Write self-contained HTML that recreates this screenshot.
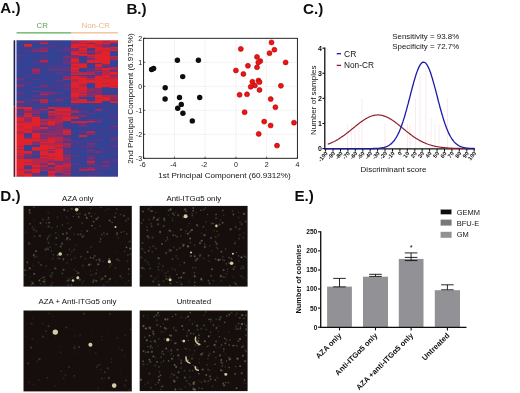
<!DOCTYPE html>
<html><head><meta charset="utf-8"><title>Figure</title>
<style>
html,body{margin:0;padding:0;background:#fff;}
body{width:520px;height:393px;overflow:hidden;font-family:"Liberation Sans",sans-serif;}
svg{display:block;font-family:"Liberation Sans",sans-serif;}
</style></head><body>
<svg width="520" height="393" viewBox="0 0 520 393">
<defs>
<filter id="hb" x="-2%" y="-2%" width="104%" height="104%"><feGaussianBlur stdDeviation="0.45 0.6"/></filter>
<filter id="sb" x="-5%" y="-5%" width="110%" height="110%"><feGaussianBlur stdDeviation="0.5"/></filter>
<clipPath id="hc"><rect x="16.3" y="40.3" width="101.7" height="136.5"/></clipPath>
<filter id="gb" x="0" y="0" width="100%" height="100%" filterUnits="userSpaceOnUse"><feGaussianBlur stdDeviation="0.32"/></filter>
</defs>
<rect width="520" height="393" fill="#fff"/>
<g filter="url(#gb)">
<g clip-path="url(#hc)"><g filter="url(#hb)"><rect x="12.30" y="36.30" width="109.70" height="144.50" fill="rgb(120,45,120)"/><rect x="16.30" y="40.30" width="101.70" height="136.50" fill="rgb(120,45,120)"/><g shape-rendering="crispEdges"><rect x="16.30" y="40.30" width="8.32" height="1.84" fill="rgb(50,66,148)"/><rect x="24.12" y="40.30" width="8.32" height="1.84" fill="rgb(50,66,148)"/><rect x="31.95" y="40.30" width="8.32" height="1.84" fill="rgb(64,60,142)"/><rect x="39.77" y="40.30" width="8.32" height="1.84" fill="rgb(88,55,134)"/><rect x="47.59" y="40.30" width="8.32" height="1.84" fill="rgb(64,60,142)"/><rect x="55.42" y="40.30" width="8.32" height="1.84" fill="rgb(64,60,142)"/><rect x="63.24" y="40.30" width="8.32" height="1.84" fill="rgb(50,66,148)"/><rect x="71.06" y="40.30" width="8.32" height="1.84" fill="rgb(182,40,76)"/><rect x="78.88" y="40.30" width="8.32" height="1.84" fill="rgb(182,40,76)"/><rect x="86.71" y="40.30" width="8.32" height="1.84" fill="rgb(226,34,44)"/><rect x="94.53" y="40.30" width="8.32" height="1.84" fill="rgb(226,34,44)"/><rect x="102.35" y="40.30" width="8.32" height="1.84" fill="rgb(182,40,76)"/><rect x="110.18" y="40.30" width="8.32" height="1.84" fill="rgb(226,34,44)"/><rect x="16.30" y="41.64" width="8.32" height="1.84" fill="rgb(64,60,142)"/><rect x="24.12" y="41.64" width="8.32" height="1.84" fill="rgb(50,66,148)"/><rect x="31.95" y="41.64" width="8.32" height="1.84" fill="rgb(88,55,134)"/><rect x="39.77" y="41.64" width="8.32" height="1.84" fill="rgb(130,45,110)"/><rect x="47.59" y="41.64" width="8.32" height="1.84" fill="rgb(50,66,148)"/><rect x="55.42" y="41.64" width="8.32" height="1.84" fill="rgb(64,60,142)"/><rect x="63.24" y="41.64" width="8.32" height="1.84" fill="rgb(50,66,148)"/><rect x="71.06" y="41.64" width="8.32" height="1.84" fill="rgb(130,45,110)"/><rect x="78.88" y="41.64" width="8.32" height="1.84" fill="rgb(226,34,44)"/><rect x="86.71" y="41.64" width="8.32" height="1.84" fill="rgb(226,34,44)"/><rect x="94.53" y="41.64" width="8.32" height="1.84" fill="rgb(226,34,44)"/><rect x="102.35" y="41.64" width="8.32" height="1.84" fill="rgb(182,40,76)"/><rect x="110.18" y="41.64" width="8.32" height="1.84" fill="rgb(226,34,44)"/><rect x="16.30" y="42.98" width="8.32" height="1.84" fill="rgb(64,60,142)"/><rect x="24.12" y="42.98" width="8.32" height="1.84" fill="rgb(64,60,142)"/><rect x="31.95" y="42.98" width="8.32" height="1.84" fill="rgb(64,60,142)"/><rect x="39.77" y="42.98" width="8.32" height="1.84" fill="rgb(226,34,44)"/><rect x="47.59" y="42.98" width="8.32" height="1.84" fill="rgb(64,60,142)"/><rect x="55.42" y="42.98" width="8.32" height="1.84" fill="rgb(64,60,142)"/><rect x="63.24" y="42.98" width="8.32" height="1.84" fill="rgb(50,66,148)"/><rect x="71.06" y="42.98" width="8.32" height="1.84" fill="rgb(182,40,76)"/><rect x="78.88" y="42.98" width="8.32" height="1.84" fill="rgb(182,40,76)"/><rect x="86.71" y="42.98" width="8.32" height="1.84" fill="rgb(88,55,134)"/><rect x="94.53" y="42.98" width="8.32" height="1.84" fill="rgb(226,34,44)"/><rect x="102.35" y="42.98" width="8.32" height="1.84" fill="rgb(226,34,44)"/><rect x="110.18" y="42.98" width="8.32" height="1.84" fill="rgb(64,60,142)"/><rect x="16.30" y="44.31" width="8.32" height="1.84" fill="rgb(50,66,148)"/><rect x="24.12" y="44.31" width="8.32" height="1.84" fill="rgb(226,34,44)"/><rect x="31.95" y="44.31" width="8.32" height="1.84" fill="rgb(50,66,148)"/><rect x="39.77" y="44.31" width="8.32" height="1.84" fill="rgb(50,66,148)"/><rect x="47.59" y="44.31" width="8.32" height="1.84" fill="rgb(64,60,142)"/><rect x="55.42" y="44.31" width="8.32" height="1.84" fill="rgb(64,60,142)"/><rect x="63.24" y="44.31" width="8.32" height="1.84" fill="rgb(50,66,148)"/><rect x="71.06" y="44.31" width="8.32" height="1.84" fill="rgb(226,34,44)"/><rect x="78.88" y="44.31" width="8.32" height="1.84" fill="rgb(226,34,44)"/><rect x="86.71" y="44.31" width="8.32" height="1.84" fill="rgb(226,34,44)"/><rect x="94.53" y="44.31" width="8.32" height="1.84" fill="rgb(182,40,76)"/><rect x="102.35" y="44.31" width="8.32" height="1.84" fill="rgb(130,45,110)"/><rect x="110.18" y="44.31" width="8.32" height="1.84" fill="rgb(50,66,148)"/><rect x="16.30" y="45.65" width="8.32" height="1.84" fill="rgb(50,66,148)"/><rect x="24.12" y="45.65" width="8.32" height="1.84" fill="rgb(182,40,76)"/><rect x="31.95" y="45.65" width="8.32" height="1.84" fill="rgb(50,66,148)"/><rect x="39.77" y="45.65" width="8.32" height="1.84" fill="rgb(64,60,142)"/><rect x="47.59" y="45.65" width="8.32" height="1.84" fill="rgb(88,55,134)"/><rect x="55.42" y="45.65" width="8.32" height="1.84" fill="rgb(50,66,148)"/><rect x="63.24" y="45.65" width="8.32" height="1.84" fill="rgb(50,66,148)"/><rect x="71.06" y="45.65" width="8.32" height="1.84" fill="rgb(226,34,44)"/><rect x="78.88" y="45.65" width="8.32" height="1.84" fill="rgb(182,40,76)"/><rect x="86.71" y="45.65" width="8.32" height="1.84" fill="rgb(226,34,44)"/><rect x="94.53" y="45.65" width="8.32" height="1.84" fill="rgb(182,40,76)"/><rect x="102.35" y="45.65" width="8.32" height="1.84" fill="rgb(88,55,134)"/><rect x="110.18" y="45.65" width="8.32" height="1.84" fill="rgb(64,60,142)"/><rect x="16.30" y="46.99" width="8.32" height="1.84" fill="rgb(50,66,148)"/><rect x="24.12" y="46.99" width="8.32" height="1.84" fill="rgb(50,66,148)"/><rect x="31.95" y="46.99" width="8.32" height="1.84" fill="rgb(50,66,148)"/><rect x="39.77" y="46.99" width="8.32" height="1.84" fill="rgb(88,55,134)"/><rect x="47.59" y="46.99" width="8.32" height="1.84" fill="rgb(64,60,142)"/><rect x="55.42" y="46.99" width="8.32" height="1.84" fill="rgb(64,60,142)"/><rect x="63.24" y="46.99" width="8.32" height="1.84" fill="rgb(88,55,134)"/><rect x="71.06" y="46.99" width="8.32" height="1.84" fill="rgb(226,34,44)"/><rect x="78.88" y="46.99" width="8.32" height="1.84" fill="rgb(182,40,76)"/><rect x="86.71" y="46.99" width="8.32" height="1.84" fill="rgb(226,34,44)"/><rect x="94.53" y="46.99" width="8.32" height="1.84" fill="rgb(226,34,44)"/><rect x="102.35" y="46.99" width="8.32" height="1.84" fill="rgb(182,40,76)"/><rect x="110.18" y="46.99" width="8.32" height="1.84" fill="rgb(226,34,44)"/><rect x="16.30" y="48.33" width="8.32" height="1.84" fill="rgb(50,66,148)"/><rect x="24.12" y="48.33" width="8.32" height="1.84" fill="rgb(64,60,142)"/><rect x="31.95" y="48.33" width="8.32" height="1.84" fill="rgb(88,55,134)"/><rect x="39.77" y="48.33" width="8.32" height="1.84" fill="rgb(130,45,110)"/><rect x="47.59" y="48.33" width="8.32" height="1.84" fill="rgb(50,66,148)"/><rect x="55.42" y="48.33" width="8.32" height="1.84" fill="rgb(50,66,148)"/><rect x="63.24" y="48.33" width="8.32" height="1.84" fill="rgb(88,55,134)"/><rect x="71.06" y="48.33" width="8.32" height="1.84" fill="rgb(130,45,110)"/><rect x="78.88" y="48.33" width="8.32" height="1.84" fill="rgb(226,34,44)"/><rect x="86.71" y="48.33" width="8.32" height="1.84" fill="rgb(64,60,142)"/><rect x="94.53" y="48.33" width="8.32" height="1.84" fill="rgb(226,34,44)"/><rect x="102.35" y="48.33" width="8.32" height="1.84" fill="rgb(226,34,44)"/><rect x="110.18" y="48.33" width="8.32" height="1.84" fill="rgb(182,40,76)"/><rect x="16.30" y="49.67" width="8.32" height="1.84" fill="rgb(50,66,148)"/><rect x="24.12" y="49.67" width="8.32" height="1.84" fill="rgb(88,55,134)"/><rect x="31.95" y="49.67" width="8.32" height="1.84" fill="rgb(130,45,110)"/><rect x="39.77" y="49.67" width="8.32" height="1.84" fill="rgb(130,45,110)"/><rect x="47.59" y="49.67" width="8.32" height="1.84" fill="rgb(64,60,142)"/><rect x="55.42" y="49.67" width="8.32" height="1.84" fill="rgb(88,55,134)"/><rect x="63.24" y="49.67" width="8.32" height="1.84" fill="rgb(88,55,134)"/><rect x="71.06" y="49.67" width="8.32" height="1.84" fill="rgb(130,45,110)"/><rect x="78.88" y="49.67" width="8.32" height="1.84" fill="rgb(182,40,76)"/><rect x="86.71" y="49.67" width="8.32" height="1.84" fill="rgb(64,60,142)"/><rect x="94.53" y="49.67" width="8.32" height="1.84" fill="rgb(226,34,44)"/><rect x="102.35" y="49.67" width="8.32" height="1.84" fill="rgb(182,40,76)"/><rect x="110.18" y="49.67" width="8.32" height="1.84" fill="rgb(226,34,44)"/><rect x="16.30" y="51.01" width="8.32" height="1.84" fill="rgb(64,60,142)"/><rect x="24.12" y="51.01" width="8.32" height="1.84" fill="rgb(64,60,142)"/><rect x="31.95" y="51.01" width="8.32" height="1.84" fill="rgb(130,45,110)"/><rect x="39.77" y="51.01" width="8.32" height="1.84" fill="rgb(182,40,76)"/><rect x="47.59" y="51.01" width="8.32" height="1.84" fill="rgb(50,66,148)"/><rect x="55.42" y="51.01" width="8.32" height="1.84" fill="rgb(50,66,148)"/><rect x="63.24" y="51.01" width="8.32" height="1.84" fill="rgb(64,60,142)"/><rect x="71.06" y="51.01" width="8.32" height="1.84" fill="rgb(182,40,76)"/><rect x="78.88" y="51.01" width="8.32" height="1.84" fill="rgb(226,34,44)"/><rect x="86.71" y="51.01" width="8.32" height="1.84" fill="rgb(182,40,76)"/><rect x="94.53" y="51.01" width="8.32" height="1.84" fill="rgb(182,40,76)"/><rect x="102.35" y="51.01" width="8.32" height="1.84" fill="rgb(226,34,44)"/><rect x="110.18" y="51.01" width="8.32" height="1.84" fill="rgb(50,66,148)"/><rect x="16.30" y="52.34" width="8.32" height="1.84" fill="rgb(50,66,148)"/><rect x="24.12" y="52.34" width="8.32" height="1.84" fill="rgb(50,66,148)"/><rect x="31.95" y="52.34" width="8.32" height="1.84" fill="rgb(50,66,148)"/><rect x="39.77" y="52.34" width="8.32" height="1.84" fill="rgb(50,66,148)"/><rect x="47.59" y="52.34" width="8.32" height="1.84" fill="rgb(50,66,148)"/><rect x="55.42" y="52.34" width="8.32" height="1.84" fill="rgb(50,66,148)"/><rect x="63.24" y="52.34" width="8.32" height="1.84" fill="rgb(64,60,142)"/><rect x="71.06" y="52.34" width="8.32" height="1.84" fill="rgb(226,34,44)"/><rect x="78.88" y="52.34" width="8.32" height="1.84" fill="rgb(182,40,76)"/><rect x="86.71" y="52.34" width="8.32" height="1.84" fill="rgb(88,55,134)"/><rect x="94.53" y="52.34" width="8.32" height="1.84" fill="rgb(182,40,76)"/><rect x="102.35" y="52.34" width="8.32" height="1.84" fill="rgb(226,34,44)"/><rect x="110.18" y="52.34" width="8.32" height="1.84" fill="rgb(50,66,148)"/><rect x="16.30" y="53.68" width="8.32" height="1.84" fill="rgb(64,60,142)"/><rect x="24.12" y="53.68" width="8.32" height="1.84" fill="rgb(50,66,148)"/><rect x="31.95" y="53.68" width="8.32" height="1.84" fill="rgb(50,66,148)"/><rect x="39.77" y="53.68" width="8.32" height="1.84" fill="rgb(50,66,148)"/><rect x="47.59" y="53.68" width="8.32" height="1.84" fill="rgb(50,66,148)"/><rect x="55.42" y="53.68" width="8.32" height="1.84" fill="rgb(64,60,142)"/><rect x="63.24" y="53.68" width="8.32" height="1.84" fill="rgb(50,66,148)"/><rect x="71.06" y="53.68" width="8.32" height="1.84" fill="rgb(226,34,44)"/><rect x="78.88" y="53.68" width="8.32" height="1.84" fill="rgb(226,34,44)"/><rect x="86.71" y="53.68" width="8.32" height="1.84" fill="rgb(130,45,110)"/><rect x="94.53" y="53.68" width="8.32" height="1.84" fill="rgb(226,34,44)"/><rect x="102.35" y="53.68" width="8.32" height="1.84" fill="rgb(226,34,44)"/><rect x="110.18" y="53.68" width="8.32" height="1.84" fill="rgb(50,66,148)"/><rect x="16.30" y="55.02" width="8.32" height="1.84" fill="rgb(88,55,134)"/><rect x="24.12" y="55.02" width="8.32" height="1.84" fill="rgb(64,60,142)"/><rect x="31.95" y="55.02" width="8.32" height="1.84" fill="rgb(64,60,142)"/><rect x="39.77" y="55.02" width="8.32" height="1.84" fill="rgb(88,55,134)"/><rect x="47.59" y="55.02" width="8.32" height="1.84" fill="rgb(50,66,148)"/><rect x="55.42" y="55.02" width="8.32" height="1.84" fill="rgb(50,66,148)"/><rect x="63.24" y="55.02" width="8.32" height="1.84" fill="rgb(50,66,148)"/><rect x="71.06" y="55.02" width="8.32" height="1.84" fill="rgb(130,45,110)"/><rect x="78.88" y="55.02" width="8.32" height="1.84" fill="rgb(226,34,44)"/><rect x="86.71" y="55.02" width="8.32" height="1.84" fill="rgb(226,34,44)"/><rect x="94.53" y="55.02" width="8.32" height="1.84" fill="rgb(226,34,44)"/><rect x="102.35" y="55.02" width="8.32" height="1.84" fill="rgb(226,34,44)"/><rect x="110.18" y="55.02" width="8.32" height="1.84" fill="rgb(50,66,148)"/><rect x="16.30" y="56.36" width="8.32" height="1.84" fill="rgb(64,60,142)"/><rect x="24.12" y="56.36" width="8.32" height="1.84" fill="rgb(50,66,148)"/><rect x="31.95" y="56.36" width="8.32" height="1.84" fill="rgb(50,66,148)"/><rect x="39.77" y="56.36" width="8.32" height="1.84" fill="rgb(64,60,142)"/><rect x="47.59" y="56.36" width="8.32" height="1.84" fill="rgb(50,66,148)"/><rect x="55.42" y="56.36" width="8.32" height="1.84" fill="rgb(50,66,148)"/><rect x="63.24" y="56.36" width="8.32" height="1.84" fill="rgb(130,45,110)"/><rect x="71.06" y="56.36" width="8.32" height="1.84" fill="rgb(130,45,110)"/><rect x="78.88" y="56.36" width="8.32" height="1.84" fill="rgb(50,66,148)"/><rect x="86.71" y="56.36" width="8.32" height="1.84" fill="rgb(182,40,76)"/><rect x="94.53" y="56.36" width="8.32" height="1.84" fill="rgb(226,34,44)"/><rect x="102.35" y="56.36" width="8.32" height="1.84" fill="rgb(226,34,44)"/><rect x="110.18" y="56.36" width="8.32" height="1.84" fill="rgb(182,40,76)"/><rect x="16.30" y="57.70" width="8.32" height="1.84" fill="rgb(50,66,148)"/><rect x="24.12" y="57.70" width="8.32" height="1.84" fill="rgb(50,66,148)"/><rect x="31.95" y="57.70" width="8.32" height="1.84" fill="rgb(50,66,148)"/><rect x="39.77" y="57.70" width="8.32" height="1.84" fill="rgb(88,55,134)"/><rect x="47.59" y="57.70" width="8.32" height="1.84" fill="rgb(50,66,148)"/><rect x="55.42" y="57.70" width="8.32" height="1.84" fill="rgb(64,60,142)"/><rect x="63.24" y="57.70" width="8.32" height="1.84" fill="rgb(88,55,134)"/><rect x="71.06" y="57.70" width="8.32" height="1.84" fill="rgb(182,40,76)"/><rect x="78.88" y="57.70" width="8.32" height="1.84" fill="rgb(50,66,148)"/><rect x="86.71" y="57.70" width="8.32" height="1.84" fill="rgb(130,45,110)"/><rect x="94.53" y="57.70" width="8.32" height="1.84" fill="rgb(226,34,44)"/><rect x="102.35" y="57.70" width="8.32" height="1.84" fill="rgb(226,34,44)"/><rect x="110.18" y="57.70" width="8.32" height="1.84" fill="rgb(130,45,110)"/><rect x="16.30" y="59.04" width="8.32" height="1.84" fill="rgb(50,66,148)"/><rect x="24.12" y="59.04" width="8.32" height="1.84" fill="rgb(50,66,148)"/><rect x="31.95" y="59.04" width="8.32" height="1.84" fill="rgb(64,60,142)"/><rect x="39.77" y="59.04" width="8.32" height="1.84" fill="rgb(50,66,148)"/><rect x="47.59" y="59.04" width="8.32" height="1.84" fill="rgb(50,66,148)"/><rect x="55.42" y="59.04" width="8.32" height="1.84" fill="rgb(64,60,142)"/><rect x="63.24" y="59.04" width="8.32" height="1.84" fill="rgb(88,55,134)"/><rect x="71.06" y="59.04" width="8.32" height="1.84" fill="rgb(226,34,44)"/><rect x="78.88" y="59.04" width="8.32" height="1.84" fill="rgb(50,66,148)"/><rect x="86.71" y="59.04" width="8.32" height="1.84" fill="rgb(130,45,110)"/><rect x="94.53" y="59.04" width="8.32" height="1.84" fill="rgb(226,34,44)"/><rect x="102.35" y="59.04" width="8.32" height="1.84" fill="rgb(226,34,44)"/><rect x="110.18" y="59.04" width="8.32" height="1.84" fill="rgb(182,40,76)"/><rect x="16.30" y="60.37" width="8.32" height="1.84" fill="rgb(50,66,148)"/><rect x="24.12" y="60.37" width="8.32" height="1.84" fill="rgb(50,66,148)"/><rect x="31.95" y="60.37" width="8.32" height="1.84" fill="rgb(64,60,142)"/><rect x="39.77" y="60.37" width="8.32" height="1.84" fill="rgb(182,40,76)"/><rect x="47.59" y="60.37" width="8.32" height="1.84" fill="rgb(50,66,148)"/><rect x="55.42" y="60.37" width="8.32" height="1.84" fill="rgb(50,66,148)"/><rect x="63.24" y="60.37" width="8.32" height="1.84" fill="rgb(88,55,134)"/><rect x="71.06" y="60.37" width="8.32" height="1.84" fill="rgb(226,34,44)"/><rect x="78.88" y="60.37" width="8.32" height="1.84" fill="rgb(64,60,142)"/><rect x="86.71" y="60.37" width="8.32" height="1.84" fill="rgb(226,34,44)"/><rect x="94.53" y="60.37" width="8.32" height="1.84" fill="rgb(226,34,44)"/><rect x="102.35" y="60.37" width="8.32" height="1.84" fill="rgb(226,34,44)"/><rect x="110.18" y="60.37" width="8.32" height="1.84" fill="rgb(50,66,148)"/><rect x="16.30" y="61.71" width="8.32" height="1.84" fill="rgb(64,60,142)"/><rect x="24.12" y="61.71" width="8.32" height="1.84" fill="rgb(50,66,148)"/><rect x="31.95" y="61.71" width="8.32" height="1.84" fill="rgb(88,55,134)"/><rect x="39.77" y="61.71" width="8.32" height="1.84" fill="rgb(130,45,110)"/><rect x="47.59" y="61.71" width="8.32" height="1.84" fill="rgb(50,66,148)"/><rect x="55.42" y="61.71" width="8.32" height="1.84" fill="rgb(64,60,142)"/><rect x="63.24" y="61.71" width="8.32" height="1.84" fill="rgb(130,45,110)"/><rect x="71.06" y="61.71" width="8.32" height="1.84" fill="rgb(182,40,76)"/><rect x="78.88" y="61.71" width="8.32" height="1.84" fill="rgb(50,66,148)"/><rect x="86.71" y="61.71" width="8.32" height="1.84" fill="rgb(226,34,44)"/><rect x="94.53" y="61.71" width="8.32" height="1.84" fill="rgb(226,34,44)"/><rect x="102.35" y="61.71" width="8.32" height="1.84" fill="rgb(226,34,44)"/><rect x="110.18" y="61.71" width="8.32" height="1.84" fill="rgb(50,66,148)"/><rect x="16.30" y="63.05" width="8.32" height="1.84" fill="rgb(64,60,142)"/><rect x="24.12" y="63.05" width="8.32" height="1.84" fill="rgb(50,66,148)"/><rect x="31.95" y="63.05" width="8.32" height="1.84" fill="rgb(50,66,148)"/><rect x="39.77" y="63.05" width="8.32" height="1.84" fill="rgb(64,60,142)"/><rect x="47.59" y="63.05" width="8.32" height="1.84" fill="rgb(64,60,142)"/><rect x="55.42" y="63.05" width="8.32" height="1.84" fill="rgb(50,66,148)"/><rect x="63.24" y="63.05" width="8.32" height="1.84" fill="rgb(88,55,134)"/><rect x="71.06" y="63.05" width="8.32" height="1.84" fill="rgb(182,40,76)"/><rect x="78.88" y="63.05" width="8.32" height="1.84" fill="rgb(182,40,76)"/><rect x="86.71" y="63.05" width="8.32" height="1.84" fill="rgb(64,60,142)"/><rect x="94.53" y="63.05" width="8.32" height="1.84" fill="rgb(88,55,134)"/><rect x="102.35" y="63.05" width="8.32" height="1.84" fill="rgb(226,34,44)"/><rect x="110.18" y="63.05" width="8.32" height="1.84" fill="rgb(50,66,148)"/><rect x="16.30" y="64.39" width="8.32" height="1.84" fill="rgb(50,66,148)"/><rect x="24.12" y="64.39" width="8.32" height="1.84" fill="rgb(50,66,148)"/><rect x="31.95" y="64.39" width="8.32" height="1.84" fill="rgb(50,66,148)"/><rect x="39.77" y="64.39" width="8.32" height="1.84" fill="rgb(64,60,142)"/><rect x="47.59" y="64.39" width="8.32" height="1.84" fill="rgb(50,66,148)"/><rect x="55.42" y="64.39" width="8.32" height="1.84" fill="rgb(64,60,142)"/><rect x="63.24" y="64.39" width="8.32" height="1.84" fill="rgb(50,66,148)"/><rect x="71.06" y="64.39" width="8.32" height="1.84" fill="rgb(226,34,44)"/><rect x="78.88" y="64.39" width="8.32" height="1.84" fill="rgb(226,34,44)"/><rect x="86.71" y="64.39" width="8.32" height="1.84" fill="rgb(64,60,142)"/><rect x="94.53" y="64.39" width="8.32" height="1.84" fill="rgb(226,34,44)"/><rect x="102.35" y="64.39" width="8.32" height="1.84" fill="rgb(130,45,110)"/><rect x="110.18" y="64.39" width="8.32" height="1.84" fill="rgb(50,66,148)"/><rect x="16.30" y="65.73" width="8.32" height="1.84" fill="rgb(50,66,148)"/><rect x="24.12" y="65.73" width="8.32" height="1.84" fill="rgb(50,66,148)"/><rect x="31.95" y="65.73" width="8.32" height="1.84" fill="rgb(64,60,142)"/><rect x="39.77" y="65.73" width="8.32" height="1.84" fill="rgb(64,60,142)"/><rect x="47.59" y="65.73" width="8.32" height="1.84" fill="rgb(88,55,134)"/><rect x="55.42" y="65.73" width="8.32" height="1.84" fill="rgb(88,55,134)"/><rect x="63.24" y="65.73" width="8.32" height="1.84" fill="rgb(64,60,142)"/><rect x="71.06" y="65.73" width="8.32" height="1.84" fill="rgb(182,40,76)"/><rect x="78.88" y="65.73" width="8.32" height="1.84" fill="rgb(226,34,44)"/><rect x="86.71" y="65.73" width="8.32" height="1.84" fill="rgb(50,66,148)"/><rect x="94.53" y="65.73" width="8.32" height="1.84" fill="rgb(226,34,44)"/><rect x="102.35" y="65.73" width="8.32" height="1.84" fill="rgb(88,55,134)"/><rect x="110.18" y="65.73" width="8.32" height="1.84" fill="rgb(50,66,148)"/><rect x="16.30" y="67.06" width="8.32" height="1.84" fill="rgb(50,66,148)"/><rect x="24.12" y="67.06" width="8.32" height="1.84" fill="rgb(50,66,148)"/><rect x="31.95" y="67.06" width="8.32" height="1.84" fill="rgb(64,60,142)"/><rect x="39.77" y="67.06" width="8.32" height="1.84" fill="rgb(64,60,142)"/><rect x="47.59" y="67.06" width="8.32" height="1.84" fill="rgb(64,60,142)"/><rect x="55.42" y="67.06" width="8.32" height="1.84" fill="rgb(50,66,148)"/><rect x="63.24" y="67.06" width="8.32" height="1.84" fill="rgb(88,55,134)"/><rect x="71.06" y="67.06" width="8.32" height="1.84" fill="rgb(226,34,44)"/><rect x="78.88" y="67.06" width="8.32" height="1.84" fill="rgb(226,34,44)"/><rect x="86.71" y="67.06" width="8.32" height="1.84" fill="rgb(50,66,148)"/><rect x="94.53" y="67.06" width="8.32" height="1.84" fill="rgb(130,45,110)"/><rect x="102.35" y="67.06" width="8.32" height="1.84" fill="rgb(88,55,134)"/><rect x="110.18" y="67.06" width="8.32" height="1.84" fill="rgb(182,40,76)"/><rect x="16.30" y="68.40" width="8.32" height="1.84" fill="rgb(50,66,148)"/><rect x="24.12" y="68.40" width="8.32" height="1.84" fill="rgb(64,60,142)"/><rect x="31.95" y="68.40" width="8.32" height="1.84" fill="rgb(130,45,110)"/><rect x="39.77" y="68.40" width="8.32" height="1.84" fill="rgb(50,66,148)"/><rect x="47.59" y="68.40" width="8.32" height="1.84" fill="rgb(88,55,134)"/><rect x="55.42" y="68.40" width="8.32" height="1.84" fill="rgb(88,55,134)"/><rect x="63.24" y="68.40" width="8.32" height="1.84" fill="rgb(88,55,134)"/><rect x="71.06" y="68.40" width="8.32" height="1.84" fill="rgb(226,34,44)"/><rect x="78.88" y="68.40" width="8.32" height="1.84" fill="rgb(50,66,148)"/><rect x="86.71" y="68.40" width="8.32" height="1.84" fill="rgb(88,55,134)"/><rect x="94.53" y="68.40" width="8.32" height="1.84" fill="rgb(182,40,76)"/><rect x="102.35" y="68.40" width="8.32" height="1.84" fill="rgb(226,34,44)"/><rect x="110.18" y="68.40" width="8.32" height="1.84" fill="rgb(182,40,76)"/><rect x="16.30" y="69.74" width="8.32" height="1.84" fill="rgb(50,66,148)"/><rect x="24.12" y="69.74" width="8.32" height="1.84" fill="rgb(50,66,148)"/><rect x="31.95" y="69.74" width="8.32" height="1.84" fill="rgb(182,40,76)"/><rect x="39.77" y="69.74" width="8.32" height="1.84" fill="rgb(50,66,148)"/><rect x="47.59" y="69.74" width="8.32" height="1.84" fill="rgb(88,55,134)"/><rect x="55.42" y="69.74" width="8.32" height="1.84" fill="rgb(88,55,134)"/><rect x="63.24" y="69.74" width="8.32" height="1.84" fill="rgb(130,45,110)"/><rect x="71.06" y="69.74" width="8.32" height="1.84" fill="rgb(182,40,76)"/><rect x="78.88" y="69.74" width="8.32" height="1.84" fill="rgb(50,66,148)"/><rect x="86.71" y="69.74" width="8.32" height="1.84" fill="rgb(88,55,134)"/><rect x="94.53" y="69.74" width="8.32" height="1.84" fill="rgb(88,55,134)"/><rect x="102.35" y="69.74" width="8.32" height="1.84" fill="rgb(182,40,76)"/><rect x="110.18" y="69.74" width="8.32" height="1.84" fill="rgb(88,55,134)"/><rect x="16.30" y="71.08" width="8.32" height="1.84" fill="rgb(64,60,142)"/><rect x="24.12" y="71.08" width="8.32" height="1.84" fill="rgb(64,60,142)"/><rect x="31.95" y="71.08" width="8.32" height="1.84" fill="rgb(130,45,110)"/><rect x="39.77" y="71.08" width="8.32" height="1.84" fill="rgb(64,60,142)"/><rect x="47.59" y="71.08" width="8.32" height="1.84" fill="rgb(50,66,148)"/><rect x="55.42" y="71.08" width="8.32" height="1.84" fill="rgb(50,66,148)"/><rect x="63.24" y="71.08" width="8.32" height="1.84" fill="rgb(50,66,148)"/><rect x="71.06" y="71.08" width="8.32" height="1.84" fill="rgb(226,34,44)"/><rect x="78.88" y="71.08" width="8.32" height="1.84" fill="rgb(50,66,148)"/><rect x="86.71" y="71.08" width="8.32" height="1.84" fill="rgb(130,45,110)"/><rect x="94.53" y="71.08" width="8.32" height="1.84" fill="rgb(182,40,76)"/><rect x="102.35" y="71.08" width="8.32" height="1.84" fill="rgb(182,40,76)"/><rect x="110.18" y="71.08" width="8.32" height="1.84" fill="rgb(130,45,110)"/><rect x="16.30" y="72.42" width="8.32" height="1.84" fill="rgb(50,66,148)"/><rect x="24.12" y="72.42" width="8.32" height="1.84" fill="rgb(50,66,148)"/><rect x="31.95" y="72.42" width="8.32" height="1.84" fill="rgb(130,45,110)"/><rect x="39.77" y="72.42" width="8.32" height="1.84" fill="rgb(50,66,148)"/><rect x="47.59" y="72.42" width="8.32" height="1.84" fill="rgb(50,66,148)"/><rect x="55.42" y="72.42" width="8.32" height="1.84" fill="rgb(88,55,134)"/><rect x="63.24" y="72.42" width="8.32" height="1.84" fill="rgb(64,60,142)"/><rect x="71.06" y="72.42" width="8.32" height="1.84" fill="rgb(182,40,76)"/><rect x="78.88" y="72.42" width="8.32" height="1.84" fill="rgb(182,40,76)"/><rect x="86.71" y="72.42" width="8.32" height="1.84" fill="rgb(182,40,76)"/><rect x="94.53" y="72.42" width="8.32" height="1.84" fill="rgb(88,55,134)"/><rect x="102.35" y="72.42" width="8.32" height="1.84" fill="rgb(182,40,76)"/><rect x="110.18" y="72.42" width="8.32" height="1.84" fill="rgb(226,34,44)"/><rect x="16.30" y="73.76" width="8.32" height="1.84" fill="rgb(50,66,148)"/><rect x="24.12" y="73.76" width="8.32" height="1.84" fill="rgb(64,60,142)"/><rect x="31.95" y="73.76" width="8.32" height="1.84" fill="rgb(64,60,142)"/><rect x="39.77" y="73.76" width="8.32" height="1.84" fill="rgb(50,66,148)"/><rect x="47.59" y="73.76" width="8.32" height="1.84" fill="rgb(50,66,148)"/><rect x="55.42" y="73.76" width="8.32" height="1.84" fill="rgb(88,55,134)"/><rect x="63.24" y="73.76" width="8.32" height="1.84" fill="rgb(64,60,142)"/><rect x="71.06" y="73.76" width="8.32" height="1.84" fill="rgb(226,34,44)"/><rect x="78.88" y="73.76" width="8.32" height="1.84" fill="rgb(226,34,44)"/><rect x="86.71" y="73.76" width="8.32" height="1.84" fill="rgb(182,40,76)"/><rect x="94.53" y="73.76" width="8.32" height="1.84" fill="rgb(130,45,110)"/><rect x="102.35" y="73.76" width="8.32" height="1.84" fill="rgb(182,40,76)"/><rect x="110.18" y="73.76" width="8.32" height="1.84" fill="rgb(226,34,44)"/><rect x="16.30" y="75.09" width="8.32" height="1.84" fill="rgb(50,66,148)"/><rect x="24.12" y="75.09" width="8.32" height="1.84" fill="rgb(88,55,134)"/><rect x="31.95" y="75.09" width="8.32" height="1.84" fill="rgb(64,60,142)"/><rect x="39.77" y="75.09" width="8.32" height="1.84" fill="rgb(64,60,142)"/><rect x="47.59" y="75.09" width="8.32" height="1.84" fill="rgb(50,66,148)"/><rect x="55.42" y="75.09" width="8.32" height="1.84" fill="rgb(50,66,148)"/><rect x="63.24" y="75.09" width="8.32" height="1.84" fill="rgb(64,60,142)"/><rect x="71.06" y="75.09" width="8.32" height="1.84" fill="rgb(88,55,134)"/><rect x="78.88" y="75.09" width="8.32" height="1.84" fill="rgb(64,60,142)"/><rect x="86.71" y="75.09" width="8.32" height="1.84" fill="rgb(50,66,148)"/><rect x="94.53" y="75.09" width="8.32" height="1.84" fill="rgb(130,45,110)"/><rect x="102.35" y="75.09" width="8.32" height="1.84" fill="rgb(226,34,44)"/><rect x="110.18" y="75.09" width="8.32" height="1.84" fill="rgb(88,55,134)"/><rect x="16.30" y="76.43" width="8.32" height="1.84" fill="rgb(64,60,142)"/><rect x="24.12" y="76.43" width="8.32" height="1.84" fill="rgb(50,66,148)"/><rect x="31.95" y="76.43" width="8.32" height="1.84" fill="rgb(50,66,148)"/><rect x="39.77" y="76.43" width="8.32" height="1.84" fill="rgb(50,66,148)"/><rect x="47.59" y="76.43" width="8.32" height="1.84" fill="rgb(64,60,142)"/><rect x="55.42" y="76.43" width="8.32" height="1.84" fill="rgb(50,66,148)"/><rect x="63.24" y="76.43" width="8.32" height="1.84" fill="rgb(130,45,110)"/><rect x="71.06" y="76.43" width="8.32" height="1.84" fill="rgb(226,34,44)"/><rect x="78.88" y="76.43" width="8.32" height="1.84" fill="rgb(182,40,76)"/><rect x="86.71" y="76.43" width="8.32" height="1.84" fill="rgb(88,55,134)"/><rect x="94.53" y="76.43" width="8.32" height="1.84" fill="rgb(226,34,44)"/><rect x="102.35" y="76.43" width="8.32" height="1.84" fill="rgb(226,34,44)"/><rect x="110.18" y="76.43" width="8.32" height="1.84" fill="rgb(182,40,76)"/><rect x="16.30" y="77.77" width="8.32" height="1.84" fill="rgb(88,55,134)"/><rect x="24.12" y="77.77" width="8.32" height="1.84" fill="rgb(50,66,148)"/><rect x="31.95" y="77.77" width="8.32" height="1.84" fill="rgb(64,60,142)"/><rect x="39.77" y="77.77" width="8.32" height="1.84" fill="rgb(50,66,148)"/><rect x="47.59" y="77.77" width="8.32" height="1.84" fill="rgb(50,66,148)"/><rect x="55.42" y="77.77" width="8.32" height="1.84" fill="rgb(50,66,148)"/><rect x="63.24" y="77.77" width="8.32" height="1.84" fill="rgb(130,45,110)"/><rect x="71.06" y="77.77" width="8.32" height="1.84" fill="rgb(226,34,44)"/><rect x="78.88" y="77.77" width="8.32" height="1.84" fill="rgb(226,34,44)"/><rect x="86.71" y="77.77" width="8.32" height="1.84" fill="rgb(182,40,76)"/><rect x="94.53" y="77.77" width="8.32" height="1.84" fill="rgb(226,34,44)"/><rect x="102.35" y="77.77" width="8.32" height="1.84" fill="rgb(182,40,76)"/><rect x="110.18" y="77.77" width="8.32" height="1.84" fill="rgb(182,40,76)"/><rect x="16.30" y="79.11" width="8.32" height="1.84" fill="rgb(130,45,110)"/><rect x="24.12" y="79.11" width="8.32" height="1.84" fill="rgb(50,66,148)"/><rect x="31.95" y="79.11" width="8.32" height="1.84" fill="rgb(88,55,134)"/><rect x="39.77" y="79.11" width="8.32" height="1.84" fill="rgb(50,66,148)"/><rect x="47.59" y="79.11" width="8.32" height="1.84" fill="rgb(50,66,148)"/><rect x="55.42" y="79.11" width="8.32" height="1.84" fill="rgb(64,60,142)"/><rect x="63.24" y="79.11" width="8.32" height="1.84" fill="rgb(182,40,76)"/><rect x="71.06" y="79.11" width="8.32" height="1.84" fill="rgb(182,40,76)"/><rect x="78.88" y="79.11" width="8.32" height="1.84" fill="rgb(226,34,44)"/><rect x="86.71" y="79.11" width="8.32" height="1.84" fill="rgb(182,40,76)"/><rect x="94.53" y="79.11" width="8.32" height="1.84" fill="rgb(226,34,44)"/><rect x="102.35" y="79.11" width="8.32" height="1.84" fill="rgb(226,34,44)"/><rect x="110.18" y="79.11" width="8.32" height="1.84" fill="rgb(226,34,44)"/><rect x="16.30" y="80.45" width="8.32" height="1.84" fill="rgb(64,60,142)"/><rect x="24.12" y="80.45" width="8.32" height="1.84" fill="rgb(64,60,142)"/><rect x="31.95" y="80.45" width="8.32" height="1.84" fill="rgb(50,66,148)"/><rect x="39.77" y="80.45" width="8.32" height="1.84" fill="rgb(64,60,142)"/><rect x="47.59" y="80.45" width="8.32" height="1.84" fill="rgb(50,66,148)"/><rect x="55.42" y="80.45" width="8.32" height="1.84" fill="rgb(88,55,134)"/><rect x="63.24" y="80.45" width="8.32" height="1.84" fill="rgb(50,66,148)"/><rect x="71.06" y="80.45" width="8.32" height="1.84" fill="rgb(182,40,76)"/><rect x="78.88" y="80.45" width="8.32" height="1.84" fill="rgb(226,34,44)"/><rect x="86.71" y="80.45" width="8.32" height="1.84" fill="rgb(226,34,44)"/><rect x="94.53" y="80.45" width="8.32" height="1.84" fill="rgb(226,34,44)"/><rect x="102.35" y="80.45" width="8.32" height="1.84" fill="rgb(226,34,44)"/><rect x="110.18" y="80.45" width="8.32" height="1.84" fill="rgb(226,34,44)"/><rect x="16.30" y="81.79" width="8.32" height="1.84" fill="rgb(64,60,142)"/><rect x="24.12" y="81.79" width="8.32" height="1.84" fill="rgb(64,60,142)"/><rect x="31.95" y="81.79" width="8.32" height="1.84" fill="rgb(64,60,142)"/><rect x="39.77" y="81.79" width="8.32" height="1.84" fill="rgb(50,66,148)"/><rect x="47.59" y="81.79" width="8.32" height="1.84" fill="rgb(50,66,148)"/><rect x="55.42" y="81.79" width="8.32" height="1.84" fill="rgb(64,60,142)"/><rect x="63.24" y="81.79" width="8.32" height="1.84" fill="rgb(50,66,148)"/><rect x="71.06" y="81.79" width="8.32" height="1.84" fill="rgb(226,34,44)"/><rect x="78.88" y="81.79" width="8.32" height="1.84" fill="rgb(226,34,44)"/><rect x="86.71" y="81.79" width="8.32" height="1.84" fill="rgb(226,34,44)"/><rect x="94.53" y="81.79" width="8.32" height="1.84" fill="rgb(226,34,44)"/><rect x="102.35" y="81.79" width="8.32" height="1.84" fill="rgb(226,34,44)"/><rect x="110.18" y="81.79" width="8.32" height="1.84" fill="rgb(226,34,44)"/><rect x="16.30" y="83.12" width="8.32" height="1.84" fill="rgb(64,60,142)"/><rect x="24.12" y="83.12" width="8.32" height="1.84" fill="rgb(88,55,134)"/><rect x="31.95" y="83.12" width="8.32" height="1.84" fill="rgb(50,66,148)"/><rect x="39.77" y="83.12" width="8.32" height="1.84" fill="rgb(64,60,142)"/><rect x="47.59" y="83.12" width="8.32" height="1.84" fill="rgb(50,66,148)"/><rect x="55.42" y="83.12" width="8.32" height="1.84" fill="rgb(50,66,148)"/><rect x="63.24" y="83.12" width="8.32" height="1.84" fill="rgb(88,55,134)"/><rect x="71.06" y="83.12" width="8.32" height="1.84" fill="rgb(226,34,44)"/><rect x="78.88" y="83.12" width="8.32" height="1.84" fill="rgb(226,34,44)"/><rect x="86.71" y="83.12" width="8.32" height="1.84" fill="rgb(50,66,148)"/><rect x="94.53" y="83.12" width="8.32" height="1.84" fill="rgb(226,34,44)"/><rect x="102.35" y="83.12" width="8.32" height="1.84" fill="rgb(182,40,76)"/><rect x="110.18" y="83.12" width="8.32" height="1.84" fill="rgb(226,34,44)"/><rect x="16.30" y="84.46" width="8.32" height="1.84" fill="rgb(130,45,110)"/><rect x="24.12" y="84.46" width="8.32" height="1.84" fill="rgb(50,66,148)"/><rect x="31.95" y="84.46" width="8.32" height="1.84" fill="rgb(50,66,148)"/><rect x="39.77" y="84.46" width="8.32" height="1.84" fill="rgb(88,55,134)"/><rect x="47.59" y="84.46" width="8.32" height="1.84" fill="rgb(64,60,142)"/><rect x="55.42" y="84.46" width="8.32" height="1.84" fill="rgb(64,60,142)"/><rect x="63.24" y="84.46" width="8.32" height="1.84" fill="rgb(88,55,134)"/><rect x="71.06" y="84.46" width="8.32" height="1.84" fill="rgb(226,34,44)"/><rect x="78.88" y="84.46" width="8.32" height="1.84" fill="rgb(182,40,76)"/><rect x="86.71" y="84.46" width="8.32" height="1.84" fill="rgb(50,66,148)"/><rect x="94.53" y="84.46" width="8.32" height="1.84" fill="rgb(226,34,44)"/><rect x="102.35" y="84.46" width="8.32" height="1.84" fill="rgb(226,34,44)"/><rect x="110.18" y="84.46" width="8.32" height="1.84" fill="rgb(226,34,44)"/><rect x="16.30" y="85.80" width="8.32" height="1.84" fill="rgb(130,45,110)"/><rect x="24.12" y="85.80" width="8.32" height="1.84" fill="rgb(50,66,148)"/><rect x="31.95" y="85.80" width="8.32" height="1.84" fill="rgb(50,66,148)"/><rect x="39.77" y="85.80" width="8.32" height="1.84" fill="rgb(130,45,110)"/><rect x="47.59" y="85.80" width="8.32" height="1.84" fill="rgb(88,55,134)"/><rect x="55.42" y="85.80" width="8.32" height="1.84" fill="rgb(50,66,148)"/><rect x="63.24" y="85.80" width="8.32" height="1.84" fill="rgb(88,55,134)"/><rect x="71.06" y="85.80" width="8.32" height="1.84" fill="rgb(226,34,44)"/><rect x="78.88" y="85.80" width="8.32" height="1.84" fill="rgb(182,40,76)"/><rect x="86.71" y="85.80" width="8.32" height="1.84" fill="rgb(50,66,148)"/><rect x="94.53" y="85.80" width="8.32" height="1.84" fill="rgb(226,34,44)"/><rect x="102.35" y="85.80" width="8.32" height="1.84" fill="rgb(226,34,44)"/><rect x="110.18" y="85.80" width="8.32" height="1.84" fill="rgb(182,40,76)"/><rect x="16.30" y="87.14" width="8.32" height="1.84" fill="rgb(64,60,142)"/><rect x="24.12" y="87.14" width="8.32" height="1.84" fill="rgb(64,60,142)"/><rect x="31.95" y="87.14" width="8.32" height="1.84" fill="rgb(88,55,134)"/><rect x="39.77" y="87.14" width="8.32" height="1.84" fill="rgb(64,60,142)"/><rect x="47.59" y="87.14" width="8.32" height="1.84" fill="rgb(50,66,148)"/><rect x="55.42" y="87.14" width="8.32" height="1.84" fill="rgb(64,60,142)"/><rect x="63.24" y="87.14" width="8.32" height="1.84" fill="rgb(64,60,142)"/><rect x="71.06" y="87.14" width="8.32" height="1.84" fill="rgb(226,34,44)"/><rect x="78.88" y="87.14" width="8.32" height="1.84" fill="rgb(226,34,44)"/><rect x="86.71" y="87.14" width="8.32" height="1.84" fill="rgb(50,66,148)"/><rect x="94.53" y="87.14" width="8.32" height="1.84" fill="rgb(226,34,44)"/><rect x="102.35" y="87.14" width="8.32" height="1.84" fill="rgb(88,55,134)"/><rect x="110.18" y="87.14" width="8.32" height="1.84" fill="rgb(226,34,44)"/><rect x="16.30" y="88.48" width="8.32" height="1.84" fill="rgb(50,66,148)"/><rect x="24.12" y="88.48" width="8.32" height="1.84" fill="rgb(64,60,142)"/><rect x="31.95" y="88.48" width="8.32" height="1.84" fill="rgb(50,66,148)"/><rect x="39.77" y="88.48" width="8.32" height="1.84" fill="rgb(50,66,148)"/><rect x="47.59" y="88.48" width="8.32" height="1.84" fill="rgb(64,60,142)"/><rect x="55.42" y="88.48" width="8.32" height="1.84" fill="rgb(64,60,142)"/><rect x="63.24" y="88.48" width="8.32" height="1.84" fill="rgb(88,55,134)"/><rect x="71.06" y="88.48" width="8.32" height="1.84" fill="rgb(182,40,76)"/><rect x="78.88" y="88.48" width="8.32" height="1.84" fill="rgb(226,34,44)"/><rect x="86.71" y="88.48" width="8.32" height="1.84" fill="rgb(130,45,110)"/><rect x="94.53" y="88.48" width="8.32" height="1.84" fill="rgb(130,45,110)"/><rect x="102.35" y="88.48" width="8.32" height="1.84" fill="rgb(50,66,148)"/><rect x="110.18" y="88.48" width="8.32" height="1.84" fill="rgb(64,60,142)"/><rect x="16.30" y="89.81" width="8.32" height="1.84" fill="rgb(64,60,142)"/><rect x="24.12" y="89.81" width="8.32" height="1.84" fill="rgb(50,66,148)"/><rect x="31.95" y="89.81" width="8.32" height="1.84" fill="rgb(50,66,148)"/><rect x="39.77" y="89.81" width="8.32" height="1.84" fill="rgb(50,66,148)"/><rect x="47.59" y="89.81" width="8.32" height="1.84" fill="rgb(50,66,148)"/><rect x="55.42" y="89.81" width="8.32" height="1.84" fill="rgb(50,66,148)"/><rect x="63.24" y="89.81" width="8.32" height="1.84" fill="rgb(64,60,142)"/><rect x="71.06" y="89.81" width="8.32" height="1.84" fill="rgb(226,34,44)"/><rect x="78.88" y="89.81" width="8.32" height="1.84" fill="rgb(182,40,76)"/><rect x="86.71" y="89.81" width="8.32" height="1.84" fill="rgb(182,40,76)"/><rect x="94.53" y="89.81" width="8.32" height="1.84" fill="rgb(130,45,110)"/><rect x="102.35" y="89.81" width="8.32" height="1.84" fill="rgb(64,60,142)"/><rect x="110.18" y="89.81" width="8.32" height="1.84" fill="rgb(50,66,148)"/><rect x="16.30" y="91.15" width="8.32" height="1.84" fill="rgb(50,66,148)"/><rect x="24.12" y="91.15" width="8.32" height="1.84" fill="rgb(50,66,148)"/><rect x="31.95" y="91.15" width="8.32" height="1.84" fill="rgb(130,45,110)"/><rect x="39.77" y="91.15" width="8.32" height="1.84" fill="rgb(88,55,134)"/><rect x="47.59" y="91.15" width="8.32" height="1.84" fill="rgb(88,55,134)"/><rect x="55.42" y="91.15" width="8.32" height="1.84" fill="rgb(50,66,148)"/><rect x="63.24" y="91.15" width="8.32" height="1.84" fill="rgb(64,60,142)"/><rect x="71.06" y="91.15" width="8.32" height="1.84" fill="rgb(182,40,76)"/><rect x="78.88" y="91.15" width="8.32" height="1.84" fill="rgb(226,34,44)"/><rect x="86.71" y="91.15" width="8.32" height="1.84" fill="rgb(88,55,134)"/><rect x="94.53" y="91.15" width="8.32" height="1.84" fill="rgb(130,45,110)"/><rect x="102.35" y="91.15" width="8.32" height="1.84" fill="rgb(50,66,148)"/><rect x="110.18" y="91.15" width="8.32" height="1.84" fill="rgb(64,60,142)"/><rect x="16.30" y="92.49" width="8.32" height="1.84" fill="rgb(88,55,134)"/><rect x="24.12" y="92.49" width="8.32" height="1.84" fill="rgb(50,66,148)"/><rect x="31.95" y="92.49" width="8.32" height="1.84" fill="rgb(50,66,148)"/><rect x="39.77" y="92.49" width="8.32" height="1.84" fill="rgb(130,45,110)"/><rect x="47.59" y="92.49" width="8.32" height="1.84" fill="rgb(130,45,110)"/><rect x="55.42" y="92.49" width="8.32" height="1.84" fill="rgb(88,55,134)"/><rect x="63.24" y="92.49" width="8.32" height="1.84" fill="rgb(50,66,148)"/><rect x="71.06" y="92.49" width="8.32" height="1.84" fill="rgb(226,34,44)"/><rect x="78.88" y="92.49" width="8.32" height="1.84" fill="rgb(182,40,76)"/><rect x="86.71" y="92.49" width="8.32" height="1.84" fill="rgb(130,45,110)"/><rect x="94.53" y="92.49" width="8.32" height="1.84" fill="rgb(130,45,110)"/><rect x="102.35" y="92.49" width="8.32" height="1.84" fill="rgb(64,60,142)"/><rect x="110.18" y="92.49" width="8.32" height="1.84" fill="rgb(50,66,148)"/><rect x="16.30" y="93.83" width="8.32" height="1.84" fill="rgb(88,55,134)"/><rect x="24.12" y="93.83" width="8.32" height="1.84" fill="rgb(64,60,142)"/><rect x="31.95" y="93.83" width="8.32" height="1.84" fill="rgb(50,66,148)"/><rect x="39.77" y="93.83" width="8.32" height="1.84" fill="rgb(182,40,76)"/><rect x="47.59" y="93.83" width="8.32" height="1.84" fill="rgb(88,55,134)"/><rect x="55.42" y="93.83" width="8.32" height="1.84" fill="rgb(50,66,148)"/><rect x="63.24" y="93.83" width="8.32" height="1.84" fill="rgb(50,66,148)"/><rect x="71.06" y="93.83" width="8.32" height="1.84" fill="rgb(226,34,44)"/><rect x="78.88" y="93.83" width="8.32" height="1.84" fill="rgb(226,34,44)"/><rect x="86.71" y="93.83" width="8.32" height="1.84" fill="rgb(130,45,110)"/><rect x="94.53" y="93.83" width="8.32" height="1.84" fill="rgb(130,45,110)"/><rect x="102.35" y="93.83" width="8.32" height="1.84" fill="rgb(64,60,142)"/><rect x="110.18" y="93.83" width="8.32" height="1.84" fill="rgb(64,60,142)"/><rect x="16.30" y="95.17" width="8.32" height="1.84" fill="rgb(64,60,142)"/><rect x="24.12" y="95.17" width="8.32" height="1.84" fill="rgb(50,66,148)"/><rect x="31.95" y="95.17" width="8.32" height="1.84" fill="rgb(88,55,134)"/><rect x="39.77" y="95.17" width="8.32" height="1.84" fill="rgb(88,55,134)"/><rect x="47.59" y="95.17" width="8.32" height="1.84" fill="rgb(64,60,142)"/><rect x="55.42" y="95.17" width="8.32" height="1.84" fill="rgb(50,66,148)"/><rect x="63.24" y="95.17" width="8.32" height="1.84" fill="rgb(64,60,142)"/><rect x="71.06" y="95.17" width="8.32" height="1.84" fill="rgb(226,34,44)"/><rect x="78.88" y="95.17" width="8.32" height="1.84" fill="rgb(182,40,76)"/><rect x="86.71" y="95.17" width="8.32" height="1.84" fill="rgb(130,45,110)"/><rect x="94.53" y="95.17" width="8.32" height="1.84" fill="rgb(226,34,44)"/><rect x="102.35" y="95.17" width="8.32" height="1.84" fill="rgb(182,40,76)"/><rect x="110.18" y="95.17" width="8.32" height="1.84" fill="rgb(182,40,76)"/><rect x="16.30" y="96.51" width="8.32" height="1.84" fill="rgb(50,66,148)"/><rect x="24.12" y="96.51" width="8.32" height="1.84" fill="rgb(50,66,148)"/><rect x="31.95" y="96.51" width="8.32" height="1.84" fill="rgb(50,66,148)"/><rect x="39.77" y="96.51" width="8.32" height="1.84" fill="rgb(50,66,148)"/><rect x="47.59" y="96.51" width="8.32" height="1.84" fill="rgb(64,60,142)"/><rect x="55.42" y="96.51" width="8.32" height="1.84" fill="rgb(64,60,142)"/><rect x="63.24" y="96.51" width="8.32" height="1.84" fill="rgb(88,55,134)"/><rect x="71.06" y="96.51" width="8.32" height="1.84" fill="rgb(182,40,76)"/><rect x="78.88" y="96.51" width="8.32" height="1.84" fill="rgb(50,66,148)"/><rect x="86.71" y="96.51" width="8.32" height="1.84" fill="rgb(50,66,148)"/><rect x="94.53" y="96.51" width="8.32" height="1.84" fill="rgb(226,34,44)"/><rect x="102.35" y="96.51" width="8.32" height="1.84" fill="rgb(226,34,44)"/><rect x="110.18" y="96.51" width="8.32" height="1.84" fill="rgb(130,45,110)"/><rect x="16.30" y="97.84" width="8.32" height="1.84" fill="rgb(50,66,148)"/><rect x="24.12" y="97.84" width="8.32" height="1.84" fill="rgb(50,66,148)"/><rect x="31.95" y="97.84" width="8.32" height="1.84" fill="rgb(50,66,148)"/><rect x="39.77" y="97.84" width="8.32" height="1.84" fill="rgb(50,66,148)"/><rect x="47.59" y="97.84" width="8.32" height="1.84" fill="rgb(50,66,148)"/><rect x="55.42" y="97.84" width="8.32" height="1.84" fill="rgb(50,66,148)"/><rect x="63.24" y="97.84" width="8.32" height="1.84" fill="rgb(64,60,142)"/><rect x="71.06" y="97.84" width="8.32" height="1.84" fill="rgb(182,40,76)"/><rect x="78.88" y="97.84" width="8.32" height="1.84" fill="rgb(50,66,148)"/><rect x="86.71" y="97.84" width="8.32" height="1.84" fill="rgb(50,66,148)"/><rect x="94.53" y="97.84" width="8.32" height="1.84" fill="rgb(182,40,76)"/><rect x="102.35" y="97.84" width="8.32" height="1.84" fill="rgb(226,34,44)"/><rect x="110.18" y="97.84" width="8.32" height="1.84" fill="rgb(182,40,76)"/><rect x="16.30" y="99.18" width="8.32" height="1.84" fill="rgb(50,66,148)"/><rect x="24.12" y="99.18" width="8.32" height="1.84" fill="rgb(88,55,134)"/><rect x="31.95" y="99.18" width="8.32" height="1.84" fill="rgb(130,45,110)"/><rect x="39.77" y="99.18" width="8.32" height="1.84" fill="rgb(182,40,76)"/><rect x="47.59" y="99.18" width="8.32" height="1.84" fill="rgb(50,66,148)"/><rect x="55.42" y="99.18" width="8.32" height="1.84" fill="rgb(130,45,110)"/><rect x="63.24" y="99.18" width="8.32" height="1.84" fill="rgb(50,66,148)"/><rect x="71.06" y="99.18" width="8.32" height="1.84" fill="rgb(182,40,76)"/><rect x="78.88" y="99.18" width="8.32" height="1.84" fill="rgb(226,34,44)"/><rect x="86.71" y="99.18" width="8.32" height="1.84" fill="rgb(50,66,148)"/><rect x="94.53" y="99.18" width="8.32" height="1.84" fill="rgb(226,34,44)"/><rect x="102.35" y="99.18" width="8.32" height="1.84" fill="rgb(226,34,44)"/><rect x="110.18" y="99.18" width="8.32" height="1.84" fill="rgb(130,45,110)"/><rect x="16.30" y="100.52" width="8.32" height="1.84" fill="rgb(182,40,76)"/><rect x="24.12" y="100.52" width="8.32" height="1.84" fill="rgb(64,60,142)"/><rect x="31.95" y="100.52" width="8.32" height="1.84" fill="rgb(50,66,148)"/><rect x="39.77" y="100.52" width="8.32" height="1.84" fill="rgb(182,40,76)"/><rect x="47.59" y="100.52" width="8.32" height="1.84" fill="rgb(88,55,134)"/><rect x="55.42" y="100.52" width="8.32" height="1.84" fill="rgb(64,60,142)"/><rect x="63.24" y="100.52" width="8.32" height="1.84" fill="rgb(50,66,148)"/><rect x="71.06" y="100.52" width="8.32" height="1.84" fill="rgb(226,34,44)"/><rect x="78.88" y="100.52" width="8.32" height="1.84" fill="rgb(226,34,44)"/><rect x="86.71" y="100.52" width="8.32" height="1.84" fill="rgb(182,40,76)"/><rect x="94.53" y="100.52" width="8.32" height="1.84" fill="rgb(226,34,44)"/><rect x="102.35" y="100.52" width="8.32" height="1.84" fill="rgb(64,60,142)"/><rect x="110.18" y="100.52" width="8.32" height="1.84" fill="rgb(182,40,76)"/><rect x="16.30" y="101.86" width="8.32" height="1.84" fill="rgb(182,40,76)"/><rect x="24.12" y="101.86" width="8.32" height="1.84" fill="rgb(88,55,134)"/><rect x="31.95" y="101.86" width="8.32" height="1.84" fill="rgb(64,60,142)"/><rect x="39.77" y="101.86" width="8.32" height="1.84" fill="rgb(182,40,76)"/><rect x="47.59" y="101.86" width="8.32" height="1.84" fill="rgb(50,66,148)"/><rect x="55.42" y="101.86" width="8.32" height="1.84" fill="rgb(64,60,142)"/><rect x="63.24" y="101.86" width="8.32" height="1.84" fill="rgb(50,66,148)"/><rect x="71.06" y="101.86" width="8.32" height="1.84" fill="rgb(226,34,44)"/><rect x="78.88" y="101.86" width="8.32" height="1.84" fill="rgb(226,34,44)"/><rect x="86.71" y="101.86" width="8.32" height="1.84" fill="rgb(226,34,44)"/><rect x="94.53" y="101.86" width="8.32" height="1.84" fill="rgb(226,34,44)"/><rect x="102.35" y="101.86" width="8.32" height="1.84" fill="rgb(50,66,148)"/><rect x="110.18" y="101.86" width="8.32" height="1.84" fill="rgb(226,34,44)"/><rect x="16.30" y="103.20" width="8.32" height="1.84" fill="rgb(64,60,142)"/><rect x="24.12" y="103.20" width="8.32" height="1.84" fill="rgb(50,66,148)"/><rect x="31.95" y="103.20" width="8.32" height="1.84" fill="rgb(64,60,142)"/><rect x="39.77" y="103.20" width="8.32" height="1.84" fill="rgb(88,55,134)"/><rect x="47.59" y="103.20" width="8.32" height="1.84" fill="rgb(50,66,148)"/><rect x="55.42" y="103.20" width="8.32" height="1.84" fill="rgb(50,66,148)"/><rect x="63.24" y="103.20" width="8.32" height="1.84" fill="rgb(50,66,148)"/><rect x="71.06" y="103.20" width="8.32" height="1.84" fill="rgb(88,55,134)"/><rect x="78.88" y="103.20" width="8.32" height="1.84" fill="rgb(50,66,148)"/><rect x="86.71" y="103.20" width="8.32" height="1.84" fill="rgb(64,60,142)"/><rect x="94.53" y="103.20" width="8.32" height="1.84" fill="rgb(64,60,142)"/><rect x="102.35" y="103.20" width="8.32" height="1.84" fill="rgb(50,66,148)"/><rect x="110.18" y="103.20" width="8.32" height="1.84" fill="rgb(50,66,148)"/><rect x="16.30" y="104.54" width="8.32" height="1.84" fill="rgb(88,55,134)"/><rect x="24.12" y="104.54" width="8.32" height="1.84" fill="rgb(64,60,142)"/><rect x="31.95" y="104.54" width="8.32" height="1.84" fill="rgb(50,66,148)"/><rect x="39.77" y="104.54" width="8.32" height="1.84" fill="rgb(50,66,148)"/><rect x="47.59" y="104.54" width="8.32" height="1.84" fill="rgb(50,66,148)"/><rect x="55.42" y="104.54" width="8.32" height="1.84" fill="rgb(50,66,148)"/><rect x="63.24" y="104.54" width="8.32" height="1.84" fill="rgb(50,66,148)"/><rect x="71.06" y="104.54" width="8.32" height="1.84" fill="rgb(64,60,142)"/><rect x="78.88" y="104.54" width="8.32" height="1.84" fill="rgb(50,66,148)"/><rect x="86.71" y="104.54" width="8.32" height="1.84" fill="rgb(50,66,148)"/><rect x="94.53" y="104.54" width="8.32" height="1.84" fill="rgb(64,60,142)"/><rect x="102.35" y="104.54" width="8.32" height="1.84" fill="rgb(50,66,148)"/><rect x="110.18" y="104.54" width="8.32" height="1.84" fill="rgb(64,60,142)"/><rect x="16.30" y="105.87" width="8.32" height="1.84" fill="rgb(88,55,134)"/><rect x="24.12" y="105.87" width="8.32" height="1.84" fill="rgb(50,66,148)"/><rect x="31.95" y="105.87" width="8.32" height="1.84" fill="rgb(50,66,148)"/><rect x="39.77" y="105.87" width="8.32" height="1.84" fill="rgb(50,66,148)"/><rect x="47.59" y="105.87" width="8.32" height="1.84" fill="rgb(50,66,148)"/><rect x="55.42" y="105.87" width="8.32" height="1.84" fill="rgb(64,60,142)"/><rect x="63.24" y="105.87" width="8.32" height="1.84" fill="rgb(64,60,142)"/><rect x="71.06" y="105.87" width="8.32" height="1.84" fill="rgb(50,66,148)"/><rect x="78.88" y="105.87" width="8.32" height="1.84" fill="rgb(50,66,148)"/><rect x="86.71" y="105.87" width="8.32" height="1.84" fill="rgb(50,66,148)"/><rect x="94.53" y="105.87" width="8.32" height="1.84" fill="rgb(50,66,148)"/><rect x="102.35" y="105.87" width="8.32" height="1.84" fill="rgb(64,60,142)"/><rect x="110.18" y="105.87" width="8.32" height="1.84" fill="rgb(50,66,148)"/><rect x="16.30" y="107.21" width="8.32" height="1.84" fill="rgb(226,34,44)"/><rect x="24.12" y="107.21" width="8.32" height="1.84" fill="rgb(226,34,44)"/><rect x="31.95" y="107.21" width="8.32" height="1.84" fill="rgb(88,55,134)"/><rect x="39.77" y="107.21" width="8.32" height="1.84" fill="rgb(88,55,134)"/><rect x="47.59" y="107.21" width="8.32" height="1.84" fill="rgb(226,34,44)"/><rect x="55.42" y="107.21" width="8.32" height="1.84" fill="rgb(182,40,76)"/><rect x="63.24" y="107.21" width="8.32" height="1.84" fill="rgb(182,40,76)"/><rect x="71.06" y="107.21" width="8.32" height="1.84" fill="rgb(64,60,142)"/><rect x="78.88" y="107.21" width="8.32" height="1.84" fill="rgb(64,60,142)"/><rect x="86.71" y="107.21" width="8.32" height="1.84" fill="rgb(50,66,148)"/><rect x="94.53" y="107.21" width="8.32" height="1.84" fill="rgb(64,60,142)"/><rect x="102.35" y="107.21" width="8.32" height="1.84" fill="rgb(50,66,148)"/><rect x="110.18" y="107.21" width="8.32" height="1.84" fill="rgb(50,66,148)"/><rect x="16.30" y="108.55" width="8.32" height="1.84" fill="rgb(64,60,142)"/><rect x="24.12" y="108.55" width="8.32" height="1.84" fill="rgb(182,40,76)"/><rect x="31.95" y="108.55" width="8.32" height="1.84" fill="rgb(88,55,134)"/><rect x="39.77" y="108.55" width="8.32" height="1.84" fill="rgb(182,40,76)"/><rect x="47.59" y="108.55" width="8.32" height="1.84" fill="rgb(64,60,142)"/><rect x="55.42" y="108.55" width="8.32" height="1.84" fill="rgb(226,34,44)"/><rect x="63.24" y="108.55" width="8.32" height="1.84" fill="rgb(226,34,44)"/><rect x="71.06" y="108.55" width="8.32" height="1.84" fill="rgb(88,55,134)"/><rect x="78.88" y="108.55" width="8.32" height="1.84" fill="rgb(64,60,142)"/><rect x="86.71" y="108.55" width="8.32" height="1.84" fill="rgb(50,66,148)"/><rect x="94.53" y="108.55" width="8.32" height="1.84" fill="rgb(182,40,76)"/><rect x="102.35" y="108.55" width="8.32" height="1.84" fill="rgb(64,60,142)"/><rect x="110.18" y="108.55" width="8.32" height="1.84" fill="rgb(50,66,148)"/><rect x="16.30" y="109.89" width="8.32" height="1.84" fill="rgb(88,55,134)"/><rect x="24.12" y="109.89" width="8.32" height="1.84" fill="rgb(182,40,76)"/><rect x="31.95" y="109.89" width="8.32" height="1.84" fill="rgb(130,45,110)"/><rect x="39.77" y="109.89" width="8.32" height="1.84" fill="rgb(88,55,134)"/><rect x="47.59" y="109.89" width="8.32" height="1.84" fill="rgb(64,60,142)"/><rect x="55.42" y="109.89" width="8.32" height="1.84" fill="rgb(226,34,44)"/><rect x="63.24" y="109.89" width="8.32" height="1.84" fill="rgb(226,34,44)"/><rect x="71.06" y="109.89" width="8.32" height="1.84" fill="rgb(130,45,110)"/><rect x="78.88" y="109.89" width="8.32" height="1.84" fill="rgb(64,60,142)"/><rect x="86.71" y="109.89" width="8.32" height="1.84" fill="rgb(64,60,142)"/><rect x="94.53" y="109.89" width="8.32" height="1.84" fill="rgb(130,45,110)"/><rect x="102.35" y="109.89" width="8.32" height="1.84" fill="rgb(88,55,134)"/><rect x="110.18" y="109.89" width="8.32" height="1.84" fill="rgb(50,66,148)"/><rect x="16.30" y="111.23" width="8.32" height="1.84" fill="rgb(88,55,134)"/><rect x="24.12" y="111.23" width="8.32" height="1.84" fill="rgb(130,45,110)"/><rect x="31.95" y="111.23" width="8.32" height="1.84" fill="rgb(130,45,110)"/><rect x="39.77" y="111.23" width="8.32" height="1.84" fill="rgb(88,55,134)"/><rect x="47.59" y="111.23" width="8.32" height="1.84" fill="rgb(226,34,44)"/><rect x="55.42" y="111.23" width="8.32" height="1.84" fill="rgb(182,40,76)"/><rect x="63.24" y="111.23" width="8.32" height="1.84" fill="rgb(182,40,76)"/><rect x="71.06" y="111.23" width="8.32" height="1.84" fill="rgb(182,40,76)"/><rect x="78.88" y="111.23" width="8.32" height="1.84" fill="rgb(88,55,134)"/><rect x="86.71" y="111.23" width="8.32" height="1.84" fill="rgb(64,60,142)"/><rect x="94.53" y="111.23" width="8.32" height="1.84" fill="rgb(50,66,148)"/><rect x="102.35" y="111.23" width="8.32" height="1.84" fill="rgb(50,66,148)"/><rect x="110.18" y="111.23" width="8.32" height="1.84" fill="rgb(64,60,142)"/><rect x="16.30" y="112.56" width="8.32" height="1.84" fill="rgb(88,55,134)"/><rect x="24.12" y="112.56" width="8.32" height="1.84" fill="rgb(226,34,44)"/><rect x="31.95" y="112.56" width="8.32" height="1.84" fill="rgb(130,45,110)"/><rect x="39.77" y="112.56" width="8.32" height="1.84" fill="rgb(50,66,148)"/><rect x="47.59" y="112.56" width="8.32" height="1.84" fill="rgb(130,45,110)"/><rect x="55.42" y="112.56" width="8.32" height="1.84" fill="rgb(226,34,44)"/><rect x="63.24" y="112.56" width="8.32" height="1.84" fill="rgb(226,34,44)"/><rect x="71.06" y="112.56" width="8.32" height="1.84" fill="rgb(50,66,148)"/><rect x="78.88" y="112.56" width="8.32" height="1.84" fill="rgb(50,66,148)"/><rect x="86.71" y="112.56" width="8.32" height="1.84" fill="rgb(88,55,134)"/><rect x="94.53" y="112.56" width="8.32" height="1.84" fill="rgb(50,66,148)"/><rect x="102.35" y="112.56" width="8.32" height="1.84" fill="rgb(50,66,148)"/><rect x="110.18" y="112.56" width="8.32" height="1.84" fill="rgb(50,66,148)"/><rect x="16.30" y="113.90" width="8.32" height="1.84" fill="rgb(64,60,142)"/><rect x="24.12" y="113.90" width="8.32" height="1.84" fill="rgb(182,40,76)"/><rect x="31.95" y="113.90" width="8.32" height="1.84" fill="rgb(64,60,142)"/><rect x="39.77" y="113.90" width="8.32" height="1.84" fill="rgb(50,66,148)"/><rect x="47.59" y="113.90" width="8.32" height="1.84" fill="rgb(226,34,44)"/><rect x="55.42" y="113.90" width="8.32" height="1.84" fill="rgb(182,40,76)"/><rect x="63.24" y="113.90" width="8.32" height="1.84" fill="rgb(226,34,44)"/><rect x="71.06" y="113.90" width="8.32" height="1.84" fill="rgb(50,66,148)"/><rect x="78.88" y="113.90" width="8.32" height="1.84" fill="rgb(88,55,134)"/><rect x="86.71" y="113.90" width="8.32" height="1.84" fill="rgb(64,60,142)"/><rect x="94.53" y="113.90" width="8.32" height="1.84" fill="rgb(50,66,148)"/><rect x="102.35" y="113.90" width="8.32" height="1.84" fill="rgb(50,66,148)"/><rect x="110.18" y="113.90" width="8.32" height="1.84" fill="rgb(64,60,142)"/><rect x="16.30" y="115.24" width="8.32" height="1.84" fill="rgb(130,45,110)"/><rect x="24.12" y="115.24" width="8.32" height="1.84" fill="rgb(226,34,44)"/><rect x="31.95" y="115.24" width="8.32" height="1.84" fill="rgb(130,45,110)"/><rect x="39.77" y="115.24" width="8.32" height="1.84" fill="rgb(64,60,142)"/><rect x="47.59" y="115.24" width="8.32" height="1.84" fill="rgb(130,45,110)"/><rect x="55.42" y="115.24" width="8.32" height="1.84" fill="rgb(182,40,76)"/><rect x="63.24" y="115.24" width="8.32" height="1.84" fill="rgb(182,40,76)"/><rect x="71.06" y="115.24" width="8.32" height="1.84" fill="rgb(130,45,110)"/><rect x="78.88" y="115.24" width="8.32" height="1.84" fill="rgb(130,45,110)"/><rect x="86.71" y="115.24" width="8.32" height="1.84" fill="rgb(50,66,148)"/><rect x="94.53" y="115.24" width="8.32" height="1.84" fill="rgb(50,66,148)"/><rect x="102.35" y="115.24" width="8.32" height="1.84" fill="rgb(64,60,142)"/><rect x="110.18" y="115.24" width="8.32" height="1.84" fill="rgb(64,60,142)"/><rect x="16.30" y="116.58" width="8.32" height="1.84" fill="rgb(182,40,76)"/><rect x="24.12" y="116.58" width="8.32" height="1.84" fill="rgb(130,45,110)"/><rect x="31.95" y="116.58" width="8.32" height="1.84" fill="rgb(226,34,44)"/><rect x="39.77" y="116.58" width="8.32" height="1.84" fill="rgb(50,66,148)"/><rect x="47.59" y="116.58" width="8.32" height="1.84" fill="rgb(130,45,110)"/><rect x="55.42" y="116.58" width="8.32" height="1.84" fill="rgb(182,40,76)"/><rect x="63.24" y="116.58" width="8.32" height="1.84" fill="rgb(226,34,44)"/><rect x="71.06" y="116.58" width="8.32" height="1.84" fill="rgb(226,34,44)"/><rect x="78.88" y="116.58" width="8.32" height="1.84" fill="rgb(50,66,148)"/><rect x="86.71" y="116.58" width="8.32" height="1.84" fill="rgb(50,66,148)"/><rect x="94.53" y="116.58" width="8.32" height="1.84" fill="rgb(50,66,148)"/><rect x="102.35" y="116.58" width="8.32" height="1.84" fill="rgb(50,66,148)"/><rect x="110.18" y="116.58" width="8.32" height="1.84" fill="rgb(64,60,142)"/><rect x="16.30" y="117.92" width="8.32" height="1.84" fill="rgb(226,34,44)"/><rect x="24.12" y="117.92" width="8.32" height="1.84" fill="rgb(182,40,76)"/><rect x="31.95" y="117.92" width="8.32" height="1.84" fill="rgb(226,34,44)"/><rect x="39.77" y="117.92" width="8.32" height="1.84" fill="rgb(64,60,142)"/><rect x="47.59" y="117.92" width="8.32" height="1.84" fill="rgb(130,45,110)"/><rect x="55.42" y="117.92" width="8.32" height="1.84" fill="rgb(182,40,76)"/><rect x="63.24" y="117.92" width="8.32" height="1.84" fill="rgb(226,34,44)"/><rect x="71.06" y="117.92" width="8.32" height="1.84" fill="rgb(182,40,76)"/><rect x="78.88" y="117.92" width="8.32" height="1.84" fill="rgb(50,66,148)"/><rect x="86.71" y="117.92" width="8.32" height="1.84" fill="rgb(50,66,148)"/><rect x="94.53" y="117.92" width="8.32" height="1.84" fill="rgb(50,66,148)"/><rect x="102.35" y="117.92" width="8.32" height="1.84" fill="rgb(50,66,148)"/><rect x="110.18" y="117.92" width="8.32" height="1.84" fill="rgb(64,60,142)"/><rect x="16.30" y="119.26" width="8.32" height="1.84" fill="rgb(226,34,44)"/><rect x="24.12" y="119.26" width="8.32" height="1.84" fill="rgb(130,45,110)"/><rect x="31.95" y="119.26" width="8.32" height="1.84" fill="rgb(226,34,44)"/><rect x="39.77" y="119.26" width="8.32" height="1.84" fill="rgb(182,40,76)"/><rect x="47.59" y="119.26" width="8.32" height="1.84" fill="rgb(182,40,76)"/><rect x="55.42" y="119.26" width="8.32" height="1.84" fill="rgb(182,40,76)"/><rect x="63.24" y="119.26" width="8.32" height="1.84" fill="rgb(226,34,44)"/><rect x="71.06" y="119.26" width="8.32" height="1.84" fill="rgb(64,60,142)"/><rect x="78.88" y="119.26" width="8.32" height="1.84" fill="rgb(50,66,148)"/><rect x="86.71" y="119.26" width="8.32" height="1.84" fill="rgb(88,55,134)"/><rect x="94.53" y="119.26" width="8.32" height="1.84" fill="rgb(88,55,134)"/><rect x="102.35" y="119.26" width="8.32" height="1.84" fill="rgb(50,66,148)"/><rect x="110.18" y="119.26" width="8.32" height="1.84" fill="rgb(64,60,142)"/><rect x="16.30" y="120.59" width="8.32" height="1.84" fill="rgb(182,40,76)"/><rect x="24.12" y="120.59" width="8.32" height="1.84" fill="rgb(182,40,76)"/><rect x="31.95" y="120.59" width="8.32" height="1.84" fill="rgb(226,34,44)"/><rect x="39.77" y="120.59" width="8.32" height="1.84" fill="rgb(130,45,110)"/><rect x="47.59" y="120.59" width="8.32" height="1.84" fill="rgb(226,34,44)"/><rect x="55.42" y="120.59" width="8.32" height="1.84" fill="rgb(182,40,76)"/><rect x="63.24" y="120.59" width="8.32" height="1.84" fill="rgb(64,60,142)"/><rect x="71.06" y="120.59" width="8.32" height="1.84" fill="rgb(182,40,76)"/><rect x="78.88" y="120.59" width="8.32" height="1.84" fill="rgb(182,40,76)"/><rect x="86.71" y="120.59" width="8.32" height="1.84" fill="rgb(226,34,44)"/><rect x="94.53" y="120.59" width="8.32" height="1.84" fill="rgb(130,45,110)"/><rect x="102.35" y="120.59" width="8.32" height="1.84" fill="rgb(50,66,148)"/><rect x="110.18" y="120.59" width="8.32" height="1.84" fill="rgb(64,60,142)"/><rect x="16.30" y="121.93" width="8.32" height="1.84" fill="rgb(182,40,76)"/><rect x="24.12" y="121.93" width="8.32" height="1.84" fill="rgb(182,40,76)"/><rect x="31.95" y="121.93" width="8.32" height="1.84" fill="rgb(226,34,44)"/><rect x="39.77" y="121.93" width="8.32" height="1.84" fill="rgb(182,40,76)"/><rect x="47.59" y="121.93" width="8.32" height="1.84" fill="rgb(226,34,44)"/><rect x="55.42" y="121.93" width="8.32" height="1.84" fill="rgb(182,40,76)"/><rect x="63.24" y="121.93" width="8.32" height="1.84" fill="rgb(50,66,148)"/><rect x="71.06" y="121.93" width="8.32" height="1.84" fill="rgb(226,34,44)"/><rect x="78.88" y="121.93" width="8.32" height="1.84" fill="rgb(226,34,44)"/><rect x="86.71" y="121.93" width="8.32" height="1.84" fill="rgb(130,45,110)"/><rect x="94.53" y="121.93" width="8.32" height="1.84" fill="rgb(88,55,134)"/><rect x="102.35" y="121.93" width="8.32" height="1.84" fill="rgb(50,66,148)"/><rect x="110.18" y="121.93" width="8.32" height="1.84" fill="rgb(64,60,142)"/><rect x="16.30" y="123.27" width="8.32" height="1.84" fill="rgb(226,34,44)"/><rect x="24.12" y="123.27" width="8.32" height="1.84" fill="rgb(226,34,44)"/><rect x="31.95" y="123.27" width="8.32" height="1.84" fill="rgb(226,34,44)"/><rect x="39.77" y="123.27" width="8.32" height="1.84" fill="rgb(182,40,76)"/><rect x="47.59" y="123.27" width="8.32" height="1.84" fill="rgb(226,34,44)"/><rect x="55.42" y="123.27" width="8.32" height="1.84" fill="rgb(130,45,110)"/><rect x="63.24" y="123.27" width="8.32" height="1.84" fill="rgb(50,66,148)"/><rect x="71.06" y="123.27" width="8.32" height="1.84" fill="rgb(50,66,148)"/><rect x="78.88" y="123.27" width="8.32" height="1.84" fill="rgb(88,55,134)"/><rect x="86.71" y="123.27" width="8.32" height="1.84" fill="rgb(50,66,148)"/><rect x="94.53" y="123.27" width="8.32" height="1.84" fill="rgb(50,66,148)"/><rect x="102.35" y="123.27" width="8.32" height="1.84" fill="rgb(50,66,148)"/><rect x="110.18" y="123.27" width="8.32" height="1.84" fill="rgb(50,66,148)"/><rect x="16.30" y="124.61" width="8.32" height="1.84" fill="rgb(226,34,44)"/><rect x="24.12" y="124.61" width="8.32" height="1.84" fill="rgb(226,34,44)"/><rect x="31.95" y="124.61" width="8.32" height="1.84" fill="rgb(226,34,44)"/><rect x="39.77" y="124.61" width="8.32" height="1.84" fill="rgb(88,55,134)"/><rect x="47.59" y="124.61" width="8.32" height="1.84" fill="rgb(182,40,76)"/><rect x="55.42" y="124.61" width="8.32" height="1.84" fill="rgb(130,45,110)"/><rect x="63.24" y="124.61" width="8.32" height="1.84" fill="rgb(50,66,148)"/><rect x="71.06" y="124.61" width="8.32" height="1.84" fill="rgb(64,60,142)"/><rect x="78.88" y="124.61" width="8.32" height="1.84" fill="rgb(130,45,110)"/><rect x="86.71" y="124.61" width="8.32" height="1.84" fill="rgb(50,66,148)"/><rect x="94.53" y="124.61" width="8.32" height="1.84" fill="rgb(50,66,148)"/><rect x="102.35" y="124.61" width="8.32" height="1.84" fill="rgb(50,66,148)"/><rect x="110.18" y="124.61" width="8.32" height="1.84" fill="rgb(64,60,142)"/><rect x="16.30" y="125.95" width="8.32" height="1.84" fill="rgb(182,40,76)"/><rect x="24.12" y="125.95" width="8.32" height="1.84" fill="rgb(226,34,44)"/><rect x="31.95" y="125.95" width="8.32" height="1.84" fill="rgb(182,40,76)"/><rect x="39.77" y="125.95" width="8.32" height="1.84" fill="rgb(88,55,134)"/><rect x="47.59" y="125.95" width="8.32" height="1.84" fill="rgb(88,55,134)"/><rect x="55.42" y="125.95" width="8.32" height="1.84" fill="rgb(130,45,110)"/><rect x="63.24" y="125.95" width="8.32" height="1.84" fill="rgb(64,60,142)"/><rect x="71.06" y="125.95" width="8.32" height="1.84" fill="rgb(64,60,142)"/><rect x="78.88" y="125.95" width="8.32" height="1.84" fill="rgb(88,55,134)"/><rect x="86.71" y="125.95" width="8.32" height="1.84" fill="rgb(50,66,148)"/><rect x="94.53" y="125.95" width="8.32" height="1.84" fill="rgb(64,60,142)"/><rect x="102.35" y="125.95" width="8.32" height="1.84" fill="rgb(50,66,148)"/><rect x="110.18" y="125.95" width="8.32" height="1.84" fill="rgb(130,45,110)"/><rect x="16.30" y="127.29" width="8.32" height="1.84" fill="rgb(226,34,44)"/><rect x="24.12" y="127.29" width="8.32" height="1.84" fill="rgb(226,34,44)"/><rect x="31.95" y="127.29" width="8.32" height="1.84" fill="rgb(182,40,76)"/><rect x="39.77" y="127.29" width="8.32" height="1.84" fill="rgb(226,34,44)"/><rect x="47.59" y="127.29" width="8.32" height="1.84" fill="rgb(130,45,110)"/><rect x="55.42" y="127.29" width="8.32" height="1.84" fill="rgb(130,45,110)"/><rect x="63.24" y="127.29" width="8.32" height="1.84" fill="rgb(64,60,142)"/><rect x="71.06" y="127.29" width="8.32" height="1.84" fill="rgb(50,66,148)"/><rect x="78.88" y="127.29" width="8.32" height="1.84" fill="rgb(64,60,142)"/><rect x="86.71" y="127.29" width="8.32" height="1.84" fill="rgb(50,66,148)"/><rect x="94.53" y="127.29" width="8.32" height="1.84" fill="rgb(50,66,148)"/><rect x="102.35" y="127.29" width="8.32" height="1.84" fill="rgb(50,66,148)"/><rect x="110.18" y="127.29" width="8.32" height="1.84" fill="rgb(64,60,142)"/><rect x="16.30" y="128.62" width="8.32" height="1.84" fill="rgb(226,34,44)"/><rect x="24.12" y="128.62" width="8.32" height="1.84" fill="rgb(182,40,76)"/><rect x="31.95" y="128.62" width="8.32" height="1.84" fill="rgb(182,40,76)"/><rect x="39.77" y="128.62" width="8.32" height="1.84" fill="rgb(88,55,134)"/><rect x="47.59" y="128.62" width="8.32" height="1.84" fill="rgb(88,55,134)"/><rect x="55.42" y="128.62" width="8.32" height="1.84" fill="rgb(130,45,110)"/><rect x="63.24" y="128.62" width="8.32" height="1.84" fill="rgb(182,40,76)"/><rect x="71.06" y="128.62" width="8.32" height="1.84" fill="rgb(50,66,148)"/><rect x="78.88" y="128.62" width="8.32" height="1.84" fill="rgb(50,66,148)"/><rect x="86.71" y="128.62" width="8.32" height="1.84" fill="rgb(64,60,142)"/><rect x="94.53" y="128.62" width="8.32" height="1.84" fill="rgb(64,60,142)"/><rect x="102.35" y="128.62" width="8.32" height="1.84" fill="rgb(64,60,142)"/><rect x="110.18" y="128.62" width="8.32" height="1.84" fill="rgb(64,60,142)"/><rect x="16.30" y="129.96" width="8.32" height="1.84" fill="rgb(226,34,44)"/><rect x="24.12" y="129.96" width="8.32" height="1.84" fill="rgb(226,34,44)"/><rect x="31.95" y="129.96" width="8.32" height="1.84" fill="rgb(130,45,110)"/><rect x="39.77" y="129.96" width="8.32" height="1.84" fill="rgb(130,45,110)"/><rect x="47.59" y="129.96" width="8.32" height="1.84" fill="rgb(88,55,134)"/><rect x="55.42" y="129.96" width="8.32" height="1.84" fill="rgb(130,45,110)"/><rect x="63.24" y="129.96" width="8.32" height="1.84" fill="rgb(182,40,76)"/><rect x="71.06" y="129.96" width="8.32" height="1.84" fill="rgb(50,66,148)"/><rect x="78.88" y="129.96" width="8.32" height="1.84" fill="rgb(50,66,148)"/><rect x="86.71" y="129.96" width="8.32" height="1.84" fill="rgb(50,66,148)"/><rect x="94.53" y="129.96" width="8.32" height="1.84" fill="rgb(64,60,142)"/><rect x="102.35" y="129.96" width="8.32" height="1.84" fill="rgb(64,60,142)"/><rect x="110.18" y="129.96" width="8.32" height="1.84" fill="rgb(50,66,148)"/><rect x="16.30" y="131.30" width="8.32" height="1.84" fill="rgb(182,40,76)"/><rect x="24.12" y="131.30" width="8.32" height="1.84" fill="rgb(226,34,44)"/><rect x="31.95" y="131.30" width="8.32" height="1.84" fill="rgb(130,45,110)"/><rect x="39.77" y="131.30" width="8.32" height="1.84" fill="rgb(88,55,134)"/><rect x="47.59" y="131.30" width="8.32" height="1.84" fill="rgb(130,45,110)"/><rect x="55.42" y="131.30" width="8.32" height="1.84" fill="rgb(130,45,110)"/><rect x="63.24" y="131.30" width="8.32" height="1.84" fill="rgb(226,34,44)"/><rect x="71.06" y="131.30" width="8.32" height="1.84" fill="rgb(50,66,148)"/><rect x="78.88" y="131.30" width="8.32" height="1.84" fill="rgb(88,55,134)"/><rect x="86.71" y="131.30" width="8.32" height="1.84" fill="rgb(182,40,76)"/><rect x="94.53" y="131.30" width="8.32" height="1.84" fill="rgb(50,66,148)"/><rect x="102.35" y="131.30" width="8.32" height="1.84" fill="rgb(64,60,142)"/><rect x="110.18" y="131.30" width="8.32" height="1.84" fill="rgb(64,60,142)"/><rect x="16.30" y="132.64" width="8.32" height="1.84" fill="rgb(182,40,76)"/><rect x="24.12" y="132.64" width="8.32" height="1.84" fill="rgb(88,55,134)"/><rect x="31.95" y="132.64" width="8.32" height="1.84" fill="rgb(226,34,44)"/><rect x="39.77" y="132.64" width="8.32" height="1.84" fill="rgb(182,40,76)"/><rect x="47.59" y="132.64" width="8.32" height="1.84" fill="rgb(130,45,110)"/><rect x="55.42" y="132.64" width="8.32" height="1.84" fill="rgb(182,40,76)"/><rect x="63.24" y="132.64" width="8.32" height="1.84" fill="rgb(182,40,76)"/><rect x="71.06" y="132.64" width="8.32" height="1.84" fill="rgb(50,66,148)"/><rect x="78.88" y="132.64" width="8.32" height="1.84" fill="rgb(64,60,142)"/><rect x="86.71" y="132.64" width="8.32" height="1.84" fill="rgb(130,45,110)"/><rect x="94.53" y="132.64" width="8.32" height="1.84" fill="rgb(50,66,148)"/><rect x="102.35" y="132.64" width="8.32" height="1.84" fill="rgb(50,66,148)"/><rect x="110.18" y="132.64" width="8.32" height="1.84" fill="rgb(50,66,148)"/><rect x="16.30" y="133.98" width="8.32" height="1.84" fill="rgb(226,34,44)"/><rect x="24.12" y="133.98" width="8.32" height="1.84" fill="rgb(64,60,142)"/><rect x="31.95" y="133.98" width="8.32" height="1.84" fill="rgb(226,34,44)"/><rect x="39.77" y="133.98" width="8.32" height="1.84" fill="rgb(130,45,110)"/><rect x="47.59" y="133.98" width="8.32" height="1.84" fill="rgb(182,40,76)"/><rect x="55.42" y="133.98" width="8.32" height="1.84" fill="rgb(88,55,134)"/><rect x="63.24" y="133.98" width="8.32" height="1.84" fill="rgb(226,34,44)"/><rect x="71.06" y="133.98" width="8.32" height="1.84" fill="rgb(50,66,148)"/><rect x="78.88" y="133.98" width="8.32" height="1.84" fill="rgb(64,60,142)"/><rect x="86.71" y="133.98" width="8.32" height="1.84" fill="rgb(130,45,110)"/><rect x="94.53" y="133.98" width="8.32" height="1.84" fill="rgb(50,66,148)"/><rect x="102.35" y="133.98" width="8.32" height="1.84" fill="rgb(50,66,148)"/><rect x="110.18" y="133.98" width="8.32" height="1.84" fill="rgb(50,66,148)"/><rect x="16.30" y="135.31" width="8.32" height="1.84" fill="rgb(226,34,44)"/><rect x="24.12" y="135.31" width="8.32" height="1.84" fill="rgb(64,60,142)"/><rect x="31.95" y="135.31" width="8.32" height="1.84" fill="rgb(226,34,44)"/><rect x="39.77" y="135.31" width="8.32" height="1.84" fill="rgb(130,45,110)"/><rect x="47.59" y="135.31" width="8.32" height="1.84" fill="rgb(130,45,110)"/><rect x="55.42" y="135.31" width="8.32" height="1.84" fill="rgb(130,45,110)"/><rect x="63.24" y="135.31" width="8.32" height="1.84" fill="rgb(64,60,142)"/><rect x="71.06" y="135.31" width="8.32" height="1.84" fill="rgb(64,60,142)"/><rect x="78.88" y="135.31" width="8.32" height="1.84" fill="rgb(226,34,44)"/><rect x="86.71" y="135.31" width="8.32" height="1.84" fill="rgb(50,66,148)"/><rect x="94.53" y="135.31" width="8.32" height="1.84" fill="rgb(64,60,142)"/><rect x="102.35" y="135.31" width="8.32" height="1.84" fill="rgb(50,66,148)"/><rect x="110.18" y="135.31" width="8.32" height="1.84" fill="rgb(50,66,148)"/><rect x="16.30" y="136.65" width="8.32" height="1.84" fill="rgb(226,34,44)"/><rect x="24.12" y="136.65" width="8.32" height="1.84" fill="rgb(130,45,110)"/><rect x="31.95" y="136.65" width="8.32" height="1.84" fill="rgb(226,34,44)"/><rect x="39.77" y="136.65" width="8.32" height="1.84" fill="rgb(130,45,110)"/><rect x="47.59" y="136.65" width="8.32" height="1.84" fill="rgb(182,40,76)"/><rect x="55.42" y="136.65" width="8.32" height="1.84" fill="rgb(182,40,76)"/><rect x="63.24" y="136.65" width="8.32" height="1.84" fill="rgb(88,55,134)"/><rect x="71.06" y="136.65" width="8.32" height="1.84" fill="rgb(50,66,148)"/><rect x="78.88" y="136.65" width="8.32" height="1.84" fill="rgb(50,66,148)"/><rect x="86.71" y="136.65" width="8.32" height="1.84" fill="rgb(50,66,148)"/><rect x="94.53" y="136.65" width="8.32" height="1.84" fill="rgb(64,60,142)"/><rect x="102.35" y="136.65" width="8.32" height="1.84" fill="rgb(50,66,148)"/><rect x="110.18" y="136.65" width="8.32" height="1.84" fill="rgb(88,55,134)"/><rect x="16.30" y="137.99" width="8.32" height="1.84" fill="rgb(226,34,44)"/><rect x="24.12" y="137.99" width="8.32" height="1.84" fill="rgb(130,45,110)"/><rect x="31.95" y="137.99" width="8.32" height="1.84" fill="rgb(182,40,76)"/><rect x="39.77" y="137.99" width="8.32" height="1.84" fill="rgb(130,45,110)"/><rect x="47.59" y="137.99" width="8.32" height="1.84" fill="rgb(182,40,76)"/><rect x="55.42" y="137.99" width="8.32" height="1.84" fill="rgb(182,40,76)"/><rect x="63.24" y="137.99" width="8.32" height="1.84" fill="rgb(130,45,110)"/><rect x="71.06" y="137.99" width="8.32" height="1.84" fill="rgb(50,66,148)"/><rect x="78.88" y="137.99" width="8.32" height="1.84" fill="rgb(50,66,148)"/><rect x="86.71" y="137.99" width="8.32" height="1.84" fill="rgb(50,66,148)"/><rect x="94.53" y="137.99" width="8.32" height="1.84" fill="rgb(50,66,148)"/><rect x="102.35" y="137.99" width="8.32" height="1.84" fill="rgb(50,66,148)"/><rect x="110.18" y="137.99" width="8.32" height="1.84" fill="rgb(130,45,110)"/><rect x="16.30" y="139.33" width="8.32" height="1.84" fill="rgb(226,34,44)"/><rect x="24.12" y="139.33" width="8.32" height="1.84" fill="rgb(226,34,44)"/><rect x="31.95" y="139.33" width="8.32" height="1.84" fill="rgb(226,34,44)"/><rect x="39.77" y="139.33" width="8.32" height="1.84" fill="rgb(182,40,76)"/><rect x="47.59" y="139.33" width="8.32" height="1.84" fill="rgb(226,34,44)"/><rect x="55.42" y="139.33" width="8.32" height="1.84" fill="rgb(182,40,76)"/><rect x="63.24" y="139.33" width="8.32" height="1.84" fill="rgb(130,45,110)"/><rect x="71.06" y="139.33" width="8.32" height="1.84" fill="rgb(50,66,148)"/><rect x="78.88" y="139.33" width="8.32" height="1.84" fill="rgb(50,66,148)"/><rect x="86.71" y="139.33" width="8.32" height="1.84" fill="rgb(50,66,148)"/><rect x="94.53" y="139.33" width="8.32" height="1.84" fill="rgb(88,55,134)"/><rect x="102.35" y="139.33" width="8.32" height="1.84" fill="rgb(50,66,148)"/><rect x="110.18" y="139.33" width="8.32" height="1.84" fill="rgb(88,55,134)"/><rect x="16.30" y="140.67" width="8.32" height="1.84" fill="rgb(226,34,44)"/><rect x="24.12" y="140.67" width="8.32" height="1.84" fill="rgb(226,34,44)"/><rect x="31.95" y="140.67" width="8.32" height="1.84" fill="rgb(182,40,76)"/><rect x="39.77" y="140.67" width="8.32" height="1.84" fill="rgb(182,40,76)"/><rect x="47.59" y="140.67" width="8.32" height="1.84" fill="rgb(226,34,44)"/><rect x="55.42" y="140.67" width="8.32" height="1.84" fill="rgb(182,40,76)"/><rect x="63.24" y="140.67" width="8.32" height="1.84" fill="rgb(88,55,134)"/><rect x="71.06" y="140.67" width="8.32" height="1.84" fill="rgb(88,55,134)"/><rect x="78.88" y="140.67" width="8.32" height="1.84" fill="rgb(50,66,148)"/><rect x="86.71" y="140.67" width="8.32" height="1.84" fill="rgb(88,55,134)"/><rect x="94.53" y="140.67" width="8.32" height="1.84" fill="rgb(50,66,148)"/><rect x="102.35" y="140.67" width="8.32" height="1.84" fill="rgb(50,66,148)"/><rect x="110.18" y="140.67" width="8.32" height="1.84" fill="rgb(50,66,148)"/><rect x="16.30" y="142.01" width="8.32" height="1.84" fill="rgb(226,34,44)"/><rect x="24.12" y="142.01" width="8.32" height="1.84" fill="rgb(226,34,44)"/><rect x="31.95" y="142.01" width="8.32" height="1.84" fill="rgb(130,45,110)"/><rect x="39.77" y="142.01" width="8.32" height="1.84" fill="rgb(226,34,44)"/><rect x="47.59" y="142.01" width="8.32" height="1.84" fill="rgb(226,34,44)"/><rect x="55.42" y="142.01" width="8.32" height="1.84" fill="rgb(130,45,110)"/><rect x="63.24" y="142.01" width="8.32" height="1.84" fill="rgb(64,60,142)"/><rect x="71.06" y="142.01" width="8.32" height="1.84" fill="rgb(88,55,134)"/><rect x="78.88" y="142.01" width="8.32" height="1.84" fill="rgb(64,60,142)"/><rect x="86.71" y="142.01" width="8.32" height="1.84" fill="rgb(64,60,142)"/><rect x="94.53" y="142.01" width="8.32" height="1.84" fill="rgb(50,66,148)"/><rect x="102.35" y="142.01" width="8.32" height="1.84" fill="rgb(50,66,148)"/><rect x="110.18" y="142.01" width="8.32" height="1.84" fill="rgb(50,66,148)"/><rect x="16.30" y="143.34" width="8.32" height="1.84" fill="rgb(226,34,44)"/><rect x="24.12" y="143.34" width="8.32" height="1.84" fill="rgb(226,34,44)"/><rect x="31.95" y="143.34" width="8.32" height="1.84" fill="rgb(130,45,110)"/><rect x="39.77" y="143.34" width="8.32" height="1.84" fill="rgb(182,40,76)"/><rect x="47.59" y="143.34" width="8.32" height="1.84" fill="rgb(182,40,76)"/><rect x="55.42" y="143.34" width="8.32" height="1.84" fill="rgb(182,40,76)"/><rect x="63.24" y="143.34" width="8.32" height="1.84" fill="rgb(182,40,76)"/><rect x="71.06" y="143.34" width="8.32" height="1.84" fill="rgb(64,60,142)"/><rect x="78.88" y="143.34" width="8.32" height="1.84" fill="rgb(64,60,142)"/><rect x="86.71" y="143.34" width="8.32" height="1.84" fill="rgb(130,45,110)"/><rect x="94.53" y="143.34" width="8.32" height="1.84" fill="rgb(50,66,148)"/><rect x="102.35" y="143.34" width="8.32" height="1.84" fill="rgb(50,66,148)"/><rect x="110.18" y="143.34" width="8.32" height="1.84" fill="rgb(64,60,142)"/><rect x="16.30" y="144.68" width="8.32" height="1.84" fill="rgb(226,34,44)"/><rect x="24.12" y="144.68" width="8.32" height="1.84" fill="rgb(50,66,148)"/><rect x="31.95" y="144.68" width="8.32" height="1.84" fill="rgb(50,66,148)"/><rect x="39.77" y="144.68" width="8.32" height="1.84" fill="rgb(226,34,44)"/><rect x="47.59" y="144.68" width="8.32" height="1.84" fill="rgb(182,40,76)"/><rect x="55.42" y="144.68" width="8.32" height="1.84" fill="rgb(226,34,44)"/><rect x="63.24" y="144.68" width="8.32" height="1.84" fill="rgb(130,45,110)"/><rect x="71.06" y="144.68" width="8.32" height="1.84" fill="rgb(64,60,142)"/><rect x="78.88" y="144.68" width="8.32" height="1.84" fill="rgb(64,60,142)"/><rect x="86.71" y="144.68" width="8.32" height="1.84" fill="rgb(64,60,142)"/><rect x="94.53" y="144.68" width="8.32" height="1.84" fill="rgb(50,66,148)"/><rect x="102.35" y="144.68" width="8.32" height="1.84" fill="rgb(64,60,142)"/><rect x="110.18" y="144.68" width="8.32" height="1.84" fill="rgb(88,55,134)"/><rect x="16.30" y="146.02" width="8.32" height="1.84" fill="rgb(182,40,76)"/><rect x="24.12" y="146.02" width="8.32" height="1.84" fill="rgb(50,66,148)"/><rect x="31.95" y="146.02" width="8.32" height="1.84" fill="rgb(50,66,148)"/><rect x="39.77" y="146.02" width="8.32" height="1.84" fill="rgb(226,34,44)"/><rect x="47.59" y="146.02" width="8.32" height="1.84" fill="rgb(226,34,44)"/><rect x="55.42" y="146.02" width="8.32" height="1.84" fill="rgb(182,40,76)"/><rect x="63.24" y="146.02" width="8.32" height="1.84" fill="rgb(182,40,76)"/><rect x="71.06" y="146.02" width="8.32" height="1.84" fill="rgb(50,66,148)"/><rect x="78.88" y="146.02" width="8.32" height="1.84" fill="rgb(88,55,134)"/><rect x="86.71" y="146.02" width="8.32" height="1.84" fill="rgb(130,45,110)"/><rect x="94.53" y="146.02" width="8.32" height="1.84" fill="rgb(50,66,148)"/><rect x="102.35" y="146.02" width="8.32" height="1.84" fill="rgb(50,66,148)"/><rect x="110.18" y="146.02" width="8.32" height="1.84" fill="rgb(88,55,134)"/><rect x="16.30" y="147.36" width="8.32" height="1.84" fill="rgb(226,34,44)"/><rect x="24.12" y="147.36" width="8.32" height="1.84" fill="rgb(50,66,148)"/><rect x="31.95" y="147.36" width="8.32" height="1.84" fill="rgb(226,34,44)"/><rect x="39.77" y="147.36" width="8.32" height="1.84" fill="rgb(226,34,44)"/><rect x="47.59" y="147.36" width="8.32" height="1.84" fill="rgb(226,34,44)"/><rect x="55.42" y="147.36" width="8.32" height="1.84" fill="rgb(182,40,76)"/><rect x="63.24" y="147.36" width="8.32" height="1.84" fill="rgb(88,55,134)"/><rect x="71.06" y="147.36" width="8.32" height="1.84" fill="rgb(64,60,142)"/><rect x="78.88" y="147.36" width="8.32" height="1.84" fill="rgb(64,60,142)"/><rect x="86.71" y="147.36" width="8.32" height="1.84" fill="rgb(50,66,148)"/><rect x="94.53" y="147.36" width="8.32" height="1.84" fill="rgb(50,66,148)"/><rect x="102.35" y="147.36" width="8.32" height="1.84" fill="rgb(50,66,148)"/><rect x="110.18" y="147.36" width="8.32" height="1.84" fill="rgb(50,66,148)"/><rect x="16.30" y="148.70" width="8.32" height="1.84" fill="rgb(182,40,76)"/><rect x="24.12" y="148.70" width="8.32" height="1.84" fill="rgb(64,60,142)"/><rect x="31.95" y="148.70" width="8.32" height="1.84" fill="rgb(226,34,44)"/><rect x="39.77" y="148.70" width="8.32" height="1.84" fill="rgb(226,34,44)"/><rect x="47.59" y="148.70" width="8.32" height="1.84" fill="rgb(130,45,110)"/><rect x="55.42" y="148.70" width="8.32" height="1.84" fill="rgb(226,34,44)"/><rect x="63.24" y="148.70" width="8.32" height="1.84" fill="rgb(64,60,142)"/><rect x="71.06" y="148.70" width="8.32" height="1.84" fill="rgb(50,66,148)"/><rect x="78.88" y="148.70" width="8.32" height="1.84" fill="rgb(50,66,148)"/><rect x="86.71" y="148.70" width="8.32" height="1.84" fill="rgb(88,55,134)"/><rect x="94.53" y="148.70" width="8.32" height="1.84" fill="rgb(50,66,148)"/><rect x="102.35" y="148.70" width="8.32" height="1.84" fill="rgb(88,55,134)"/><rect x="110.18" y="148.70" width="8.32" height="1.84" fill="rgb(64,60,142)"/><rect x="16.30" y="150.04" width="8.32" height="1.84" fill="rgb(226,34,44)"/><rect x="24.12" y="150.04" width="8.32" height="1.84" fill="rgb(50,66,148)"/><rect x="31.95" y="150.04" width="8.32" height="1.84" fill="rgb(182,40,76)"/><rect x="39.77" y="150.04" width="8.32" height="1.84" fill="rgb(182,40,76)"/><rect x="47.59" y="150.04" width="8.32" height="1.84" fill="rgb(226,34,44)"/><rect x="55.42" y="150.04" width="8.32" height="1.84" fill="rgb(226,34,44)"/><rect x="63.24" y="150.04" width="8.32" height="1.84" fill="rgb(88,55,134)"/><rect x="71.06" y="150.04" width="8.32" height="1.84" fill="rgb(50,66,148)"/><rect x="78.88" y="150.04" width="8.32" height="1.84" fill="rgb(64,60,142)"/><rect x="86.71" y="150.04" width="8.32" height="1.84" fill="rgb(130,45,110)"/><rect x="94.53" y="150.04" width="8.32" height="1.84" fill="rgb(64,60,142)"/><rect x="102.35" y="150.04" width="8.32" height="1.84" fill="rgb(64,60,142)"/><rect x="110.18" y="150.04" width="8.32" height="1.84" fill="rgb(50,66,148)"/><rect x="16.30" y="151.37" width="8.32" height="1.84" fill="rgb(226,34,44)"/><rect x="24.12" y="151.37" width="8.32" height="1.84" fill="rgb(226,34,44)"/><rect x="31.95" y="151.37" width="8.32" height="1.84" fill="rgb(64,60,142)"/><rect x="39.77" y="151.37" width="8.32" height="1.84" fill="rgb(226,34,44)"/><rect x="47.59" y="151.37" width="8.32" height="1.84" fill="rgb(130,45,110)"/><rect x="55.42" y="151.37" width="8.32" height="1.84" fill="rgb(226,34,44)"/><rect x="63.24" y="151.37" width="8.32" height="1.84" fill="rgb(88,55,134)"/><rect x="71.06" y="151.37" width="8.32" height="1.84" fill="rgb(64,60,142)"/><rect x="78.88" y="151.37" width="8.32" height="1.84" fill="rgb(50,66,148)"/><rect x="86.71" y="151.37" width="8.32" height="1.84" fill="rgb(88,55,134)"/><rect x="94.53" y="151.37" width="8.32" height="1.84" fill="rgb(130,45,110)"/><rect x="102.35" y="151.37" width="8.32" height="1.84" fill="rgb(50,66,148)"/><rect x="110.18" y="151.37" width="8.32" height="1.84" fill="rgb(64,60,142)"/><rect x="16.30" y="152.71" width="8.32" height="1.84" fill="rgb(182,40,76)"/><rect x="24.12" y="152.71" width="8.32" height="1.84" fill="rgb(182,40,76)"/><rect x="31.95" y="152.71" width="8.32" height="1.84" fill="rgb(88,55,134)"/><rect x="39.77" y="152.71" width="8.32" height="1.84" fill="rgb(226,34,44)"/><rect x="47.59" y="152.71" width="8.32" height="1.84" fill="rgb(226,34,44)"/><rect x="55.42" y="152.71" width="8.32" height="1.84" fill="rgb(226,34,44)"/><rect x="63.24" y="152.71" width="8.32" height="1.84" fill="rgb(64,60,142)"/><rect x="71.06" y="152.71" width="8.32" height="1.84" fill="rgb(50,66,148)"/><rect x="78.88" y="152.71" width="8.32" height="1.84" fill="rgb(50,66,148)"/><rect x="86.71" y="152.71" width="8.32" height="1.84" fill="rgb(50,66,148)"/><rect x="94.53" y="152.71" width="8.32" height="1.84" fill="rgb(50,66,148)"/><rect x="102.35" y="152.71" width="8.32" height="1.84" fill="rgb(50,66,148)"/><rect x="110.18" y="152.71" width="8.32" height="1.84" fill="rgb(88,55,134)"/><rect x="16.30" y="154.05" width="8.32" height="1.84" fill="rgb(226,34,44)"/><rect x="24.12" y="154.05" width="8.32" height="1.84" fill="rgb(130,45,110)"/><rect x="31.95" y="154.05" width="8.32" height="1.84" fill="rgb(88,55,134)"/><rect x="39.77" y="154.05" width="8.32" height="1.84" fill="rgb(226,34,44)"/><rect x="47.59" y="154.05" width="8.32" height="1.84" fill="rgb(226,34,44)"/><rect x="55.42" y="154.05" width="8.32" height="1.84" fill="rgb(226,34,44)"/><rect x="63.24" y="154.05" width="8.32" height="1.84" fill="rgb(130,45,110)"/><rect x="71.06" y="154.05" width="8.32" height="1.84" fill="rgb(50,66,148)"/><rect x="78.88" y="154.05" width="8.32" height="1.84" fill="rgb(50,66,148)"/><rect x="86.71" y="154.05" width="8.32" height="1.84" fill="rgb(50,66,148)"/><rect x="94.53" y="154.05" width="8.32" height="1.84" fill="rgb(64,60,142)"/><rect x="102.35" y="154.05" width="8.32" height="1.84" fill="rgb(50,66,148)"/><rect x="110.18" y="154.05" width="8.32" height="1.84" fill="rgb(50,66,148)"/><rect x="16.30" y="155.39" width="8.32" height="1.84" fill="rgb(182,40,76)"/><rect x="24.12" y="155.39" width="8.32" height="1.84" fill="rgb(88,55,134)"/><rect x="31.95" y="155.39" width="8.32" height="1.84" fill="rgb(64,60,142)"/><rect x="39.77" y="155.39" width="8.32" height="1.84" fill="rgb(182,40,76)"/><rect x="47.59" y="155.39" width="8.32" height="1.84" fill="rgb(226,34,44)"/><rect x="55.42" y="155.39" width="8.32" height="1.84" fill="rgb(226,34,44)"/><rect x="63.24" y="155.39" width="8.32" height="1.84" fill="rgb(130,45,110)"/><rect x="71.06" y="155.39" width="8.32" height="1.84" fill="rgb(88,55,134)"/><rect x="78.88" y="155.39" width="8.32" height="1.84" fill="rgb(50,66,148)"/><rect x="86.71" y="155.39" width="8.32" height="1.84" fill="rgb(88,55,134)"/><rect x="94.53" y="155.39" width="8.32" height="1.84" fill="rgb(50,66,148)"/><rect x="102.35" y="155.39" width="8.32" height="1.84" fill="rgb(50,66,148)"/><rect x="110.18" y="155.39" width="8.32" height="1.84" fill="rgb(50,66,148)"/><rect x="16.30" y="156.73" width="8.32" height="1.84" fill="rgb(182,40,76)"/><rect x="24.12" y="156.73" width="8.32" height="1.84" fill="rgb(88,55,134)"/><rect x="31.95" y="156.73" width="8.32" height="1.84" fill="rgb(64,60,142)"/><rect x="39.77" y="156.73" width="8.32" height="1.84" fill="rgb(226,34,44)"/><rect x="47.59" y="156.73" width="8.32" height="1.84" fill="rgb(182,40,76)"/><rect x="55.42" y="156.73" width="8.32" height="1.84" fill="rgb(226,34,44)"/><rect x="63.24" y="156.73" width="8.32" height="1.84" fill="rgb(130,45,110)"/><rect x="71.06" y="156.73" width="8.32" height="1.84" fill="rgb(50,66,148)"/><rect x="78.88" y="156.73" width="8.32" height="1.84" fill="rgb(64,60,142)"/><rect x="86.71" y="156.73" width="8.32" height="1.84" fill="rgb(130,45,110)"/><rect x="94.53" y="156.73" width="8.32" height="1.84" fill="rgb(50,66,148)"/><rect x="102.35" y="156.73" width="8.32" height="1.84" fill="rgb(64,60,142)"/><rect x="110.18" y="156.73" width="8.32" height="1.84" fill="rgb(64,60,142)"/><rect x="16.30" y="158.06" width="8.32" height="1.84" fill="rgb(182,40,76)"/><rect x="24.12" y="158.06" width="8.32" height="1.84" fill="rgb(88,55,134)"/><rect x="31.95" y="158.06" width="8.32" height="1.84" fill="rgb(130,45,110)"/><rect x="39.77" y="158.06" width="8.32" height="1.84" fill="rgb(182,40,76)"/><rect x="47.59" y="158.06" width="8.32" height="1.84" fill="rgb(226,34,44)"/><rect x="55.42" y="158.06" width="8.32" height="1.84" fill="rgb(226,34,44)"/><rect x="63.24" y="158.06" width="8.32" height="1.84" fill="rgb(182,40,76)"/><rect x="71.06" y="158.06" width="8.32" height="1.84" fill="rgb(64,60,142)"/><rect x="78.88" y="158.06" width="8.32" height="1.84" fill="rgb(64,60,142)"/><rect x="86.71" y="158.06" width="8.32" height="1.84" fill="rgb(130,45,110)"/><rect x="94.53" y="158.06" width="8.32" height="1.84" fill="rgb(64,60,142)"/><rect x="102.35" y="158.06" width="8.32" height="1.84" fill="rgb(64,60,142)"/><rect x="110.18" y="158.06" width="8.32" height="1.84" fill="rgb(50,66,148)"/><rect x="16.30" y="159.40" width="8.32" height="1.84" fill="rgb(226,34,44)"/><rect x="24.12" y="159.40" width="8.32" height="1.84" fill="rgb(226,34,44)"/><rect x="31.95" y="159.40" width="8.32" height="1.84" fill="rgb(182,40,76)"/><rect x="39.77" y="159.40" width="8.32" height="1.84" fill="rgb(182,40,76)"/><rect x="47.59" y="159.40" width="8.32" height="1.84" fill="rgb(182,40,76)"/><rect x="55.42" y="159.40" width="8.32" height="1.84" fill="rgb(226,34,44)"/><rect x="63.24" y="159.40" width="8.32" height="1.84" fill="rgb(130,45,110)"/><rect x="71.06" y="159.40" width="8.32" height="1.84" fill="rgb(50,66,148)"/><rect x="78.88" y="159.40" width="8.32" height="1.84" fill="rgb(50,66,148)"/><rect x="86.71" y="159.40" width="8.32" height="1.84" fill="rgb(88,55,134)"/><rect x="94.53" y="159.40" width="8.32" height="1.84" fill="rgb(64,60,142)"/><rect x="102.35" y="159.40" width="8.32" height="1.84" fill="rgb(50,66,148)"/><rect x="110.18" y="159.40" width="8.32" height="1.84" fill="rgb(88,55,134)"/><rect x="16.30" y="160.74" width="8.32" height="1.84" fill="rgb(226,34,44)"/><rect x="24.12" y="160.74" width="8.32" height="1.84" fill="rgb(226,34,44)"/><rect x="31.95" y="160.74" width="8.32" height="1.84" fill="rgb(182,40,76)"/><rect x="39.77" y="160.74" width="8.32" height="1.84" fill="rgb(182,40,76)"/><rect x="47.59" y="160.74" width="8.32" height="1.84" fill="rgb(88,55,134)"/><rect x="55.42" y="160.74" width="8.32" height="1.84" fill="rgb(88,55,134)"/><rect x="63.24" y="160.74" width="8.32" height="1.84" fill="rgb(130,45,110)"/><rect x="71.06" y="160.74" width="8.32" height="1.84" fill="rgb(50,66,148)"/><rect x="78.88" y="160.74" width="8.32" height="1.84" fill="rgb(50,66,148)"/><rect x="86.71" y="160.74" width="8.32" height="1.84" fill="rgb(226,34,44)"/><rect x="94.53" y="160.74" width="8.32" height="1.84" fill="rgb(64,60,142)"/><rect x="102.35" y="160.74" width="8.32" height="1.84" fill="rgb(130,45,110)"/><rect x="110.18" y="160.74" width="8.32" height="1.84" fill="rgb(64,60,142)"/><rect x="16.30" y="162.08" width="8.32" height="1.84" fill="rgb(226,34,44)"/><rect x="24.12" y="162.08" width="8.32" height="1.84" fill="rgb(182,40,76)"/><rect x="31.95" y="162.08" width="8.32" height="1.84" fill="rgb(182,40,76)"/><rect x="39.77" y="162.08" width="8.32" height="1.84" fill="rgb(182,40,76)"/><rect x="47.59" y="162.08" width="8.32" height="1.84" fill="rgb(182,40,76)"/><rect x="55.42" y="162.08" width="8.32" height="1.84" fill="rgb(130,45,110)"/><rect x="63.24" y="162.08" width="8.32" height="1.84" fill="rgb(130,45,110)"/><rect x="71.06" y="162.08" width="8.32" height="1.84" fill="rgb(50,66,148)"/><rect x="78.88" y="162.08" width="8.32" height="1.84" fill="rgb(50,66,148)"/><rect x="86.71" y="162.08" width="8.32" height="1.84" fill="rgb(182,40,76)"/><rect x="94.53" y="162.08" width="8.32" height="1.84" fill="rgb(64,60,142)"/><rect x="102.35" y="162.08" width="8.32" height="1.84" fill="rgb(130,45,110)"/><rect x="110.18" y="162.08" width="8.32" height="1.84" fill="rgb(50,66,148)"/><rect x="16.30" y="163.42" width="8.32" height="1.84" fill="rgb(226,34,44)"/><rect x="24.12" y="163.42" width="8.32" height="1.84" fill="rgb(226,34,44)"/><rect x="31.95" y="163.42" width="8.32" height="1.84" fill="rgb(182,40,76)"/><rect x="39.77" y="163.42" width="8.32" height="1.84" fill="rgb(130,45,110)"/><rect x="47.59" y="163.42" width="8.32" height="1.84" fill="rgb(226,34,44)"/><rect x="55.42" y="163.42" width="8.32" height="1.84" fill="rgb(130,45,110)"/><rect x="63.24" y="163.42" width="8.32" height="1.84" fill="rgb(182,40,76)"/><rect x="71.06" y="163.42" width="8.32" height="1.84" fill="rgb(88,55,134)"/><rect x="78.88" y="163.42" width="8.32" height="1.84" fill="rgb(64,60,142)"/><rect x="86.71" y="163.42" width="8.32" height="1.84" fill="rgb(130,45,110)"/><rect x="94.53" y="163.42" width="8.32" height="1.84" fill="rgb(50,66,148)"/><rect x="102.35" y="163.42" width="8.32" height="1.84" fill="rgb(50,66,148)"/><rect x="110.18" y="163.42" width="8.32" height="1.84" fill="rgb(64,60,142)"/><rect x="16.30" y="164.76" width="8.32" height="1.84" fill="rgb(226,34,44)"/><rect x="24.12" y="164.76" width="8.32" height="1.84" fill="rgb(130,45,110)"/><rect x="31.95" y="164.76" width="8.32" height="1.84" fill="rgb(226,34,44)"/><rect x="39.77" y="164.76" width="8.32" height="1.84" fill="rgb(182,40,76)"/><rect x="47.59" y="164.76" width="8.32" height="1.84" fill="rgb(50,66,148)"/><rect x="55.42" y="164.76" width="8.32" height="1.84" fill="rgb(182,40,76)"/><rect x="63.24" y="164.76" width="8.32" height="1.84" fill="rgb(226,34,44)"/><rect x="71.06" y="164.76" width="8.32" height="1.84" fill="rgb(64,60,142)"/><rect x="78.88" y="164.76" width="8.32" height="1.84" fill="rgb(50,66,148)"/><rect x="86.71" y="164.76" width="8.32" height="1.84" fill="rgb(50,66,148)"/><rect x="94.53" y="164.76" width="8.32" height="1.84" fill="rgb(88,55,134)"/><rect x="102.35" y="164.76" width="8.32" height="1.84" fill="rgb(130,45,110)"/><rect x="110.18" y="164.76" width="8.32" height="1.84" fill="rgb(64,60,142)"/><rect x="16.30" y="166.09" width="8.32" height="1.84" fill="rgb(226,34,44)"/><rect x="24.12" y="166.09" width="8.32" height="1.84" fill="rgb(88,55,134)"/><rect x="31.95" y="166.09" width="8.32" height="1.84" fill="rgb(226,34,44)"/><rect x="39.77" y="166.09" width="8.32" height="1.84" fill="rgb(182,40,76)"/><rect x="47.59" y="166.09" width="8.32" height="1.84" fill="rgb(64,60,142)"/><rect x="55.42" y="166.09" width="8.32" height="1.84" fill="rgb(226,34,44)"/><rect x="63.24" y="166.09" width="8.32" height="1.84" fill="rgb(182,40,76)"/><rect x="71.06" y="166.09" width="8.32" height="1.84" fill="rgb(50,66,148)"/><rect x="78.88" y="166.09" width="8.32" height="1.84" fill="rgb(50,66,148)"/><rect x="86.71" y="166.09" width="8.32" height="1.84" fill="rgb(50,66,148)"/><rect x="94.53" y="166.09" width="8.32" height="1.84" fill="rgb(64,60,142)"/><rect x="102.35" y="166.09" width="8.32" height="1.84" fill="rgb(88,55,134)"/><rect x="110.18" y="166.09" width="8.32" height="1.84" fill="rgb(50,66,148)"/><rect x="16.30" y="167.43" width="8.32" height="1.84" fill="rgb(226,34,44)"/><rect x="24.12" y="167.43" width="8.32" height="1.84" fill="rgb(64,60,142)"/><rect x="31.95" y="167.43" width="8.32" height="1.84" fill="rgb(182,40,76)"/><rect x="39.77" y="167.43" width="8.32" height="1.84" fill="rgb(130,45,110)"/><rect x="47.59" y="167.43" width="8.32" height="1.84" fill="rgb(182,40,76)"/><rect x="55.42" y="167.43" width="8.32" height="1.84" fill="rgb(182,40,76)"/><rect x="63.24" y="167.43" width="8.32" height="1.84" fill="rgb(182,40,76)"/><rect x="71.06" y="167.43" width="8.32" height="1.84" fill="rgb(64,60,142)"/><rect x="78.88" y="167.43" width="8.32" height="1.84" fill="rgb(88,55,134)"/><rect x="86.71" y="167.43" width="8.32" height="1.84" fill="rgb(130,45,110)"/><rect x="94.53" y="167.43" width="8.32" height="1.84" fill="rgb(88,55,134)"/><rect x="102.35" y="167.43" width="8.32" height="1.84" fill="rgb(88,55,134)"/><rect x="110.18" y="167.43" width="8.32" height="1.84" fill="rgb(50,66,148)"/><rect x="16.30" y="168.77" width="8.32" height="1.84" fill="rgb(182,40,76)"/><rect x="24.12" y="168.77" width="8.32" height="1.84" fill="rgb(182,40,76)"/><rect x="31.95" y="168.77" width="8.32" height="1.84" fill="rgb(226,34,44)"/><rect x="39.77" y="168.77" width="8.32" height="1.84" fill="rgb(130,45,110)"/><rect x="47.59" y="168.77" width="8.32" height="1.84" fill="rgb(130,45,110)"/><rect x="55.42" y="168.77" width="8.32" height="1.84" fill="rgb(182,40,76)"/><rect x="63.24" y="168.77" width="8.32" height="1.84" fill="rgb(130,45,110)"/><rect x="71.06" y="168.77" width="8.32" height="1.84" fill="rgb(64,60,142)"/><rect x="78.88" y="168.77" width="8.32" height="1.84" fill="rgb(182,40,76)"/><rect x="86.71" y="168.77" width="8.32" height="1.84" fill="rgb(226,34,44)"/><rect x="94.53" y="168.77" width="8.32" height="1.84" fill="rgb(50,66,148)"/><rect x="102.35" y="168.77" width="8.32" height="1.84" fill="rgb(50,66,148)"/><rect x="110.18" y="168.77" width="8.32" height="1.84" fill="rgb(64,60,142)"/><rect x="16.30" y="170.11" width="8.32" height="1.84" fill="rgb(226,34,44)"/><rect x="24.12" y="170.11" width="8.32" height="1.84" fill="rgb(226,34,44)"/><rect x="31.95" y="170.11" width="8.32" height="1.84" fill="rgb(226,34,44)"/><rect x="39.77" y="170.11" width="8.32" height="1.84" fill="rgb(182,40,76)"/><rect x="47.59" y="170.11" width="8.32" height="1.84" fill="rgb(130,45,110)"/><rect x="55.42" y="170.11" width="8.32" height="1.84" fill="rgb(182,40,76)"/><rect x="63.24" y="170.11" width="8.32" height="1.84" fill="rgb(182,40,76)"/><rect x="71.06" y="170.11" width="8.32" height="1.84" fill="rgb(50,66,148)"/><rect x="78.88" y="170.11" width="8.32" height="1.84" fill="rgb(182,40,76)"/><rect x="86.71" y="170.11" width="8.32" height="1.84" fill="rgb(130,45,110)"/><rect x="94.53" y="170.11" width="8.32" height="1.84" fill="rgb(50,66,148)"/><rect x="102.35" y="170.11" width="8.32" height="1.84" fill="rgb(50,66,148)"/><rect x="110.18" y="170.11" width="8.32" height="1.84" fill="rgb(50,66,148)"/><rect x="16.30" y="171.45" width="8.32" height="1.84" fill="rgb(226,34,44)"/><rect x="24.12" y="171.45" width="8.32" height="1.84" fill="rgb(130,45,110)"/><rect x="31.95" y="171.45" width="8.32" height="1.84" fill="rgb(226,34,44)"/><rect x="39.77" y="171.45" width="8.32" height="1.84" fill="rgb(50,66,148)"/><rect x="47.59" y="171.45" width="8.32" height="1.84" fill="rgb(226,34,44)"/><rect x="55.42" y="171.45" width="8.32" height="1.84" fill="rgb(182,40,76)"/><rect x="63.24" y="171.45" width="8.32" height="1.84" fill="rgb(130,45,110)"/><rect x="71.06" y="171.45" width="8.32" height="1.84" fill="rgb(64,60,142)"/><rect x="78.88" y="171.45" width="8.32" height="1.84" fill="rgb(64,60,142)"/><rect x="86.71" y="171.45" width="8.32" height="1.84" fill="rgb(64,60,142)"/><rect x="94.53" y="171.45" width="8.32" height="1.84" fill="rgb(64,60,142)"/><rect x="102.35" y="171.45" width="8.32" height="1.84" fill="rgb(50,66,148)"/><rect x="110.18" y="171.45" width="8.32" height="1.84" fill="rgb(50,66,148)"/><rect x="16.30" y="172.79" width="8.32" height="1.84" fill="rgb(226,34,44)"/><rect x="24.12" y="172.79" width="8.32" height="1.84" fill="rgb(182,40,76)"/><rect x="31.95" y="172.79" width="8.32" height="1.84" fill="rgb(88,55,134)"/><rect x="39.77" y="172.79" width="8.32" height="1.84" fill="rgb(50,66,148)"/><rect x="47.59" y="172.79" width="8.32" height="1.84" fill="rgb(182,40,76)"/><rect x="55.42" y="172.79" width="8.32" height="1.84" fill="rgb(50,66,148)"/><rect x="63.24" y="172.79" width="8.32" height="1.84" fill="rgb(182,40,76)"/><rect x="71.06" y="172.79" width="8.32" height="1.84" fill="rgb(50,66,148)"/><rect x="78.88" y="172.79" width="8.32" height="1.84" fill="rgb(50,66,148)"/><rect x="86.71" y="172.79" width="8.32" height="1.84" fill="rgb(64,60,142)"/><rect x="94.53" y="172.79" width="8.32" height="1.84" fill="rgb(88,55,134)"/><rect x="102.35" y="172.79" width="8.32" height="1.84" fill="rgb(50,66,148)"/><rect x="110.18" y="172.79" width="8.32" height="1.84" fill="rgb(64,60,142)"/><rect x="16.30" y="174.12" width="8.32" height="1.84" fill="rgb(226,34,44)"/><rect x="24.12" y="174.12" width="8.32" height="1.84" fill="rgb(226,34,44)"/><rect x="31.95" y="174.12" width="8.32" height="1.84" fill="rgb(130,45,110)"/><rect x="39.77" y="174.12" width="8.32" height="1.84" fill="rgb(64,60,142)"/><rect x="47.59" y="174.12" width="8.32" height="1.84" fill="rgb(182,40,76)"/><rect x="55.42" y="174.12" width="8.32" height="1.84" fill="rgb(50,66,148)"/><rect x="63.24" y="174.12" width="8.32" height="1.84" fill="rgb(130,45,110)"/><rect x="71.06" y="174.12" width="8.32" height="1.84" fill="rgb(50,66,148)"/><rect x="78.88" y="174.12" width="8.32" height="1.84" fill="rgb(50,66,148)"/><rect x="86.71" y="174.12" width="8.32" height="1.84" fill="rgb(64,60,142)"/><rect x="94.53" y="174.12" width="8.32" height="1.84" fill="rgb(64,60,142)"/><rect x="102.35" y="174.12" width="8.32" height="1.84" fill="rgb(50,66,148)"/><rect x="110.18" y="174.12" width="8.32" height="1.84" fill="rgb(64,60,142)"/><rect x="16.30" y="175.46" width="8.32" height="1.84" fill="rgb(182,40,76)"/><rect x="24.12" y="175.46" width="8.32" height="1.84" fill="rgb(226,34,44)"/><rect x="31.95" y="175.46" width="8.32" height="1.84" fill="rgb(88,55,134)"/><rect x="39.77" y="175.46" width="8.32" height="1.84" fill="rgb(88,55,134)"/><rect x="47.59" y="175.46" width="8.32" height="1.84" fill="rgb(226,34,44)"/><rect x="55.42" y="175.46" width="8.32" height="1.84" fill="rgb(130,45,110)"/><rect x="63.24" y="175.46" width="8.32" height="1.84" fill="rgb(130,45,110)"/><rect x="71.06" y="175.46" width="8.32" height="1.84" fill="rgb(64,60,142)"/><rect x="78.88" y="175.46" width="8.32" height="1.84" fill="rgb(50,66,148)"/><rect x="86.71" y="175.46" width="8.32" height="1.84" fill="rgb(88,55,134)"/><rect x="94.53" y="175.46" width="8.32" height="1.84" fill="rgb(50,66,148)"/><rect x="102.35" y="175.46" width="8.32" height="1.84" fill="rgb(64,60,142)"/><rect x="110.18" y="175.46" width="8.32" height="1.84" fill="rgb(50,66,148)"/></g></g></g>
<rect x="13.6" y="40.3" width="1.4" height="66" fill="#1c1c44"/>
<rect x="15.0" y="40.3" width="1.4" height="66" fill="#c4c6ee"/>
<rect x="13.6" y="106.3" width="1.4" height="70.5" fill="#5a1230"/>
<rect x="15.0" y="106.3" width="1.4" height="70.5" fill="#f0a0a0"/>
<rect x="16.5" y="32" width="55" height="1.6" fill="#7fbf7f"/>
<rect x="71.5" y="32" width="46.3" height="1.6" fill="#f3c9a3"/>
<text x="42.3" y="27.8" font-size="7.9" fill="#5a9e5a" text-anchor="middle">CR</text>
<text x="95.7" y="27.8" font-size="7.9" fill="#e9b88a" text-anchor="middle">Non-CR</text>
<text x="0.3" y="13.3" font-size="15.2" font-weight="bold" fill="#111">A.)</text>
<text x="126.4" y="13.6" font-size="15.2" font-weight="bold" fill="#111">B.)</text>
<text x="303.0" y="13.6" font-size="15.2" font-weight="bold" fill="#111">C.)</text>
<text x="0.2" y="201.0" font-size="15.2" font-weight="bold" fill="#111">D.)</text>
<text x="294.4" y="201.0" font-size="15.2" font-weight="bold" fill="#111">E.)</text>
<line x1="174.4" y1="38.3" x2="174.4" y2="158.3" stroke="#cfcfcf" stroke-width="0.5" stroke-dasharray="0.8,0.8"/>
<line x1="205.1" y1="38.3" x2="205.1" y2="158.3" stroke="#cfcfcf" stroke-width="0.5" stroke-dasharray="0.8,0.8"/>
<line x1="235.9" y1="38.3" x2="235.9" y2="158.3" stroke="#cfcfcf" stroke-width="0.5" stroke-dasharray="0.8,0.8"/>
<line x1="266.6" y1="38.3" x2="266.6" y2="158.3" stroke="#cfcfcf" stroke-width="0.5" stroke-dasharray="0.8,0.8"/>
<line x1="143.6" y1="62.3" x2="297.4" y2="62.3" stroke="#cfcfcf" stroke-width="0.5" stroke-dasharray="0.8,0.8"/>
<line x1="143.6" y1="86.3" x2="297.4" y2="86.3" stroke="#cfcfcf" stroke-width="0.5" stroke-dasharray="0.8,0.8"/>
<line x1="143.6" y1="110.3" x2="297.4" y2="110.3" stroke="#cfcfcf" stroke-width="0.5" stroke-dasharray="0.8,0.8"/>
<line x1="143.6" y1="134.3" x2="297.4" y2="134.3" stroke="#cfcfcf" stroke-width="0.5" stroke-dasharray="0.8,0.8"/>
<rect x="143.6" y="38.3" width="153.8" height="120.0" fill="none" stroke="#111" stroke-width="0.9"/>
<line x1="143.6" y1="158.3" x2="143.6" y2="156.7" stroke="#111" stroke-width="0.7"/>
<text x="142.6" y="166.5" font-size="7" fill="#161616" text-anchor="middle">-6</text>
<line x1="174.4" y1="158.3" x2="174.4" y2="156.7" stroke="#111" stroke-width="0.7"/>
<text x="173.4" y="166.5" font-size="7" fill="#161616" text-anchor="middle">-4</text>
<line x1="205.1" y1="158.3" x2="205.1" y2="156.7" stroke="#111" stroke-width="0.7"/>
<text x="204.1" y="166.5" font-size="7" fill="#161616" text-anchor="middle">-2</text>
<line x1="235.9" y1="158.3" x2="235.9" y2="156.7" stroke="#111" stroke-width="0.7"/>
<text x="235.9" y="166.5" font-size="7" fill="#161616" text-anchor="middle">0</text>
<line x1="266.6" y1="158.3" x2="266.6" y2="156.7" stroke="#111" stroke-width="0.7"/>
<text x="266.6" y="166.5" font-size="7" fill="#161616" text-anchor="middle">2</text>
<line x1="297.4" y1="158.3" x2="297.4" y2="156.7" stroke="#111" stroke-width="0.7"/>
<text x="297.4" y="166.5" font-size="7" fill="#161616" text-anchor="middle">4</text>
<line x1="143.6" y1="38.3" x2="145.2" y2="38.3" stroke="#111" stroke-width="0.7"/>
<text x="142.1" y="40.8" font-size="7" fill="#161616" text-anchor="end">2</text>
<line x1="143.6" y1="62.3" x2="145.2" y2="62.3" stroke="#111" stroke-width="0.7"/>
<text x="142.1" y="64.8" font-size="7" fill="#161616" text-anchor="end">1</text>
<line x1="143.6" y1="86.3" x2="145.2" y2="86.3" stroke="#111" stroke-width="0.7"/>
<text x="142.1" y="88.8" font-size="7" fill="#161616" text-anchor="end">0</text>
<line x1="143.6" y1="110.3" x2="145.2" y2="110.3" stroke="#111" stroke-width="0.7"/>
<text x="142.1" y="112.8" font-size="7" fill="#161616" text-anchor="end">-1</text>
<line x1="143.6" y1="134.3" x2="145.2" y2="134.3" stroke="#111" stroke-width="0.7"/>
<text x="142.1" y="136.8" font-size="7" fill="#161616" text-anchor="end">-2</text>
<line x1="143.6" y1="158.3" x2="145.2" y2="158.3" stroke="#111" stroke-width="0.7"/>
<text x="142.1" y="160.8" font-size="7" fill="#161616" text-anchor="end">-3</text>
<circle cx="151.6" cy="69.5" r="2.7" fill="#0a0a0a"/>
<circle cx="153.6" cy="68.5" r="2.7" fill="#0a0a0a"/>
<circle cx="177.4" cy="60.3" r="2.7" fill="#0a0a0a"/>
<circle cx="198.4" cy="60.3" r="2.7" fill="#0a0a0a"/>
<circle cx="182.7" cy="76.6" r="2.7" fill="#0a0a0a"/>
<circle cx="165.2" cy="87.8" r="2.7" fill="#0a0a0a"/>
<circle cx="165.1" cy="99.0" r="2.7" fill="#0a0a0a"/>
<circle cx="179.5" cy="97.5" r="2.7" fill="#0a0a0a"/>
<circle cx="199.7" cy="97.5" r="2.7" fill="#0a0a0a"/>
<circle cx="181.3" cy="104.4" r="2.7" fill="#0a0a0a"/>
<circle cx="177.7" cy="108.3" r="2.7" fill="#0a0a0a"/>
<circle cx="182.9" cy="113.3" r="2.7" fill="#0a0a0a"/>
<circle cx="192.3" cy="120.9" r="2.7" fill="#0a0a0a"/>
<circle cx="271.5" cy="42.4" r="2.5" fill="#ec1212" stroke="#b00808" stroke-width="0.6"/>
<circle cx="240.8" cy="48.9" r="2.5" fill="#ec1212" stroke="#b00808" stroke-width="0.6"/>
<circle cx="274.4" cy="49.7" r="2.5" fill="#ec1212" stroke="#b00808" stroke-width="0.6"/>
<circle cx="269.5" cy="53.2" r="2.5" fill="#ec1212" stroke="#b00808" stroke-width="0.6"/>
<circle cx="257.0" cy="56.9" r="2.5" fill="#ec1212" stroke="#b00808" stroke-width="0.6"/>
<circle cx="260.3" cy="61.1" r="2.5" fill="#ec1212" stroke="#b00808" stroke-width="0.6"/>
<circle cx="258.3" cy="62.4" r="2.5" fill="#ec1212" stroke="#b00808" stroke-width="0.6"/>
<circle cx="285.6" cy="62.4" r="2.5" fill="#ec1212" stroke="#b00808" stroke-width="0.6"/>
<circle cx="247.9" cy="65.8" r="2.5" fill="#ec1212" stroke="#b00808" stroke-width="0.6"/>
<circle cx="257.0" cy="67.3" r="2.5" fill="#ec1212" stroke="#b00808" stroke-width="0.6"/>
<circle cx="235.9" cy="70.5" r="2.5" fill="#ec1212" stroke="#b00808" stroke-width="0.6"/>
<circle cx="243.4" cy="74.0" r="2.5" fill="#ec1212" stroke="#b00808" stroke-width="0.6"/>
<circle cx="258.5" cy="80.5" r="2.5" fill="#ec1212" stroke="#b00808" stroke-width="0.6"/>
<circle cx="252.4" cy="81.7" r="2.5" fill="#ec1212" stroke="#b00808" stroke-width="0.6"/>
<circle cx="259.5" cy="82.1" r="2.5" fill="#ec1212" stroke="#b00808" stroke-width="0.6"/>
<circle cx="254.9" cy="85.5" r="2.5" fill="#ec1212" stroke="#b00808" stroke-width="0.6"/>
<circle cx="250.7" cy="86.8" r="2.5" fill="#ec1212" stroke="#b00808" stroke-width="0.6"/>
<circle cx="280.9" cy="85.8" r="2.5" fill="#ec1212" stroke="#b00808" stroke-width="0.6"/>
<circle cx="259.5" cy="89.9" r="2.5" fill="#ec1212" stroke="#b00808" stroke-width="0.6"/>
<circle cx="239.6" cy="94.8" r="2.5" fill="#ec1212" stroke="#b00808" stroke-width="0.6"/>
<circle cx="247.0" cy="94.3" r="2.5" fill="#ec1212" stroke="#b00808" stroke-width="0.6"/>
<circle cx="270.7" cy="99.1" r="2.5" fill="#ec1212" stroke="#b00808" stroke-width="0.6"/>
<circle cx="275.4" cy="107.2" r="2.5" fill="#ec1212" stroke="#b00808" stroke-width="0.6"/>
<circle cx="244.6" cy="112.2" r="2.5" fill="#ec1212" stroke="#b00808" stroke-width="0.6"/>
<circle cx="264.2" cy="121.6" r="2.5" fill="#ec1212" stroke="#b00808" stroke-width="0.6"/>
<circle cx="270.6" cy="125.5" r="2.5" fill="#ec1212" stroke="#b00808" stroke-width="0.6"/>
<circle cx="294.0" cy="122.7" r="2.5" fill="#ec1212" stroke="#b00808" stroke-width="0.6"/>
<circle cx="258.7" cy="133.9" r="2.5" fill="#ec1212" stroke="#b00808" stroke-width="0.6"/>
<circle cx="277.0" cy="145.6" r="2.5" fill="#ec1212" stroke="#b00808" stroke-width="0.6"/>
<text x="224.5" y="178.3" font-size="8.1" fill="#161616" text-anchor="middle">1st Principal Component (60.9312%)</text>
<text transform="translate(133.3,98.5) rotate(-90)" font-size="8.1" fill="#161616" text-anchor="middle">2nd Principal Component (6.9791%)</text>
<line x1="347.5" y1="148.6" x2="347.5" y2="123.5" stroke="#f9dcdc" stroke-width="0.6"/>
<line x1="351.3" y1="148.6" x2="351.3" y2="123.5" stroke="#f9dcdc" stroke-width="0.6"/>
<line x1="355.0" y1="148.6" x2="355.0" y2="123.5" stroke="#f9dcdc" stroke-width="0.6"/>
<line x1="358.8" y1="148.6" x2="358.8" y2="123.5" stroke="#f9dcdc" stroke-width="0.6"/>
<line x1="362.0" y1="148.6" x2="362.0" y2="98.4" stroke="#f9dcdc" stroke-width="0.6"/>
<line x1="385.0" y1="148.6" x2="385.0" y2="123.5" stroke="#f9dcdc" stroke-width="0.6"/>
<line x1="407.5" y1="148.6" x2="407.5" y2="123.5" stroke="#f9dcdc" stroke-width="0.6"/>
<line x1="410.0" y1="148.6" x2="410.0" y2="123.5" stroke="#f9dcdc" stroke-width="0.6"/>
<line x1="415.5" y1="148.6" x2="415.5" y2="98.4" stroke="#f9dcdc" stroke-width="0.6"/>
<line x1="420.0" y1="148.6" x2="420.0" y2="73.3" stroke="#f9dcdc" stroke-width="0.6"/>
<line x1="425.9" y1="148.6" x2="425.9" y2="68.3" stroke="#f9dcdc" stroke-width="0.6"/>
<line x1="431.1" y1="148.6" x2="431.1" y2="118.5" stroke="#f9dcdc" stroke-width="0.6"/>
<line x1="434.8" y1="148.6" x2="434.8" y2="123.5" stroke="#f9dcdc" stroke-width="0.6"/>
<line x1="439.0" y1="148.6" x2="439.0" y2="123.5" stroke="#f9dcdc" stroke-width="0.6"/>
<line x1="447.5" y1="148.6" x2="447.5" y2="98.4" stroke="#f9dcdc" stroke-width="0.6"/>
<line x1="324.8" y1="47.6" x2="324.8" y2="149.3" stroke="#111" stroke-width="1.3"/>
<line x1="324.2" y1="148.8" x2="475" y2="148.8" stroke="#111" stroke-width="1.3"/>
<line x1="322.4" y1="148.6" x2="324.8" y2="148.6" stroke="#111" stroke-width="1.1"/>
<text x="321.8" y="151.1" font-size="7" font-weight="bold" fill="#111" text-anchor="end">0</text>
<line x1="322.4" y1="123.5" x2="324.8" y2="123.5" stroke="#111" stroke-width="1.1"/>
<text x="321.8" y="126.0" font-size="7" font-weight="bold" fill="#111" text-anchor="end">1</text>
<line x1="322.4" y1="98.4" x2="324.8" y2="98.4" stroke="#111" stroke-width="1.1"/>
<text x="321.8" y="100.9" font-size="7" font-weight="bold" fill="#111" text-anchor="end">2</text>
<line x1="322.4" y1="73.3" x2="324.8" y2="73.3" stroke="#111" stroke-width="1.1"/>
<text x="321.8" y="75.8" font-size="7" font-weight="bold" fill="#111" text-anchor="end">3</text>
<line x1="322.4" y1="48.2" x2="324.8" y2="48.2" stroke="#111" stroke-width="1.1"/>
<text x="321.8" y="50.7" font-size="7" font-weight="bold" fill="#111" text-anchor="end">4</text>
<line x1="325.6" y1="148.8" x2="325.6" y2="151.6" stroke="#111" stroke-width="1"/>
<text transform="translate(328.0,153.6) rotate(-50)" font-size="5.6" font-weight="bold" fill="#111" text-anchor="end">-100</text>
<line x1="333.0" y1="148.8" x2="333.0" y2="151.6" stroke="#111" stroke-width="1"/>
<text transform="translate(335.4,153.6) rotate(-50)" font-size="5.6" font-weight="bold" fill="#111" text-anchor="end">-90</text>
<line x1="340.5" y1="148.8" x2="340.5" y2="151.6" stroke="#111" stroke-width="1"/>
<text transform="translate(342.9,153.6) rotate(-50)" font-size="5.6" font-weight="bold" fill="#111" text-anchor="end">-80</text>
<line x1="347.9" y1="148.8" x2="347.9" y2="151.6" stroke="#111" stroke-width="1"/>
<text transform="translate(350.3,153.6) rotate(-50)" font-size="5.6" font-weight="bold" fill="#111" text-anchor="end">-70</text>
<line x1="355.3" y1="148.8" x2="355.3" y2="151.6" stroke="#111" stroke-width="1"/>
<text transform="translate(357.7,153.6) rotate(-50)" font-size="5.6" font-weight="bold" fill="#111" text-anchor="end">-60</text>
<line x1="362.8" y1="148.8" x2="362.8" y2="151.6" stroke="#111" stroke-width="1"/>
<text transform="translate(365.1,153.6) rotate(-50)" font-size="5.6" font-weight="bold" fill="#111" text-anchor="end">-50</text>
<line x1="370.2" y1="148.8" x2="370.2" y2="151.6" stroke="#111" stroke-width="1"/>
<text transform="translate(372.6,153.6) rotate(-50)" font-size="5.6" font-weight="bold" fill="#111" text-anchor="end">-40</text>
<line x1="377.6" y1="148.8" x2="377.6" y2="151.6" stroke="#111" stroke-width="1"/>
<text transform="translate(380.0,153.6) rotate(-50)" font-size="5.6" font-weight="bold" fill="#111" text-anchor="end">-30</text>
<line x1="385.0" y1="148.8" x2="385.0" y2="151.6" stroke="#111" stroke-width="1"/>
<text transform="translate(387.4,153.6) rotate(-50)" font-size="5.6" font-weight="bold" fill="#111" text-anchor="end">-20</text>
<line x1="392.5" y1="148.8" x2="392.5" y2="151.6" stroke="#111" stroke-width="1"/>
<text transform="translate(394.9,153.6) rotate(-50)" font-size="5.6" font-weight="bold" fill="#111" text-anchor="end">-10</text>
<line x1="399.9" y1="148.8" x2="399.9" y2="151.6" stroke="#111" stroke-width="1"/>
<text transform="translate(402.3,153.6) rotate(-50)" font-size="5.6" font-weight="bold" fill="#111" text-anchor="end">0</text>
<line x1="407.3" y1="148.8" x2="407.3" y2="151.6" stroke="#111" stroke-width="1"/>
<text transform="translate(409.7,153.6) rotate(-50)" font-size="5.6" font-weight="bold" fill="#111" text-anchor="end">10</text>
<line x1="414.8" y1="148.8" x2="414.8" y2="151.6" stroke="#111" stroke-width="1"/>
<text transform="translate(417.2,153.6) rotate(-50)" font-size="5.6" font-weight="bold" fill="#111" text-anchor="end">20</text>
<line x1="422.2" y1="148.8" x2="422.2" y2="151.6" stroke="#111" stroke-width="1"/>
<text transform="translate(424.6,153.6) rotate(-50)" font-size="5.6" font-weight="bold" fill="#111" text-anchor="end">30</text>
<line x1="429.6" y1="148.8" x2="429.6" y2="151.6" stroke="#111" stroke-width="1"/>
<text transform="translate(432.0,153.6) rotate(-50)" font-size="5.6" font-weight="bold" fill="#111" text-anchor="end">40</text>
<line x1="437.1" y1="148.8" x2="437.1" y2="151.6" stroke="#111" stroke-width="1"/>
<text transform="translate(439.4,153.6) rotate(-50)" font-size="5.6" font-weight="bold" fill="#111" text-anchor="end">50</text>
<line x1="444.5" y1="148.8" x2="444.5" y2="151.6" stroke="#111" stroke-width="1"/>
<text transform="translate(446.9,153.6) rotate(-50)" font-size="5.6" font-weight="bold" fill="#111" text-anchor="end">60</text>
<line x1="451.9" y1="148.8" x2="451.9" y2="151.6" stroke="#111" stroke-width="1"/>
<text transform="translate(454.3,153.6) rotate(-50)" font-size="5.6" font-weight="bold" fill="#111" text-anchor="end">70</text>
<line x1="459.3" y1="148.8" x2="459.3" y2="151.6" stroke="#111" stroke-width="1"/>
<text transform="translate(461.7,153.6) rotate(-50)" font-size="5.6" font-weight="bold" fill="#111" text-anchor="end">80</text>
<line x1="466.8" y1="148.8" x2="466.8" y2="151.6" stroke="#111" stroke-width="1"/>
<text transform="translate(469.2,153.6) rotate(-50)" font-size="5.6" font-weight="bold" fill="#111" text-anchor="end">90</text>
<line x1="474.2" y1="148.8" x2="474.2" y2="151.6" stroke="#111" stroke-width="1"/>
<text transform="translate(476.6,153.6) rotate(-50)" font-size="5.6" font-weight="bold" fill="#111" text-anchor="end">100</text>
<polyline points="327.8,144.21 328.6,143.94 329.3,143.65 330.1,143.36 330.8,143.05 331.5,142.73 332.3,142.39 333.0,142.04 333.8,141.68 334.5,141.31 335.3,140.92 336.0,140.52 336.7,140.10 337.5,139.67 338.2,139.23 339.0,138.78 339.7,138.31 340.5,137.83 341.2,137.33 341.9,136.83 342.7,136.31 343.4,135.79 344.2,135.25 344.9,134.70 345.7,134.14 346.4,133.57 347.1,133.00 347.9,132.42 348.6,131.83 349.4,131.23 350.1,130.63 350.9,130.03 351.6,129.42 352.3,128.81 353.1,128.20 353.8,127.59 354.6,126.98 355.3,126.37 356.1,125.77 356.8,125.17 357.5,124.58 358.3,123.99 359.0,123.41 359.8,122.84 360.5,122.29 361.3,121.74 362.0,121.21 362.8,120.69 363.5,120.19 364.2,119.70 365.0,119.23 365.7,118.79 366.5,118.36 367.2,117.95 368.0,117.57 368.7,117.21 369.4,116.87 370.2,116.56 370.9,116.27 371.7,116.01 372.4,115.78 373.2,115.58 373.9,115.40 374.6,115.26 375.4,115.14 376.1,115.05 376.9,115.00 377.6,114.97 378.4,114.97 379.1,115.00 379.8,115.07 380.6,115.16 381.3,115.28 382.1,115.44 382.8,115.62 383.6,115.83 384.3,116.06 385.0,116.33 385.8,116.62 386.5,116.93 387.3,117.28 388.0,117.64 388.8,118.03 389.5,118.44 390.2,118.87 391.0,119.33 391.7,119.80 392.5,120.29 393.2,120.79 394.0,121.31 394.7,121.85 395.4,122.40 396.2,122.96 396.9,123.53 397.7,124.11 398.4,124.69 399.2,125.29 399.9,125.89 400.6,126.49 401.4,127.10 402.1,127.71 402.9,128.32 403.6,128.93 404.4,129.54 405.1,130.15 405.8,130.75 406.6,131.35 407.3,131.95 408.1,132.53 408.8,133.11 409.6,133.69 410.3,134.25 411.0,134.81 411.8,135.36 412.5,135.89 413.3,136.42 414.0,136.93 414.8,137.43 415.5,137.92 416.2,138.40 417.0,138.87 417.7,139.32 418.5,139.76 419.2,140.19 420.0,140.60 420.7,141.00 421.4,141.38 422.2,141.76 422.9,142.11 423.7,142.46 424.4,142.79 425.2,143.11 425.9,143.42 426.6,143.71 427.4,143.99 428.1,144.26 428.9,144.52 429.6,144.76 430.4,145.00 431.1,145.22 431.8,145.43 432.6,145.63 433.3,145.82 434.1,146.00 434.8,146.18 435.6,146.34 436.3,146.49 437.1,146.63 437.8,146.77 438.5,146.90 439.3,147.02 440.0,147.13 440.8,147.24 441.5,147.34 442.3,147.43 443.0,147.52 443.7,147.60 444.5,147.68 445.2,147.75 446.0,147.82 446.7,147.88 447.5,147.94 448.2,147.99 448.9,148.04 449.7,148.09 450.4,148.13 451.2,148.17 451.9,148.21 452.7,148.24 453.4,148.27 454.1,148.30 454.9,148.33 455.6,148.35 456.4,148.37 457.1,148.39 457.9,148.41 458.6,148.43 459.3,148.45 460.1,148.46 460.8,148.47 461.6,148.49 462.3,148.50 463.1,148.51 463.8,148.52 464.5,148.52 465.3,148.53 466.0,148.54 466.8,148.54 467.5,148.55 468.3,148.56 469.0,148.56 469.7,148.56 470.5,148.57 471.2,148.57 472.0,148.57 472.7,148.58 473.5,148.58 474.2,148.58" fill="none" stroke="#8f1f2b" stroke-width="1.2"/>
<polyline points="325.6,148.60 326.3,148.60 327.1,148.60 327.8,148.60 328.6,148.60 329.3,148.60 330.1,148.60 330.8,148.60 331.5,148.60 332.3,148.60 333.0,148.60 333.8,148.60 334.5,148.60 335.3,148.60 336.0,148.60 336.7,148.60 337.5,148.60 338.2,148.60 339.0,148.60 339.7,148.60 340.5,148.60 341.2,148.60 341.9,148.60 342.7,148.60 343.4,148.60 344.2,148.60 344.9,148.60 345.7,148.60 346.4,148.60 347.1,148.60 347.9,148.60 348.6,148.60 349.4,148.60 350.1,148.60 350.9,148.60 351.6,148.60 352.3,148.60 353.1,148.60 353.8,148.60 354.6,148.60 355.3,148.60 356.1,148.60 356.8,148.60 357.5,148.60 358.3,148.60 359.0,148.60 359.8,148.60 360.5,148.60 361.3,148.60 362.0,148.60 362.8,148.60 363.5,148.60 364.2,148.59 365.0,148.59 365.7,148.59 366.5,148.59 367.2,148.59 368.0,148.58 368.7,148.58 369.4,148.57 370.2,148.56 370.9,148.56 371.7,148.55 372.4,148.53 373.2,148.52 373.9,148.50 374.6,148.48 375.4,148.45 376.1,148.42 376.9,148.38 377.6,148.33 378.4,148.28 379.1,148.22 379.8,148.14 380.6,148.05 381.3,147.95 382.1,147.83 382.8,147.69 383.6,147.52 384.3,147.33 385.0,147.12 385.8,146.87 386.5,146.58 387.3,146.26 388.0,145.89 388.8,145.47 389.5,145.00 390.2,144.48 391.0,143.89 391.7,143.23 392.5,142.49 393.2,141.68 394.0,140.78 394.7,139.79 395.4,138.71 396.2,137.53 396.9,136.24 397.7,134.85 398.4,133.34 399.2,131.72 399.9,129.99 400.6,128.14 401.4,126.17 402.1,124.09 402.9,121.90 403.6,119.59 404.4,117.19 405.1,114.68 405.8,112.09 406.6,109.42 407.3,106.68 408.1,103.88 408.8,101.04 409.6,98.17 410.3,95.29 411.0,92.41 411.8,89.56 412.5,86.75 413.3,84.00 414.0,81.34 414.8,78.77 415.5,76.33 416.2,74.02 417.0,71.88 417.7,69.90 418.5,68.13 419.2,66.56 420.0,65.21 420.7,64.09 421.4,63.22 422.2,62.60 422.9,62.24 423.7,62.13 424.4,62.29 425.2,62.70 425.9,63.38 426.6,64.30 427.4,65.46 428.1,66.85 428.9,68.47 429.6,70.28 430.4,72.29 431.1,74.47 431.8,76.81 432.6,79.28 433.3,81.86 434.1,84.55 434.8,87.31 435.6,90.13 436.3,92.99 437.1,95.87 437.8,98.75 438.5,101.61 439.3,104.44 440.0,107.23 440.8,109.96 441.5,112.62 442.3,115.19 443.0,117.68 443.7,120.06 444.5,122.34 445.2,124.52 446.0,126.57 446.7,128.52 447.5,130.35 448.2,132.06 448.9,133.65 449.7,135.13 450.4,136.51 451.2,137.77 451.9,138.93 452.7,140.00 453.4,140.97 454.1,141.85 454.9,142.64 455.6,143.36 456.4,144.01 457.1,144.59 457.9,145.10 458.6,145.56 459.3,145.97 460.1,146.33 460.8,146.64 461.6,146.92 462.3,147.16 463.1,147.37 463.8,147.56 464.5,147.72 465.3,147.85 466.0,147.97 466.8,148.07 467.5,148.16 468.3,148.23 469.0,148.29 469.7,148.34 470.5,148.39 471.2,148.42 472.0,148.46 472.7,148.48 473.5,148.50 474.2,148.52" fill="none" stroke="#1a1aa8" stroke-width="1.3"/>
<text transform="translate(315.6,100.3) rotate(-90)" font-size="8" fill="#161616" text-anchor="middle">Number of samples</text>
<text x="393.5" y="172.3" font-size="8" fill="#161616" text-anchor="middle">Discriminant score</text>
<line x1="336.7" y1="53.7" x2="341" y2="53.7" stroke="#1a1aa8" stroke-width="1.3"/>
<line x1="336.7" y1="65.4" x2="341" y2="65.4" stroke="#8f1f2b" stroke-width="1.3"/>
<text x="344" y="56.5" font-size="8.5" fill="#161616">CR</text>
<text x="344" y="68.3" font-size="8.3" fill="#161616">Non-CR</text>
<text x="392.3" y="39.0" font-size="7.9" fill="#161616">Sensitivity = 93.8%</text>
<text x="392.3" y="48.7" font-size="7.9" fill="#161616">Specificity = 72.7%</text>
<rect x="23.5" y="205.9" width="108.3" height="80.7" fill="#13110d"/>
<g filter="url(#sb)"><circle cx="115.8" cy="281.5" r="0.59" fill="#a9a486" opacity="0.17"/><circle cx="90.8" cy="208.4" r="0.68" fill="#a9a486" opacity="0.24"/><circle cx="105.7" cy="210.4" r="0.58" fill="#a9a486" opacity="0.19"/><circle cx="48.2" cy="219.4" r="0.90" fill="#a9a486" opacity="0.17"/><circle cx="25.2" cy="275.1" r="0.82" fill="#a9a486" opacity="0.25"/><circle cx="51.3" cy="276.7" r="1.14" fill="#a9a486" opacity="0.13"/><circle cx="96.5" cy="260.0" r="0.90" fill="#a9a486" opacity="0.24"/><circle cx="66.9" cy="262.9" r="0.56" fill="#a9a486" opacity="0.39"/><circle cx="33.8" cy="220.3" r="0.78" fill="#a9a486" opacity="0.11"/><circle cx="118.3" cy="238.1" r="0.77" fill="#a9a486" opacity="0.22"/><circle cx="117.1" cy="233.3" r="0.94" fill="#a9a486" opacity="0.42"/><circle cx="69.4" cy="278.8" r="0.88" fill="#a9a486" opacity="0.24"/><circle cx="74.1" cy="234.0" r="0.81" fill="#a9a486" opacity="0.20"/><circle cx="27.2" cy="270.2" r="0.70" fill="#a9a486" opacity="0.15"/><circle cx="45.4" cy="249.8" r="1.02" fill="#a9a486" opacity="0.29"/><circle cx="74.1" cy="269.5" r="0.69" fill="#a9a486" opacity="0.23"/><circle cx="47.5" cy="238.8" r="0.93" fill="#a9a486" opacity="0.30"/><circle cx="56.1" cy="244.4" r="0.67" fill="#a9a486" opacity="0.39"/><circle cx="96.3" cy="281.0" r="1.15" fill="#a9a486" opacity="0.30"/><circle cx="71.3" cy="284.8" r="0.87" fill="#a9a486" opacity="0.24"/><circle cx="78.7" cy="216.8" r="1.00" fill="#a9a486" opacity="0.33"/><circle cx="34.2" cy="273.9" r="0.99" fill="#a9a486" opacity="0.36"/><circle cx="27.6" cy="263.4" r="0.64" fill="#a9a486" opacity="0.12"/><circle cx="100.0" cy="261.6" r="1.02" fill="#a9a486" opacity="0.19"/><circle cx="44.5" cy="277.0" r="0.59" fill="#a9a486" opacity="0.40"/><circle cx="110.1" cy="266.6" r="0.67" fill="#a9a486" opacity="0.34"/><circle cx="33.8" cy="229.6" r="1.04" fill="#a9a486" opacity="0.24"/><circle cx="62.3" cy="273.4" r="0.83" fill="#a9a486" opacity="0.31"/><circle cx="91.3" cy="274.8" r="1.11" fill="#a9a486" opacity="0.17"/><circle cx="63.5" cy="269.8" r="0.96" fill="#a9a486" opacity="0.40"/><circle cx="27.2" cy="262.3" r="0.83" fill="#a9a486" opacity="0.43"/><circle cx="67.1" cy="278.2" r="0.61" fill="#a9a486" opacity="0.21"/><circle cx="53.3" cy="254.8" r="0.68" fill="#a9a486" opacity="0.33"/><circle cx="67.5" cy="254.8" r="0.81" fill="#a9a486" opacity="0.35"/><circle cx="41.1" cy="265.0" r="0.88" fill="#a9a486" opacity="0.31"/><circle cx="124.6" cy="251.3" r="0.69" fill="#a9a486" opacity="0.27"/><circle cx="79.9" cy="279.8" r="0.95" fill="#a9a486" opacity="0.30"/><circle cx="124.0" cy="215.7" r="1.01" fill="#a9a486" opacity="0.32"/><circle cx="120.3" cy="275.8" r="0.90" fill="#a9a486" opacity="0.33"/><circle cx="128.0" cy="260.5" r="0.57" fill="#a9a486" opacity="0.21"/><circle cx="107.1" cy="234.1" r="1.10" fill="#a9a486" opacity="0.25"/><circle cx="103.6" cy="285.5" r="0.92" fill="#a9a486" opacity="0.18"/><circle cx="80.6" cy="234.4" r="1.12" fill="#a9a486" opacity="0.25"/><circle cx="60.7" cy="246.5" r="0.96" fill="#a9a486" opacity="0.38"/><circle cx="91.0" cy="246.9" r="0.96" fill="#a9a486" opacity="0.18"/><circle cx="96.1" cy="273.5" r="1.02" fill="#a9a486" opacity="0.27"/><circle cx="44.6" cy="281.8" r="1.05" fill="#a9a486" opacity="0.29"/><circle cx="43.1" cy="219.8" r="1.02" fill="#a9a486" opacity="0.19"/><circle cx="52.2" cy="282.7" r="0.65" fill="#a9a486" opacity="0.22"/><circle cx="34.3" cy="257.0" r="0.63" fill="#a9a486" opacity="0.33"/><circle cx="76.2" cy="244.9" r="0.97" fill="#a9a486" opacity="0.11"/><circle cx="98.0" cy="217.4" r="0.93" fill="#a9a486" opacity="0.34"/><circle cx="38.7" cy="262.6" r="0.90" fill="#a9a486" opacity="0.19"/><circle cx="91.4" cy="216.2" r="0.80" fill="#a9a486" opacity="0.41"/><circle cx="96.5" cy="219.1" r="1.14" fill="#a9a486" opacity="0.38"/><circle cx="67.7" cy="223.1" r="0.96" fill="#a9a486" opacity="0.12"/><circle cx="76.2" cy="210.3" r="1.09" fill="#a9a486" opacity="0.21"/><circle cx="36.3" cy="231.2" r="1.13" fill="#a9a486" opacity="0.16"/><circle cx="71.8" cy="251.7" r="0.72" fill="#a9a486" opacity="0.29"/><circle cx="29.3" cy="243.8" r="1.14" fill="#a9a486" opacity="0.27"/><circle cx="103.9" cy="233.0" r="0.99" fill="#a9a486" opacity="0.20"/><circle cx="93.1" cy="282.2" r="0.84" fill="#a9a486" opacity="0.36"/><circle cx="58.7" cy="235.2" r="0.60" fill="#a9a486" opacity="0.20"/><circle cx="89.7" cy="264.4" r="0.97" fill="#a9a486" opacity="0.32"/><circle cx="32.8" cy="265.7" r="0.57" fill="#a9a486" opacity="0.24"/><circle cx="39.9" cy="235.9" r="1.13" fill="#a9a486" opacity="0.28"/><circle cx="119.7" cy="260.6" r="0.61" fill="#a9a486" opacity="0.34"/><circle cx="57.5" cy="255.4" r="0.78" fill="#a9a486" opacity="0.32"/><circle cx="62.4" cy="225.0" r="0.63" fill="#a9a486" opacity="0.41"/><circle cx="113.6" cy="226.9" r="0.58" fill="#a9a486" opacity="0.15"/><circle cx="109.8" cy="279.4" r="1.15" fill="#a9a486" opacity="0.24"/><circle cx="29.9" cy="223.9" r="0.80" fill="#a9a486" opacity="0.35"/><circle cx="130.3" cy="254.3" r="0.93" fill="#a9a486" opacity="0.16"/><circle cx="48.7" cy="217.8" r="0.93" fill="#a9a486" opacity="0.24"/><circle cx="128.6" cy="273.8" r="0.84" fill="#a9a486" opacity="0.18"/><circle cx="64.1" cy="209.4" r="0.92" fill="#a9a486" opacity="0.38"/><circle cx="78.9" cy="218.2" r="0.59" fill="#a9a486" opacity="0.13"/><circle cx="100.1" cy="277.0" r="0.59" fill="#a9a486" opacity="0.11"/><circle cx="126.1" cy="220.8" r="0.98" fill="#a9a486" opacity="0.23"/><circle cx="24.9" cy="270.2" r="0.96" fill="#a9a486" opacity="0.29"/><circle cx="74.3" cy="249.6" r="0.86" fill="#a9a486" opacity="0.25"/><circle cx="81.3" cy="256.1" r="0.64" fill="#a9a486" opacity="0.24"/><circle cx="89.2" cy="213.3" r="1.04" fill="#a9a486" opacity="0.34"/><circle cx="59.7" cy="258.7" r="0.89" fill="#a9a486" opacity="0.25"/><circle cx="63.7" cy="258.6" r="0.63" fill="#a9a486" opacity="0.39"/><circle cx="80.9" cy="256.8" r="1.06" fill="#a9a486" opacity="0.18"/><circle cx="103.1" cy="261.3" r="0.64" fill="#a9a486" opacity="0.30"/><circle cx="83.5" cy="281.1" r="0.77" fill="#a9a486" opacity="0.19"/><circle cx="71.4" cy="227.4" r="0.69" fill="#a9a486" opacity="0.42"/><circle cx="46.1" cy="265.9" r="0.68" fill="#a9a486" opacity="0.38"/><circle cx="93.6" cy="221.7" r="0.95" fill="#a9a486" opacity="0.34"/><circle cx="48.6" cy="243.0" r="0.87" fill="#a9a486" opacity="0.33"/><circle cx="102.7" cy="278.5" r="0.89" fill="#a9a486" opacity="0.38"/><circle cx="96.7" cy="269.9" r="0.63" fill="#a9a486" opacity="0.27"/><circle cx="78.4" cy="272.9" r="1.12" fill="#a9a486" opacity="0.31"/><circle cx="126.6" cy="247.4" r="0.83" fill="#a9a486" opacity="0.33"/><circle cx="82.4" cy="283.1" r="0.66" fill="#a9a486" opacity="0.26"/><circle cx="34.4" cy="236.3" r="0.92" fill="#a9a486" opacity="0.24"/><circle cx="29.5" cy="210.2" r="0.97" fill="#a9a486" opacity="0.42"/><circle cx="73.4" cy="216.4" r="0.63" fill="#a9a486" opacity="0.40"/><circle cx="33.8" cy="284.7" r="0.67" fill="#a9a486" opacity="0.15"/><circle cx="101.9" cy="234.8" r="0.77" fill="#a9a486" opacity="0.38"/><circle cx="110.0" cy="264.8" r="0.56" fill="#a9a486" opacity="0.19"/><circle cx="49.9" cy="247.3" r="0.86" fill="#a9a486" opacity="0.23"/><circle cx="76.5" cy="271.2" r="0.76" fill="#a9a486" opacity="0.23"/><circle cx="59.3" cy="254.4" r="0.57" fill="#a9a486" opacity="0.40"/><circle cx="50.3" cy="234.8" r="0.97" fill="#a9a486" opacity="0.12"/><circle cx="129.6" cy="241.5" r="1.02" fill="#a9a486" opacity="0.27"/><circle cx="32.3" cy="227.2" r="0.64" fill="#a9a486" opacity="0.41"/><circle cx="117.4" cy="259.6" r="1.05" fill="#a9a486" opacity="0.30"/><circle cx="51.1" cy="285.4" r="1.01" fill="#a9a486" opacity="0.20"/><circle cx="71.7" cy="208.8" r="1.15" fill="#a9a486" opacity="0.27"/><circle cx="75.9" cy="209.4" r="1.05" fill="#a9a486" opacity="0.14"/><circle cx="90.5" cy="257.6" r="0.91" fill="#a9a486" opacity="0.38"/><circle cx="127.3" cy="261.4" r="0.82" fill="#a9a486" opacity="0.19"/><circle cx="126.3" cy="247.6" r="0.77" fill="#a9a486" opacity="0.28"/><circle cx="57.6" cy="217.2" r="0.92" fill="#a9a486" opacity="0.18"/><circle cx="111.6" cy="264.1" r="0.75" fill="#a9a486" opacity="0.26"/><circle cx="124.1" cy="231.6" r="0.75" fill="#a9a486" opacity="0.27"/><circle cx="48.6" cy="226.5" r="1.08" fill="#a9a486" opacity="0.31"/><circle cx="91.6" cy="264.1" r="0.64" fill="#a9a486" opacity="0.24"/><circle cx="31.2" cy="284.9" r="0.76" fill="#a9a486" opacity="0.30"/><circle cx="86.6" cy="217.8" r="0.97" fill="#a9a486" opacity="0.40"/><circle cx="120.5" cy="214.4" r="0.67" fill="#a9a486" opacity="0.25"/><circle cx="85.3" cy="214.7" r="1.03" fill="#a9a486" opacity="0.37"/><circle cx="49.8" cy="269.6" r="0.63" fill="#a9a486" opacity="0.14"/><circle cx="126.9" cy="233.8" r="0.77" fill="#a9a486" opacity="0.39"/><circle cx="50.6" cy="275.6" r="0.98" fill="#a9a486" opacity="0.22"/><circle cx="99.4" cy="259.8" r="1.08" fill="#a9a486" opacity="0.36"/><circle cx="78.0" cy="277.3" r="1.04" fill="#a9a486" opacity="0.43"/><circle cx="40.5" cy="223.1" r="1.08" fill="#a9a486" opacity="0.33"/><circle cx="67.5" cy="238.1" r="1.01" fill="#a9a486" opacity="0.41"/><circle cx="86.9" cy="218.2" r="0.98" fill="#a9a486" opacity="0.19"/><circle cx="85.3" cy="258.8" r="1.13" fill="#a9a486" opacity="0.14"/><circle cx="44.7" cy="279.7" r="0.90" fill="#a9a486" opacity="0.21"/><circle cx="62.1" cy="243.7" r="1.13" fill="#a9a486" opacity="0.33"/><circle cx="101.2" cy="279.5" r="1.05" fill="#a9a486" opacity="0.21"/><circle cx="43.1" cy="277.6" r="0.88" fill="#a9a486" opacity="0.35"/><circle cx="91.1" cy="225.5" r="0.56" fill="#a9a486" opacity="0.13"/><circle cx="72.1" cy="277.2" r="0.72" fill="#a9a486" opacity="0.27"/><circle cx="35.1" cy="225.9" r="0.58" fill="#a9a486" opacity="0.15"/><circle cx="29.7" cy="212.7" r="1.04" fill="#a9a486" opacity="0.30"/><circle cx="100.9" cy="207.3" r="0.71" fill="#a9a486" opacity="0.32"/><circle cx="26.1" cy="232.3" r="0.57" fill="#a9a486" opacity="0.21"/><circle cx="116.7" cy="209.0" r="0.84" fill="#a9a486" opacity="0.31"/><circle cx="109.6" cy="220.6" r="1.07" fill="#a9a486" opacity="0.37"/><circle cx="33.8" cy="255.1" r="1.02" fill="#a9a486" opacity="0.43"/><circle cx="67.0" cy="280.9" r="1.07" fill="#a9a486" opacity="0.12"/><circle cx="58.2" cy="258.4" r="0.74" fill="#a9a486" opacity="0.24"/><circle cx="100.0" cy="272.6" r="0.64" fill="#a9a486" opacity="0.12"/><circle cx="46.9" cy="248.6" r="1.05" fill="#a9a486" opacity="0.23"/><circle cx="63.0" cy="234.0" r="0.96" fill="#a9a486" opacity="0.39"/><circle cx="40.8" cy="284.1" r="0.89" fill="#a9a486" opacity="0.19"/><circle cx="90.3" cy="270.9" r="0.84" fill="#a9a486" opacity="0.12"/><circle cx="93.3" cy="258.2" r="0.88" fill="#a9a486" opacity="0.34"/><circle cx="84.0" cy="235.3" r="0.87" fill="#a9a486" opacity="0.20"/><circle cx="51.4" cy="250.8" r="0.61" fill="#a9a486" opacity="0.37"/><circle cx="128.3" cy="218.8" r="0.93" fill="#a9a486" opacity="0.24"/><circle cx="128.6" cy="280.6" r="0.92" fill="#a9a486" opacity="0.15"/><circle cx="82.2" cy="223.0" r="1.02" fill="#a9a486" opacity="0.19"/><circle cx="88.9" cy="264.9" r="1.09" fill="#a9a486" opacity="0.39"/><circle cx="115.5" cy="268.2" r="0.87" fill="#a9a486" opacity="0.22"/><circle cx="99.9" cy="241.7" r="1.07" fill="#a9a486" opacity="0.18"/><circle cx="121.5" cy="277.8" r="0.78" fill="#a9a486" opacity="0.18"/><circle cx="108.5" cy="209.0" r="0.95" fill="#a9a486" opacity="0.12"/><circle cx="110.3" cy="278.8" r="0.95" fill="#a9a486" opacity="0.22"/><circle cx="48.7" cy="236.5" r="1.09" fill="#a9a486" opacity="0.23"/><circle cx="94.3" cy="274.6" r="0.57" fill="#a9a486" opacity="0.12"/><circle cx="99.9" cy="225.9" r="0.76" fill="#a9a486" opacity="0.22"/><circle cx="69.7" cy="228.8" r="1.08" fill="#a9a486" opacity="0.27"/><circle cx="128.8" cy="269.1" r="0.84" fill="#a9a486" opacity="0.41"/><circle cx="106.3" cy="282.0" r="0.63" fill="#a9a486" opacity="0.21"/><circle cx="33.9" cy="207.2" r="1.07" fill="#a9a486" opacity="0.19"/><circle cx="58.5" cy="254.9" r="1.12" fill="#a9a486" opacity="0.18"/><circle cx="30.0" cy="268.5" r="1.06" fill="#a9a486" opacity="0.35"/><circle cx="29.4" cy="267.8" r="0.81" fill="#a9a486" opacity="0.25"/><circle cx="39.4" cy="280.6" r="0.96" fill="#a9a486" opacity="0.37"/><circle cx="40.6" cy="278.7" r="0.63" fill="#a9a486" opacity="0.21"/><circle cx="77.9" cy="234.6" r="1.00" fill="#a9a486" opacity="0.26"/><circle cx="66.7" cy="239.5" r="0.94" fill="#a9a486" opacity="0.32"/><circle cx="66.7" cy="233.3" r="1.09" fill="#a9a486" opacity="0.30"/><circle cx="45.9" cy="256.3" r="0.56" fill="#a9a486" opacity="0.16"/><circle cx="87.8" cy="252.1" r="0.97" fill="#a9a486" opacity="0.35"/><circle cx="29.6" cy="277.3" r="0.59" fill="#a9a486" opacity="0.15"/><circle cx="126.2" cy="283.3" r="0.87" fill="#a9a486" opacity="0.11"/><circle cx="48.3" cy="249.4" r="0.93" fill="#a9a486" opacity="0.29"/><circle cx="130.1" cy="248.6" r="1.05" fill="#a9a486" opacity="0.42"/><circle cx="32.7" cy="283.3" r="1.06" fill="#a9a486" opacity="0.42"/><circle cx="48.3" cy="212.6" r="0.97" fill="#a9a486" opacity="0.12"/><circle cx="53.1" cy="282.9" r="0.67" fill="#a9a486" opacity="0.13"/><circle cx="108.4" cy="281.8" r="0.71" fill="#a9a486" opacity="0.22"/><circle cx="28.9" cy="242.6" r="0.72" fill="#a9a486" opacity="0.22"/><circle cx="68.1" cy="285.1" r="1.00" fill="#a9a486" opacity="0.20"/><circle cx="69.4" cy="249.4" r="0.78" fill="#a9a486" opacity="0.16"/><circle cx="105.4" cy="276.3" r="1.03" fill="#a9a486" opacity="0.40"/><circle cx="92.0" cy="225.7" r="0.85" fill="#a9a486" opacity="0.43"/><circle cx="98.2" cy="264.4" r="1.14" fill="#a9a486" opacity="0.38"/><circle cx="95.0" cy="213.7" r="0.92" fill="#a9a486" opacity="0.12"/><circle cx="100.7" cy="238.8" r="0.89" fill="#a9a486" opacity="0.33"/><circle cx="71.5" cy="259.5" r="0.82" fill="#a9a486" opacity="0.30"/><circle cx="74.8" cy="257.8" r="0.83" fill="#a9a486" opacity="0.22"/><circle cx="82.6" cy="236.8" r="1.04" fill="#a9a486" opacity="0.37"/><circle cx="116.9" cy="234.9" r="0.59" fill="#a9a486" opacity="0.42"/><circle cx="52.8" cy="258.8" r="1.05" fill="#a9a486" opacity="0.14"/><circle cx="109.3" cy="259.2" r="1.10" fill="#a9a486" opacity="0.36"/><circle cx="52.4" cy="273.1" r="1.06" fill="#a9a486" opacity="0.22"/><circle cx="87.2" cy="251.8" r="1.15" fill="#a9a486" opacity="0.13"/><circle cx="105.0" cy="235.6" r="0.67" fill="#a9a486" opacity="0.17"/><circle cx="63.4" cy="259.9" r="0.64" fill="#a9a486" opacity="0.32"/><circle cx="43.4" cy="281.5" r="1.06" fill="#a9a486" opacity="0.32"/><circle cx="121.3" cy="232.2" r="0.77" fill="#a9a486" opacity="0.39"/><circle cx="70.0" cy="239.2" r="0.97" fill="#a9a486" opacity="0.23"/><circle cx="63.3" cy="259.1" r="0.86" fill="#a9a486" opacity="0.21"/><circle cx="94.9" cy="228.5" r="0.72" fill="#a9a486" opacity="0.25"/><circle cx="36.4" cy="256.8" r="0.99" fill="#a9a486" opacity="0.17"/><circle cx="79.5" cy="207.4" r="0.63" fill="#a9a486" opacity="0.27"/><circle cx="94.7" cy="255.9" r="0.86" fill="#a9a486" opacity="0.37"/><circle cx="51.4" cy="250.7" r="0.55" fill="#a9a486" opacity="0.20"/><circle cx="87.3" cy="231.0" r="0.88" fill="#a9a486" opacity="0.41"/><circle cx="51.7" cy="227.8" r="0.81" fill="#a9a486" opacity="0.28"/><circle cx="76.9" cy="213.9" r="0.63" fill="#a9a486" opacity="0.42"/><circle cx="55.4" cy="268.4" r="1.10" fill="#a9a486" opacity="0.34"/><circle cx="64.4" cy="210.2" r="1.00" fill="#a9a486" opacity="0.42"/><circle cx="70.3" cy="254.7" r="0.70" fill="#a9a486" opacity="0.19"/><circle cx="114.8" cy="217.1" r="0.92" fill="#a9a486" opacity="0.42"/><circle cx="115.0" cy="252.6" r="0.59" fill="#a9a486" opacity="0.18"/><circle cx="115.9" cy="213.2" r="0.82" fill="#a9a486" opacity="0.24"/><circle cx="68.6" cy="280.5" r="0.94" fill="#a9a486" opacity="0.37"/><circle cx="36.0" cy="251.2" r="1.11" fill="#a9a486" opacity="0.34"/><circle cx="70.9" cy="285.2" r="0.66" fill="#a9a486" opacity="0.13"/><circle cx="66.8" cy="217.5" r="1.00" fill="#a9a486" opacity="0.12"/><circle cx="49.2" cy="222.7" r="0.87" fill="#a9a486" opacity="0.41"/><circle cx="55.8" cy="232.9" r="0.78" fill="#a9a486" opacity="0.26"/><circle cx="34.1" cy="273.6" r="0.89" fill="#a9a486" opacity="0.12"/><circle cx="77.3" cy="273.6" r="0.68" fill="#a9a486" opacity="0.26"/><circle cx="112.1" cy="222.6" r="0.75" fill="#a9a486" opacity="0.39"/><circle cx="83.0" cy="265.8" r="1.06" fill="#a9a486" opacity="0.16"/><circle cx="67.8" cy="210.8" r="0.93" fill="#a9a486" opacity="0.21"/><circle cx="44.7" cy="284.2" r="0.66" fill="#a9a486" opacity="0.28"/><circle cx="79.8" cy="213.7" r="0.78" fill="#a9a486" opacity="0.32"/><circle cx="56.3" cy="238.0" r="1.08" fill="#a9a486" opacity="0.33"/><circle cx="57.1" cy="226.5" r="0.78" fill="#a9a486" opacity="0.25"/><circle cx="81.9" cy="230.9" r="0.63" fill="#a9a486" opacity="0.18"/><circle cx="93.8" cy="280.3" r="0.94" fill="#a9a486" opacity="0.34"/><circle cx="39.5" cy="280.1" r="0.76" fill="#a9a486" opacity="0.26"/><circle cx="99.6" cy="259.1" r="0.99" fill="#a9a486" opacity="0.11"/><circle cx="31.7" cy="281.8" r="1.04" fill="#a9a486" opacity="0.12"/><circle cx="47.9" cy="241.5" r="0.67" fill="#a9a486" opacity="0.18"/><circle cx="127.9" cy="255.0" r="0.79" fill="#a9a486" opacity="0.34"/><circle cx="46.2" cy="222.9" r="0.66" fill="#a9a486" opacity="0.39"/><circle cx="76.7" cy="209.6" r="1.80" fill="#d2cda4"/><circle cx="115.5" cy="227.0" r="1.00" fill="#d2cda4"/><circle cx="60.2" cy="254.0" r="1.80" fill="#d2cda4"/><circle cx="109.4" cy="261.7" r="1.60" fill="#d2cda4"/><circle cx="77.8" cy="277.8" r="1.50" fill="#d2cda4"/><circle cx="73.0" cy="280.5" r="1.30" fill="#d2cda4"/></g>
<text x="77.8" y="200.6" font-size="7.85" fill="#161616" text-anchor="middle">AZA only</text>
<rect x="139.7" y="205.9" width="107.9" height="80.7" fill="#13110d"/>
<g filter="url(#sb)"><circle cx="153.9" cy="217.7" r="1.08" fill="#a9a486" opacity="0.40"/><circle cx="193.3" cy="208.0" r="0.98" fill="#a9a486" opacity="0.37"/><circle cx="158.1" cy="224.3" r="0.98" fill="#a9a486" opacity="0.37"/><circle cx="225.6" cy="249.0" r="0.65" fill="#a9a486" opacity="0.38"/><circle cx="216.5" cy="247.5" r="0.83" fill="#a9a486" opacity="0.19"/><circle cx="150.4" cy="210.9" r="0.68" fill="#a9a486" opacity="0.40"/><circle cx="215.5" cy="241.7" r="0.80" fill="#a9a486" opacity="0.41"/><circle cx="238.5" cy="217.4" r="0.65" fill="#a9a486" opacity="0.27"/><circle cx="221.0" cy="275.7" r="1.03" fill="#a9a486" opacity="0.36"/><circle cx="216.9" cy="231.3" r="0.70" fill="#a9a486" opacity="0.31"/><circle cx="163.4" cy="281.3" r="0.95" fill="#a9a486" opacity="0.20"/><circle cx="243.9" cy="232.7" r="0.64" fill="#a9a486" opacity="0.22"/><circle cx="210.0" cy="261.5" r="0.67" fill="#a9a486" opacity="0.17"/><circle cx="160.2" cy="233.1" r="0.79" fill="#a9a486" opacity="0.13"/><circle cx="178.0" cy="258.6" r="0.68" fill="#a9a486" opacity="0.34"/><circle cx="196.2" cy="212.6" r="0.84" fill="#a9a486" opacity="0.13"/><circle cx="223.5" cy="276.9" r="1.10" fill="#a9a486" opacity="0.19"/><circle cx="170.4" cy="230.7" r="0.90" fill="#a9a486" opacity="0.38"/><circle cx="162.0" cy="243.9" r="1.01" fill="#a9a486" opacity="0.38"/><circle cx="236.5" cy="252.5" r="0.73" fill="#a9a486" opacity="0.32"/><circle cx="151.4" cy="207.0" r="0.67" fill="#a9a486" opacity="0.17"/><circle cx="172.5" cy="220.4" r="0.76" fill="#a9a486" opacity="0.28"/><circle cx="175.6" cy="235.6" r="0.62" fill="#a9a486" opacity="0.40"/><circle cx="226.4" cy="263.9" r="0.82" fill="#a9a486" opacity="0.37"/><circle cx="152.7" cy="219.6" r="0.79" fill="#a9a486" opacity="0.13"/><circle cx="144.9" cy="252.5" r="0.80" fill="#a9a486" opacity="0.36"/><circle cx="184.7" cy="272.8" r="0.60" fill="#a9a486" opacity="0.37"/><circle cx="218.5" cy="235.2" r="0.95" fill="#a9a486" opacity="0.15"/><circle cx="141.2" cy="257.6" r="1.05" fill="#a9a486" opacity="0.22"/><circle cx="168.4" cy="215.3" r="0.69" fill="#a9a486" opacity="0.17"/><circle cx="169.3" cy="249.5" r="0.74" fill="#a9a486" opacity="0.20"/><circle cx="200.9" cy="210.2" r="0.70" fill="#a9a486" opacity="0.44"/><circle cx="170.7" cy="250.6" r="1.14" fill="#a9a486" opacity="0.43"/><circle cx="217.6" cy="249.0" r="0.69" fill="#a9a486" opacity="0.15"/><circle cx="151.9" cy="211.1" r="1.03" fill="#a9a486" opacity="0.36"/><circle cx="163.0" cy="265.4" r="0.60" fill="#a9a486" opacity="0.18"/><circle cx="229.8" cy="285.5" r="0.80" fill="#a9a486" opacity="0.33"/><circle cx="152.3" cy="251.7" r="0.62" fill="#a9a486" opacity="0.34"/><circle cx="163.7" cy="226.1" r="1.01" fill="#a9a486" opacity="0.29"/><circle cx="227.4" cy="271.5" r="0.59" fill="#a9a486" opacity="0.23"/><circle cx="151.1" cy="223.8" r="1.01" fill="#a9a486" opacity="0.18"/><circle cx="172.9" cy="213.5" r="1.01" fill="#a9a486" opacity="0.32"/><circle cx="160.1" cy="231.9" r="1.11" fill="#a9a486" opacity="0.39"/><circle cx="144.1" cy="269.0" r="0.64" fill="#a9a486" opacity="0.29"/><circle cx="158.4" cy="269.7" r="1.01" fill="#a9a486" opacity="0.19"/><circle cx="238.6" cy="260.9" r="0.98" fill="#a9a486" opacity="0.14"/><circle cx="141.0" cy="276.2" r="0.57" fill="#a9a486" opacity="0.30"/><circle cx="175.6" cy="212.3" r="0.91" fill="#a9a486" opacity="0.14"/><circle cx="232.5" cy="210.9" r="0.77" fill="#a9a486" opacity="0.26"/><circle cx="209.6" cy="283.3" r="0.90" fill="#a9a486" opacity="0.39"/><circle cx="192.9" cy="267.7" r="0.85" fill="#a9a486" opacity="0.21"/><circle cx="214.2" cy="230.7" r="0.58" fill="#a9a486" opacity="0.28"/><circle cx="224.2" cy="260.4" r="0.65" fill="#a9a486" opacity="0.25"/><circle cx="208.5" cy="280.7" r="0.86" fill="#a9a486" opacity="0.37"/><circle cx="203.6" cy="258.5" r="0.93" fill="#a9a486" opacity="0.14"/><circle cx="223.6" cy="270.0" r="1.00" fill="#a9a486" opacity="0.41"/><circle cx="166.1" cy="253.1" r="0.89" fill="#a9a486" opacity="0.42"/><circle cx="201.6" cy="280.3" r="1.08" fill="#a9a486" opacity="0.14"/><circle cx="211.0" cy="238.0" r="0.93" fill="#a9a486" opacity="0.38"/><circle cx="177.0" cy="236.7" r="1.12" fill="#a9a486" opacity="0.20"/><circle cx="211.9" cy="269.2" r="0.95" fill="#a9a486" opacity="0.43"/><circle cx="185.9" cy="230.9" r="0.73" fill="#a9a486" opacity="0.32"/><circle cx="241.4" cy="276.0" r="0.84" fill="#a9a486" opacity="0.26"/><circle cx="172.4" cy="218.4" r="0.88" fill="#a9a486" opacity="0.15"/><circle cx="182.4" cy="243.6" r="0.57" fill="#a9a486" opacity="0.23"/><circle cx="245.8" cy="221.6" r="1.08" fill="#a9a486" opacity="0.26"/><circle cx="197.7" cy="225.9" r="0.68" fill="#a9a486" opacity="0.33"/><circle cx="180.5" cy="277.5" r="0.78" fill="#a9a486" opacity="0.23"/><circle cx="156.7" cy="220.1" r="0.76" fill="#a9a486" opacity="0.40"/><circle cx="234.1" cy="282.5" r="0.74" fill="#a9a486" opacity="0.23"/><circle cx="233.5" cy="269.1" r="0.91" fill="#a9a486" opacity="0.41"/><circle cx="243.2" cy="237.7" r="0.56" fill="#a9a486" opacity="0.41"/><circle cx="151.7" cy="226.3" r="0.89" fill="#a9a486" opacity="0.34"/><circle cx="218.7" cy="260.1" r="1.14" fill="#a9a486" opacity="0.37"/><circle cx="220.5" cy="259.3" r="0.63" fill="#a9a486" opacity="0.38"/><circle cx="167.5" cy="239.6" r="0.86" fill="#a9a486" opacity="0.23"/><circle cx="168.9" cy="230.2" r="0.73" fill="#a9a486" opacity="0.36"/><circle cx="213.4" cy="280.7" r="1.04" fill="#a9a486" opacity="0.14"/><circle cx="210.0" cy="245.7" r="0.96" fill="#a9a486" opacity="0.13"/><circle cx="233.4" cy="276.8" r="0.62" fill="#a9a486" opacity="0.25"/><circle cx="173.7" cy="247.2" r="0.64" fill="#a9a486" opacity="0.33"/><circle cx="189.3" cy="281.5" r="0.84" fill="#a9a486" opacity="0.12"/><circle cx="239.9" cy="228.3" r="0.66" fill="#a9a486" opacity="0.43"/><circle cx="194.5" cy="285.4" r="0.65" fill="#a9a486" opacity="0.32"/><circle cx="244.7" cy="256.3" r="0.70" fill="#a9a486" opacity="0.38"/><circle cx="143.4" cy="250.0" r="0.79" fill="#a9a486" opacity="0.15"/><circle cx="241.3" cy="257.2" r="0.85" fill="#a9a486" opacity="0.45"/><circle cx="178.8" cy="278.0" r="0.74" fill="#a9a486" opacity="0.40"/><circle cx="193.2" cy="210.7" r="0.87" fill="#a9a486" opacity="0.42"/><circle cx="162.0" cy="270.4" r="0.59" fill="#a9a486" opacity="0.22"/><circle cx="195.8" cy="260.5" r="1.09" fill="#a9a486" opacity="0.32"/><circle cx="243.6" cy="268.1" r="0.77" fill="#a9a486" opacity="0.35"/><circle cx="169.5" cy="277.0" r="0.83" fill="#a9a486" opacity="0.33"/><circle cx="239.0" cy="238.6" r="0.96" fill="#a9a486" opacity="0.24"/><circle cx="174.5" cy="269.3" r="0.83" fill="#a9a486" opacity="0.16"/><circle cx="238.7" cy="255.9" r="0.85" fill="#a9a486" opacity="0.26"/><circle cx="157.6" cy="277.1" r="0.58" fill="#a9a486" opacity="0.21"/><circle cx="197.4" cy="258.9" r="1.06" fill="#a9a486" opacity="0.26"/><circle cx="148.8" cy="237.7" r="0.98" fill="#a9a486" opacity="0.25"/><circle cx="226.6" cy="273.9" r="0.62" fill="#a9a486" opacity="0.27"/><circle cx="141.9" cy="248.8" r="0.97" fill="#a9a486" opacity="0.22"/><circle cx="204.5" cy="235.2" r="1.14" fill="#a9a486" opacity="0.42"/><circle cx="233.4" cy="214.5" r="0.91" fill="#a9a486" opacity="0.40"/><circle cx="229.1" cy="262.9" r="1.11" fill="#a9a486" opacity="0.18"/><circle cx="159.4" cy="263.8" r="1.00" fill="#a9a486" opacity="0.16"/><circle cx="183.5" cy="273.1" r="1.02" fill="#a9a486" opacity="0.40"/><circle cx="183.1" cy="246.2" r="0.75" fill="#a9a486" opacity="0.41"/><circle cx="216.1" cy="218.2" r="0.99" fill="#a9a486" opacity="0.26"/><circle cx="238.9" cy="229.6" r="0.68" fill="#a9a486" opacity="0.35"/><circle cx="238.6" cy="212.2" r="0.55" fill="#a9a486" opacity="0.31"/><circle cx="165.6" cy="240.9" r="0.68" fill="#a9a486" opacity="0.37"/><circle cx="223.9" cy="260.4" r="1.06" fill="#a9a486" opacity="0.16"/><circle cx="164.2" cy="273.8" r="0.69" fill="#a9a486" opacity="0.16"/><circle cx="170.6" cy="209.5" r="1.13" fill="#a9a486" opacity="0.44"/><circle cx="181.0" cy="229.5" r="0.94" fill="#a9a486" opacity="0.42"/><circle cx="181.4" cy="277.4" r="0.98" fill="#a9a486" opacity="0.38"/><circle cx="204.8" cy="247.0" r="0.91" fill="#a9a486" opacity="0.43"/><circle cx="173.4" cy="235.2" r="0.89" fill="#a9a486" opacity="0.42"/><circle cx="149.0" cy="208.7" r="0.86" fill="#a9a486" opacity="0.16"/><circle cx="241.7" cy="224.1" r="0.82" fill="#a9a486" opacity="0.38"/><circle cx="188.0" cy="246.5" r="1.14" fill="#a9a486" opacity="0.32"/><circle cx="203.8" cy="209.4" r="0.87" fill="#a9a486" opacity="0.28"/><circle cx="191.9" cy="230.0" r="1.11" fill="#a9a486" opacity="0.45"/><circle cx="196.9" cy="225.0" r="0.88" fill="#a9a486" opacity="0.40"/><circle cx="170.5" cy="283.5" r="0.90" fill="#a9a486" opacity="0.36"/><circle cx="164.3" cy="220.5" r="1.04" fill="#a9a486" opacity="0.21"/><circle cx="180.3" cy="282.0" r="0.71" fill="#a9a486" opacity="0.15"/><circle cx="152.6" cy="237.6" r="1.12" fill="#a9a486" opacity="0.26"/><circle cx="211.3" cy="276.3" r="0.58" fill="#a9a486" opacity="0.25"/><circle cx="197.0" cy="258.7" r="0.70" fill="#a9a486" opacity="0.34"/><circle cx="201.7" cy="240.8" r="1.13" fill="#a9a486" opacity="0.42"/><circle cx="206.1" cy="221.9" r="0.92" fill="#a9a486" opacity="0.16"/><circle cx="158.2" cy="266.7" r="0.60" fill="#a9a486" opacity="0.42"/><circle cx="142.5" cy="268.1" r="1.02" fill="#a9a486" opacity="0.37"/><circle cx="222.6" cy="222.7" r="1.00" fill="#a9a486" opacity="0.40"/><circle cx="172.1" cy="268.8" r="0.56" fill="#a9a486" opacity="0.37"/><circle cx="205.6" cy="208.1" r="0.76" fill="#a9a486" opacity="0.26"/><circle cx="229.2" cy="257.4" r="1.00" fill="#a9a486" opacity="0.30"/><circle cx="199.8" cy="256.3" r="0.89" fill="#a9a486" opacity="0.23"/><circle cx="178.2" cy="215.2" r="0.99" fill="#a9a486" opacity="0.35"/><circle cx="185.3" cy="209.2" r="0.98" fill="#a9a486" opacity="0.38"/><circle cx="177.0" cy="274.4" r="0.77" fill="#a9a486" opacity="0.42"/><circle cx="192.2" cy="213.4" r="0.75" fill="#a9a486" opacity="0.23"/><circle cx="235.7" cy="283.7" r="1.06" fill="#a9a486" opacity="0.30"/><circle cx="167.3" cy="237.5" r="0.76" fill="#a9a486" opacity="0.34"/><circle cx="240.0" cy="222.1" r="0.72" fill="#a9a486" opacity="0.40"/><circle cx="195.7" cy="267.8" r="0.99" fill="#a9a486" opacity="0.17"/><circle cx="235.6" cy="241.3" r="0.63" fill="#a9a486" opacity="0.16"/><circle cx="217.8" cy="248.7" r="0.57" fill="#a9a486" opacity="0.40"/><circle cx="243.8" cy="213.7" r="1.02" fill="#a9a486" opacity="0.19"/><circle cx="201.4" cy="278.8" r="1.07" fill="#a9a486" opacity="0.23"/><circle cx="200.0" cy="243.2" r="1.01" fill="#a9a486" opacity="0.43"/><circle cx="141.5" cy="223.0" r="0.76" fill="#a9a486" opacity="0.42"/><circle cx="151.1" cy="276.0" r="1.12" fill="#a9a486" opacity="0.27"/><circle cx="201.3" cy="279.3" r="0.96" fill="#a9a486" opacity="0.43"/><circle cx="221.4" cy="251.8" r="0.98" fill="#a9a486" opacity="0.41"/><circle cx="158.6" cy="258.2" r="1.07" fill="#a9a486" opacity="0.46"/><circle cx="216.6" cy="243.9" r="1.08" fill="#a9a486" opacity="0.33"/><circle cx="153.2" cy="246.1" r="0.78" fill="#a9a486" opacity="0.36"/><circle cx="225.4" cy="276.9" r="0.55" fill="#a9a486" opacity="0.31"/><circle cx="219.6" cy="224.5" r="0.99" fill="#a9a486" opacity="0.34"/><circle cx="166.4" cy="278.4" r="0.67" fill="#a9a486" opacity="0.12"/><circle cx="190.1" cy="238.5" r="1.11" fill="#a9a486" opacity="0.45"/><circle cx="222.8" cy="210.4" r="0.88" fill="#a9a486" opacity="0.32"/><circle cx="184.5" cy="210.2" r="0.83" fill="#a9a486" opacity="0.28"/><circle cx="242.0" cy="266.7" r="1.08" fill="#a9a486" opacity="0.15"/><circle cx="155.9" cy="248.5" r="0.92" fill="#a9a486" opacity="0.23"/><circle cx="194.7" cy="282.2" r="0.78" fill="#a9a486" opacity="0.42"/><circle cx="148.3" cy="209.2" r="0.94" fill="#a9a486" opacity="0.15"/><circle cx="200.2" cy="255.1" r="1.03" fill="#a9a486" opacity="0.30"/><circle cx="215.5" cy="259.0" r="0.92" fill="#a9a486" opacity="0.27"/><circle cx="211.7" cy="251.0" r="0.68" fill="#a9a486" opacity="0.18"/><circle cx="194.4" cy="272.8" r="0.68" fill="#a9a486" opacity="0.36"/><circle cx="218.6" cy="259.8" r="1.14" fill="#a9a486" opacity="0.33"/><circle cx="149.8" cy="247.8" r="0.96" fill="#a9a486" opacity="0.15"/><circle cx="166.0" cy="276.3" r="1.14" fill="#a9a486" opacity="0.15"/><circle cx="169.7" cy="231.2" r="0.73" fill="#a9a486" opacity="0.29"/><circle cx="201.7" cy="233.3" r="0.67" fill="#a9a486" opacity="0.15"/><circle cx="145.3" cy="260.6" r="1.01" fill="#a9a486" opacity="0.19"/><circle cx="181.5" cy="284.3" r="1.10" fill="#a9a486" opacity="0.31"/><circle cx="163.0" cy="266.6" r="1.00" fill="#a9a486" opacity="0.15"/><circle cx="143.0" cy="211.5" r="0.99" fill="#a9a486" opacity="0.35"/><circle cx="155.0" cy="278.6" r="1.03" fill="#a9a486" opacity="0.14"/><circle cx="206.2" cy="230.0" r="0.70" fill="#a9a486" opacity="0.16"/><circle cx="224.1" cy="273.5" r="0.57" fill="#a9a486" opacity="0.25"/><circle cx="157.9" cy="219.7" r="1.12" fill="#a9a486" opacity="0.34"/><circle cx="190.8" cy="255.9" r="1.00" fill="#a9a486" opacity="0.37"/><circle cx="175.2" cy="270.1" r="0.56" fill="#a9a486" opacity="0.30"/><circle cx="176.8" cy="249.7" r="0.76" fill="#a9a486" opacity="0.40"/><circle cx="140.9" cy="267.6" r="0.69" fill="#a9a486" opacity="0.24"/><circle cx="149.1" cy="219.6" r="0.57" fill="#a9a486" opacity="0.41"/><circle cx="185.7" cy="233.4" r="0.59" fill="#a9a486" opacity="0.16"/><circle cx="189.2" cy="223.5" r="0.58" fill="#a9a486" opacity="0.34"/><circle cx="166.6" cy="279.1" r="1.11" fill="#a9a486" opacity="0.30"/><circle cx="222.9" cy="256.6" r="0.94" fill="#a9a486" opacity="0.19"/><circle cx="220.7" cy="276.6" r="0.98" fill="#a9a486" opacity="0.27"/><circle cx="153.2" cy="281.5" r="0.92" fill="#a9a486" opacity="0.33"/><circle cx="158.3" cy="281.5" r="0.72" fill="#a9a486" opacity="0.25"/><circle cx="176.9" cy="282.5" r="0.61" fill="#a9a486" opacity="0.41"/><circle cx="208.6" cy="255.6" r="0.94" fill="#a9a486" opacity="0.37"/><circle cx="155.7" cy="212.4" r="0.59" fill="#a9a486" opacity="0.25"/><circle cx="149.0" cy="264.3" r="0.87" fill="#a9a486" opacity="0.14"/><circle cx="148.6" cy="250.8" r="0.98" fill="#a9a486" opacity="0.34"/><circle cx="194.7" cy="276.0" r="1.10" fill="#a9a486" opacity="0.27"/><circle cx="236.0" cy="227.0" r="0.79" fill="#a9a486" opacity="0.36"/><circle cx="159.0" cy="284.8" r="1.08" fill="#a9a486" opacity="0.41"/><circle cx="189.5" cy="232.3" r="0.67" fill="#a9a486" opacity="0.25"/><circle cx="223.8" cy="215.3" r="0.68" fill="#a9a486" opacity="0.24"/><circle cx="176.2" cy="256.1" r="1.06" fill="#a9a486" opacity="0.14"/><circle cx="150.2" cy="268.5" r="0.95" fill="#a9a486" opacity="0.23"/><circle cx="168.6" cy="210.5" r="0.84" fill="#a9a486" opacity="0.40"/><circle cx="146.8" cy="226.9" r="0.60" fill="#a9a486" opacity="0.32"/><circle cx="147.3" cy="230.2" r="0.71" fill="#a9a486" opacity="0.44"/><circle cx="239.8" cy="234.9" r="0.88" fill="#a9a486" opacity="0.18"/><circle cx="179.8" cy="264.9" r="0.77" fill="#a9a486" opacity="0.18"/><circle cx="210.9" cy="275.6" r="1.10" fill="#a9a486" opacity="0.18"/><circle cx="221.3" cy="280.3" r="0.57" fill="#a9a486" opacity="0.34"/><circle cx="234.6" cy="266.9" r="1.06" fill="#a9a486" opacity="0.20"/><circle cx="235.3" cy="227.6" r="0.55" fill="#a9a486" opacity="0.15"/><circle cx="180.7" cy="236.0" r="0.72" fill="#a9a486" opacity="0.28"/><circle cx="192.3" cy="215.5" r="0.88" fill="#a9a486" opacity="0.29"/><circle cx="183.6" cy="245.1" r="1.10" fill="#a9a486" opacity="0.43"/><circle cx="185.8" cy="211.7" r="0.66" fill="#a9a486" opacity="0.21"/><circle cx="187.7" cy="225.7" r="0.75" fill="#a9a486" opacity="0.14"/><circle cx="194.6" cy="245.0" r="0.68" fill="#a9a486" opacity="0.33"/><circle cx="246.6" cy="280.0" r="0.78" fill="#a9a486" opacity="0.14"/><circle cx="186.4" cy="211.3" r="0.86" fill="#a9a486" opacity="0.29"/><circle cx="174.2" cy="214.9" r="0.84" fill="#a9a486" opacity="0.28"/><circle cx="240.9" cy="268.7" r="0.63" fill="#a9a486" opacity="0.39"/><circle cx="207.5" cy="214.6" r="0.72" fill="#a9a486" opacity="0.39"/><circle cx="147.9" cy="262.3" r="0.83" fill="#a9a486" opacity="0.21"/><circle cx="194.7" cy="256.3" r="1.04" fill="#a9a486" opacity="0.43"/><circle cx="208.9" cy="261.0" r="0.57" fill="#a9a486" opacity="0.34"/><circle cx="222.5" cy="259.2" r="0.63" fill="#a9a486" opacity="0.24"/><circle cx="181.7" cy="276.7" r="0.74" fill="#a9a486" opacity="0.13"/><circle cx="231.5" cy="258.6" r="0.94" fill="#a9a486" opacity="0.36"/><circle cx="142.4" cy="243.0" r="0.98" fill="#a9a486" opacity="0.27"/><circle cx="230.7" cy="229.3" r="1.14" fill="#a9a486" opacity="0.40"/><circle cx="172.9" cy="231.6" r="0.67" fill="#a9a486" opacity="0.14"/><circle cx="143.4" cy="219.9" r="0.77" fill="#a9a486" opacity="0.28"/><circle cx="147.7" cy="236.3" r="1.06" fill="#a9a486" opacity="0.37"/><circle cx="211.9" cy="223.6" r="1.09" fill="#a9a486" opacity="0.18"/><circle cx="190.5" cy="231.3" r="1.02" fill="#a9a486" opacity="0.21"/><circle cx="243.9" cy="266.4" r="0.57" fill="#a9a486" opacity="0.18"/><circle cx="184.4" cy="262.7" r="0.89" fill="#a9a486" opacity="0.38"/><circle cx="166.0" cy="272.8" r="0.64" fill="#a9a486" opacity="0.39"/><circle cx="204.9" cy="244.3" r="0.88" fill="#a9a486" opacity="0.25"/><circle cx="168.3" cy="251.1" r="0.71" fill="#a9a486" opacity="0.26"/><circle cx="237.1" cy="285.5" r="0.63" fill="#a9a486" opacity="0.23"/><circle cx="220.5" cy="220.1" r="0.80" fill="#a9a486" opacity="0.15"/><circle cx="227.5" cy="269.1" r="0.70" fill="#a9a486" opacity="0.31"/><circle cx="164.3" cy="218.8" r="1.00" fill="#a9a486" opacity="0.45"/><circle cx="216.1" cy="214.4" r="0.81" fill="#a9a486" opacity="0.40"/><circle cx="243.2" cy="278.0" r="0.59" fill="#a9a486" opacity="0.38"/><circle cx="159.3" cy="217.8" r="0.59" fill="#a9a486" opacity="0.25"/><circle cx="172.5" cy="259.1" r="0.97" fill="#a9a486" opacity="0.32"/><circle cx="188.0" cy="246.2" r="0.87" fill="#a9a486" opacity="0.35"/><circle cx="179.8" cy="248.0" r="0.88" fill="#a9a486" opacity="0.27"/><circle cx="203.4" cy="226.8" r="0.78" fill="#a9a486" opacity="0.41"/><circle cx="242.0" cy="257.5" r="0.80" fill="#a9a486" opacity="0.44"/><circle cx="168.0" cy="271.6" r="0.97" fill="#a9a486" opacity="0.14"/><circle cx="213.0" cy="223.6" r="0.75" fill="#a9a486" opacity="0.43"/><circle cx="187.8" cy="233.7" r="1.01" fill="#a9a486" opacity="0.44"/><circle cx="234.9" cy="243.5" r="0.74" fill="#a9a486" opacity="0.45"/><circle cx="244.3" cy="213.9" r="1.13" fill="#a9a486" opacity="0.30"/><circle cx="183.2" cy="217.4" r="1.00" fill="#a9a486" opacity="0.25"/><circle cx="215.7" cy="236.8" r="0.85" fill="#a9a486" opacity="0.24"/><circle cx="246.4" cy="257.3" r="1.08" fill="#a9a486" opacity="0.16"/><circle cx="194.7" cy="276.5" r="0.92" fill="#a9a486" opacity="0.34"/><circle cx="190.4" cy="242.6" r="0.75" fill="#a9a486" opacity="0.30"/><circle cx="185.6" cy="216.3" r="2.00" fill="#d2cda4"/><circle cx="216.4" cy="225.9" r="1.30" fill="#d2cda4"/><circle cx="191.0" cy="252.6" r="1.00" fill="#d2cda4"/><circle cx="232.9" cy="253.7" r="1.00" fill="#d2cda4"/><circle cx="231.6" cy="263.3" r="1.80" fill="#d2cda4"/><circle cx="170.1" cy="279.7" r="1.50" fill="#d2cda4"/></g>
<text x="193.8" y="200.6" font-size="7.85" fill="#161616" text-anchor="middle">Anti-ITGα5 only</text>
<rect x="23.5" y="310.5" width="108.3" height="80.9" fill="#13110d"/>
<g filter="url(#sb)"><circle cx="61.2" cy="371.3" r="0.74" fill="#a9a486" opacity="0.23"/><circle cx="98.2" cy="364.9" r="1.02" fill="#a9a486" opacity="0.15"/><circle cx="37.0" cy="361.2" r="0.73" fill="#a9a486" opacity="0.18"/><circle cx="46.2" cy="331.1" r="0.91" fill="#a9a486" opacity="0.22"/><circle cx="63.7" cy="378.6" r="0.94" fill="#a9a486" opacity="0.10"/><circle cx="31.4" cy="347.4" r="0.95" fill="#a9a486" opacity="0.22"/><circle cx="29.4" cy="382.3" r="0.91" fill="#a9a486" opacity="0.15"/><circle cx="84.1" cy="313.8" r="1.03" fill="#a9a486" opacity="0.24"/><circle cx="33.6" cy="331.1" r="0.65" fill="#a9a486" opacity="0.10"/><circle cx="120.2" cy="373.5" r="0.69" fill="#a9a486" opacity="0.07"/><circle cx="33.3" cy="318.5" r="0.67" fill="#a9a486" opacity="0.16"/><circle cx="32.3" cy="339.0" r="0.73" fill="#a9a486" opacity="0.22"/><circle cx="117.5" cy="337.8" r="1.11" fill="#a9a486" opacity="0.12"/><circle cx="52.7" cy="316.5" r="0.58" fill="#a9a486" opacity="0.26"/><circle cx="38.5" cy="380.0" r="0.75" fill="#a9a486" opacity="0.17"/><circle cx="39.5" cy="359.2" r="1.14" fill="#a9a486" opacity="0.23"/><circle cx="104.4" cy="377.7" r="0.80" fill="#a9a486" opacity="0.13"/><circle cx="26.3" cy="336.1" r="0.59" fill="#a9a486" opacity="0.16"/><circle cx="31.5" cy="323.5" r="1.03" fill="#a9a486" opacity="0.16"/><circle cx="74.3" cy="375.8" r="0.92" fill="#a9a486" opacity="0.23"/><circle cx="74.7" cy="345.9" r="0.56" fill="#a9a486" opacity="0.26"/><circle cx="47.4" cy="377.8" r="0.82" fill="#a9a486" opacity="0.22"/><circle cx="77.8" cy="352.7" r="0.75" fill="#a9a486" opacity="0.08"/><circle cx="48.8" cy="313.4" r="0.86" fill="#a9a486" opacity="0.11"/><circle cx="100.8" cy="347.3" r="0.67" fill="#a9a486" opacity="0.11"/><circle cx="129.3" cy="390.0" r="1.09" fill="#a9a486" opacity="0.10"/><circle cx="31.1" cy="348.0" r="0.75" fill="#a9a486" opacity="0.21"/><circle cx="96.9" cy="366.9" r="1.03" fill="#a9a486" opacity="0.15"/><circle cx="80.1" cy="335.7" r="1.01" fill="#a9a486" opacity="0.13"/><circle cx="55.7" cy="337.1" r="0.69" fill="#a9a486" opacity="0.11"/><circle cx="91.4" cy="330.8" r="0.57" fill="#a9a486" opacity="0.13"/><circle cx="107.9" cy="368.2" r="1.07" fill="#a9a486" opacity="0.21"/><circle cx="75.1" cy="336.0" r="0.59" fill="#a9a486" opacity="0.20"/><circle cx="90.8" cy="346.0" r="0.59" fill="#a9a486" opacity="0.23"/><circle cx="79.1" cy="347.0" r="1.06" fill="#a9a486" opacity="0.26"/><circle cx="69.0" cy="367.1" r="0.87" fill="#a9a486" opacity="0.23"/><circle cx="101.5" cy="336.3" r="0.58" fill="#a9a486" opacity="0.22"/><circle cx="33.8" cy="384.3" r="0.63" fill="#a9a486" opacity="0.24"/><circle cx="124.8" cy="355.5" r="0.59" fill="#a9a486" opacity="0.21"/><circle cx="28.2" cy="363.4" r="1.06" fill="#a9a486" opacity="0.20"/><circle cx="60.7" cy="352.5" r="0.64" fill="#a9a486" opacity="0.21"/><circle cx="100.6" cy="369.6" r="0.57" fill="#a9a486" opacity="0.25"/><circle cx="95.8" cy="353.3" r="0.97" fill="#a9a486" opacity="0.13"/><circle cx="111.5" cy="359.1" r="0.79" fill="#a9a486" opacity="0.12"/><circle cx="65.6" cy="375.2" r="0.97" fill="#a9a486" opacity="0.14"/><circle cx="119.2" cy="347.6" r="0.88" fill="#a9a486" opacity="0.09"/><circle cx="124.7" cy="385.6" r="0.98" fill="#a9a486" opacity="0.15"/><circle cx="48.6" cy="326.1" r="1.04" fill="#a9a486" opacity="0.22"/><circle cx="66.3" cy="327.4" r="1.02" fill="#a9a486" opacity="0.22"/><circle cx="121.8" cy="350.2" r="1.07" fill="#a9a486" opacity="0.17"/><circle cx="109.8" cy="313.7" r="0.86" fill="#a9a486" opacity="0.23"/><circle cx="98.4" cy="388.5" r="0.92" fill="#a9a486" opacity="0.13"/><circle cx="102.0" cy="378.5" r="0.96" fill="#a9a486" opacity="0.20"/><circle cx="30.5" cy="311.5" r="0.69" fill="#a9a486" opacity="0.14"/><circle cx="108.2" cy="331.6" r="0.57" fill="#a9a486" opacity="0.08"/><circle cx="130.5" cy="329.5" r="0.74" fill="#a9a486" opacity="0.25"/><circle cx="125.4" cy="335.3" r="0.92" fill="#a9a486" opacity="0.15"/><circle cx="54.7" cy="385.9" r="0.56" fill="#a9a486" opacity="0.21"/><circle cx="104.9" cy="372.2" r="0.89" fill="#a9a486" opacity="0.25"/><circle cx="111.3" cy="362.3" r="0.58" fill="#a9a486" opacity="0.25"/><circle cx="42.7" cy="323.4" r="0.73" fill="#a9a486" opacity="0.17"/><circle cx="59.1" cy="346.0" r="0.73" fill="#a9a486" opacity="0.12"/><circle cx="100.3" cy="364.4" r="0.58" fill="#a9a486" opacity="0.25"/><circle cx="42.9" cy="336.7" r="1.01" fill="#a9a486" opacity="0.24"/><circle cx="126.0" cy="380.4" r="0.88" fill="#a9a486" opacity="0.25"/><circle cx="108.9" cy="378.0" r="1.14" fill="#a9a486" opacity="0.26"/><circle cx="74.5" cy="347.9" r="1.00" fill="#a9a486" opacity="0.24"/><circle cx="102.0" cy="340.0" r="0.59" fill="#a9a486" opacity="0.09"/><circle cx="118.7" cy="382.7" r="0.57" fill="#a9a486" opacity="0.14"/><circle cx="89.9" cy="350.8" r="0.58" fill="#a9a486" opacity="0.24"/><circle cx="55.3" cy="332.1" r="2.70" fill="#d2cda4"/><circle cx="90.4" cy="344.7" r="2.00" fill="#d2cda4"/><circle cx="114.2" cy="385.6" r="2.30" fill="#d2cda4"/></g>
<text x="77.5" y="303.6" font-size="7.85" fill="#161616" text-anchor="middle">AZA + Anti-ITGα5 only</text>
<rect x="139.7" y="310.5" width="107.9" height="80.6" fill="#13110d"/>
<g filter="url(#sb)"><circle cx="208.5" cy="336.0" r="0.84" fill="#a9a486" opacity="0.29"/><circle cx="208.3" cy="381.2" r="0.90" fill="#a9a486" opacity="0.27"/><circle cx="177.2" cy="377.4" r="0.99" fill="#a9a486" opacity="0.28"/><circle cx="237.5" cy="358.7" r="1.15" fill="#a9a486" opacity="0.50"/><circle cx="147.9" cy="346.6" r="0.56" fill="#a9a486" opacity="0.52"/><circle cx="164.7" cy="327.9" r="0.88" fill="#a9a486" opacity="0.51"/><circle cx="210.5" cy="379.3" r="0.94" fill="#a9a486" opacity="0.37"/><circle cx="189.6" cy="356.2" r="0.56" fill="#a9a486" opacity="0.19"/><circle cx="246.5" cy="325.9" r="0.72" fill="#a9a486" opacity="0.35"/><circle cx="219.6" cy="319.5" r="1.03" fill="#a9a486" opacity="0.38"/><circle cx="146.8" cy="340.3" r="1.12" fill="#a9a486" opacity="0.44"/><circle cx="157.4" cy="361.6" r="0.60" fill="#a9a486" opacity="0.31"/><circle cx="175.4" cy="389.4" r="0.86" fill="#a9a486" opacity="0.53"/><circle cx="192.7" cy="370.6" r="0.56" fill="#a9a486" opacity="0.49"/><circle cx="204.8" cy="341.2" r="1.05" fill="#a9a486" opacity="0.50"/><circle cx="158.1" cy="312.9" r="0.94" fill="#a9a486" opacity="0.49"/><circle cx="152.6" cy="356.2" r="0.58" fill="#a9a486" opacity="0.16"/><circle cx="194.2" cy="382.3" r="1.06" fill="#a9a486" opacity="0.43"/><circle cx="216.2" cy="328.4" r="0.83" fill="#a9a486" opacity="0.20"/><circle cx="163.3" cy="323.5" r="0.81" fill="#a9a486" opacity="0.15"/><circle cx="155.1" cy="365.5" r="0.91" fill="#a9a486" opacity="0.23"/><circle cx="163.6" cy="360.9" r="0.58" fill="#a9a486" opacity="0.45"/><circle cx="225.7" cy="382.5" r="0.65" fill="#a9a486" opacity="0.45"/><circle cx="197.7" cy="329.7" r="1.04" fill="#a9a486" opacity="0.23"/><circle cx="159.2" cy="380.1" r="1.14" fill="#a9a486" opacity="0.43"/><circle cx="152.3" cy="347.8" r="0.91" fill="#a9a486" opacity="0.23"/><circle cx="229.2" cy="344.9" r="0.86" fill="#a9a486" opacity="0.34"/><circle cx="140.9" cy="379.8" r="1.07" fill="#a9a486" opacity="0.50"/><circle cx="199.9" cy="344.1" r="0.74" fill="#a9a486" opacity="0.21"/><circle cx="163.6" cy="354.2" r="0.79" fill="#a9a486" opacity="0.43"/><circle cx="246.2" cy="329.4" r="1.07" fill="#a9a486" opacity="0.28"/><circle cx="186.9" cy="335.9" r="0.93" fill="#a9a486" opacity="0.32"/><circle cx="155.8" cy="357.9" r="0.62" fill="#a9a486" opacity="0.26"/><circle cx="184.9" cy="377.5" r="1.01" fill="#a9a486" opacity="0.38"/><circle cx="190.8" cy="333.3" r="0.86" fill="#a9a486" opacity="0.33"/><circle cx="194.6" cy="350.8" r="0.69" fill="#a9a486" opacity="0.28"/><circle cx="181.3" cy="317.0" r="0.61" fill="#a9a486" opacity="0.43"/><circle cx="176.2" cy="366.9" r="1.05" fill="#a9a486" opacity="0.40"/><circle cx="190.0" cy="377.1" r="0.88" fill="#a9a486" opacity="0.16"/><circle cx="223.8" cy="349.0" r="0.86" fill="#a9a486" opacity="0.42"/><circle cx="212.5" cy="386.3" r="0.92" fill="#a9a486" opacity="0.20"/><circle cx="209.8" cy="370.2" r="0.55" fill="#a9a486" opacity="0.41"/><circle cx="207.1" cy="364.8" r="0.79" fill="#a9a486" opacity="0.27"/><circle cx="201.2" cy="328.8" r="1.03" fill="#a9a486" opacity="0.20"/><circle cx="199.1" cy="362.7" r="0.72" fill="#a9a486" opacity="0.19"/><circle cx="236.5" cy="388.2" r="0.92" fill="#a9a486" opacity="0.46"/><circle cx="187.4" cy="333.1" r="0.86" fill="#a9a486" opacity="0.15"/><circle cx="198.8" cy="373.7" r="0.75" fill="#a9a486" opacity="0.52"/><circle cx="153.0" cy="331.5" r="0.92" fill="#a9a486" opacity="0.37"/><circle cx="231.5" cy="312.8" r="1.03" fill="#a9a486" opacity="0.17"/><circle cx="226.5" cy="360.9" r="0.56" fill="#a9a486" opacity="0.50"/><circle cx="171.2" cy="350.4" r="1.11" fill="#a9a486" opacity="0.29"/><circle cx="148.7" cy="328.0" r="0.99" fill="#a9a486" opacity="0.20"/><circle cx="173.6" cy="328.7" r="0.81" fill="#a9a486" opacity="0.19"/><circle cx="243.6" cy="382.8" r="0.61" fill="#a9a486" opacity="0.20"/><circle cx="199.0" cy="388.0" r="1.01" fill="#a9a486" opacity="0.20"/><circle cx="229.4" cy="314.6" r="0.85" fill="#a9a486" opacity="0.43"/><circle cx="185.4" cy="361.0" r="0.98" fill="#a9a486" opacity="0.21"/><circle cx="154.1" cy="335.2" r="0.60" fill="#a9a486" opacity="0.20"/><circle cx="144.8" cy="337.3" r="0.97" fill="#a9a486" opacity="0.21"/><circle cx="189.8" cy="319.9" r="0.67" fill="#a9a486" opacity="0.28"/><circle cx="240.4" cy="327.1" r="0.62" fill="#a9a486" opacity="0.48"/><circle cx="175.1" cy="343.6" r="0.82" fill="#a9a486" opacity="0.33"/><circle cx="143.3" cy="364.4" r="1.09" fill="#a9a486" opacity="0.21"/><circle cx="235.2" cy="373.9" r="0.93" fill="#a9a486" opacity="0.40"/><circle cx="187.9" cy="360.4" r="1.09" fill="#a9a486" opacity="0.45"/><circle cx="198.7" cy="381.0" r="0.56" fill="#a9a486" opacity="0.32"/><circle cx="143.1" cy="361.3" r="0.95" fill="#a9a486" opacity="0.34"/><circle cx="156.3" cy="315.3" r="1.02" fill="#a9a486" opacity="0.35"/><circle cx="193.3" cy="365.6" r="0.64" fill="#a9a486" opacity="0.40"/><circle cx="193.7" cy="384.0" r="0.97" fill="#a9a486" opacity="0.52"/><circle cx="230.1" cy="339.9" r="0.97" fill="#a9a486" opacity="0.22"/><circle cx="181.0" cy="363.6" r="0.75" fill="#a9a486" opacity="0.33"/><circle cx="202.1" cy="388.5" r="0.65" fill="#a9a486" opacity="0.50"/><circle cx="160.9" cy="389.6" r="0.68" fill="#a9a486" opacity="0.41"/><circle cx="205.8" cy="311.8" r="0.90" fill="#a9a486" opacity="0.27"/><circle cx="208.7" cy="355.5" r="1.03" fill="#a9a486" opacity="0.27"/><circle cx="201.4" cy="354.4" r="1.12" fill="#a9a486" opacity="0.48"/><circle cx="245.4" cy="350.2" r="1.05" fill="#a9a486" opacity="0.16"/><circle cx="186.0" cy="318.0" r="0.80" fill="#a9a486" opacity="0.26"/><circle cx="194.5" cy="366.9" r="0.55" fill="#a9a486" opacity="0.38"/><circle cx="154.8" cy="341.1" r="1.08" fill="#a9a486" opacity="0.38"/><circle cx="186.8" cy="380.9" r="1.04" fill="#a9a486" opacity="0.17"/><circle cx="188.2" cy="340.5" r="0.57" fill="#a9a486" opacity="0.47"/><circle cx="172.4" cy="316.6" r="0.70" fill="#a9a486" opacity="0.45"/><circle cx="162.5" cy="351.4" r="0.85" fill="#a9a486" opacity="0.35"/><circle cx="222.1" cy="365.9" r="0.94" fill="#a9a486" opacity="0.25"/><circle cx="208.8" cy="336.5" r="0.96" fill="#a9a486" opacity="0.42"/><circle cx="242.2" cy="315.1" r="1.05" fill="#a9a486" opacity="0.46"/><circle cx="172.0" cy="358.8" r="1.07" fill="#a9a486" opacity="0.43"/><circle cx="240.0" cy="339.1" r="1.06" fill="#a9a486" opacity="0.48"/><circle cx="168.2" cy="351.3" r="0.82" fill="#a9a486" opacity="0.15"/><circle cx="149.4" cy="373.7" r="1.08" fill="#a9a486" opacity="0.23"/><circle cx="204.3" cy="380.4" r="0.60" fill="#a9a486" opacity="0.26"/><circle cx="229.6" cy="359.3" r="1.12" fill="#a9a486" opacity="0.40"/><circle cx="221.0" cy="362.2" r="1.05" fill="#a9a486" opacity="0.24"/><circle cx="158.1" cy="382.7" r="0.68" fill="#a9a486" opacity="0.48"/><circle cx="164.4" cy="331.9" r="0.59" fill="#a9a486" opacity="0.20"/><circle cx="246.2" cy="335.2" r="1.15" fill="#a9a486" opacity="0.17"/><circle cx="181.3" cy="360.6" r="1.13" fill="#a9a486" opacity="0.22"/><circle cx="184.8" cy="348.4" r="0.74" fill="#a9a486" opacity="0.16"/><circle cx="181.3" cy="362.8" r="0.84" fill="#a9a486" opacity="0.35"/><circle cx="161.4" cy="331.8" r="0.86" fill="#a9a486" opacity="0.19"/><circle cx="174.4" cy="381.4" r="1.10" fill="#a9a486" opacity="0.50"/><circle cx="190.4" cy="384.9" r="0.89" fill="#a9a486" opacity="0.18"/><circle cx="193.4" cy="388.1" r="0.75" fill="#a9a486" opacity="0.28"/><circle cx="150.8" cy="341.3" r="0.62" fill="#a9a486" opacity="0.53"/><circle cx="193.5" cy="333.7" r="0.75" fill="#a9a486" opacity="0.37"/><circle cx="159.6" cy="372.1" r="0.74" fill="#a9a486" opacity="0.32"/><circle cx="242.0" cy="347.3" r="0.77" fill="#a9a486" opacity="0.45"/><circle cx="240.1" cy="366.2" r="0.84" fill="#a9a486" opacity="0.51"/><circle cx="161.6" cy="386.8" r="0.95" fill="#a9a486" opacity="0.21"/><circle cx="160.6" cy="326.5" r="0.73" fill="#a9a486" opacity="0.42"/><circle cx="215.8" cy="357.6" r="0.80" fill="#a9a486" opacity="0.22"/><circle cx="148.2" cy="352.0" r="0.95" fill="#a9a486" opacity="0.44"/><circle cx="165.8" cy="320.2" r="0.72" fill="#a9a486" opacity="0.18"/><circle cx="161.2" cy="357.1" r="0.95" fill="#a9a486" opacity="0.25"/><circle cx="243.9" cy="318.4" r="0.72" fill="#a9a486" opacity="0.50"/><circle cx="214.1" cy="352.0" r="0.76" fill="#a9a486" opacity="0.42"/><circle cx="197.1" cy="325.7" r="0.89" fill="#a9a486" opacity="0.54"/><circle cx="236.7" cy="329.1" r="0.68" fill="#a9a486" opacity="0.19"/><circle cx="202.7" cy="369.6" r="1.12" fill="#a9a486" opacity="0.41"/><circle cx="181.4" cy="389.5" r="0.57" fill="#a9a486" opacity="0.38"/><circle cx="214.6" cy="344.9" r="1.05" fill="#a9a486" opacity="0.50"/><circle cx="195.2" cy="345.1" r="1.07" fill="#a9a486" opacity="0.15"/><circle cx="143.6" cy="315.8" r="0.81" fill="#a9a486" opacity="0.35"/><circle cx="181.5" cy="340.7" r="0.77" fill="#a9a486" opacity="0.19"/><circle cx="238.0" cy="340.6" r="0.88" fill="#a9a486" opacity="0.21"/><circle cx="156.8" cy="320.2" r="1.03" fill="#a9a486" opacity="0.19"/><circle cx="173.5" cy="356.1" r="0.61" fill="#a9a486" opacity="0.34"/><circle cx="189.8" cy="370.5" r="0.99" fill="#a9a486" opacity="0.23"/><circle cx="155.6" cy="384.3" r="0.55" fill="#a9a486" opacity="0.50"/><circle cx="178.6" cy="372.3" r="1.05" fill="#a9a486" opacity="0.38"/><circle cx="186.2" cy="348.9" r="0.57" fill="#a9a486" opacity="0.53"/><circle cx="245.8" cy="315.3" r="1.14" fill="#a9a486" opacity="0.24"/><circle cx="144.7" cy="384.2" r="0.67" fill="#a9a486" opacity="0.24"/><circle cx="222.7" cy="370.8" r="0.75" fill="#a9a486" opacity="0.17"/><circle cx="220.6" cy="317.3" r="1.02" fill="#a9a486" opacity="0.32"/><circle cx="213.4" cy="325.0" r="0.81" fill="#a9a486" opacity="0.51"/><circle cx="151.9" cy="351.9" r="1.11" fill="#a9a486" opacity="0.37"/><circle cx="193.4" cy="389.3" r="0.99" fill="#a9a486" opacity="0.44"/><circle cx="227.4" cy="373.6" r="0.72" fill="#a9a486" opacity="0.16"/><circle cx="145.8" cy="352.4" r="1.00" fill="#a9a486" opacity="0.22"/><circle cx="183.5" cy="329.5" r="0.68" fill="#a9a486" opacity="0.24"/><circle cx="188.8" cy="330.4" r="0.83" fill="#a9a486" opacity="0.42"/><circle cx="210.8" cy="319.4" r="0.79" fill="#a9a486" opacity="0.35"/><circle cx="171.2" cy="340.1" r="0.70" fill="#a9a486" opacity="0.40"/><circle cx="175.7" cy="314.5" r="0.80" fill="#a9a486" opacity="0.48"/><circle cx="148.0" cy="318.2" r="0.58" fill="#a9a486" opacity="0.22"/><circle cx="168.6" cy="360.9" r="0.78" fill="#a9a486" opacity="0.41"/><circle cx="167.5" cy="319.3" r="1.10" fill="#a9a486" opacity="0.37"/><circle cx="188.1" cy="316.5" r="0.90" fill="#a9a486" opacity="0.50"/><circle cx="154.1" cy="316.8" r="0.81" fill="#a9a486" opacity="0.40"/><circle cx="143.4" cy="326.0" r="1.14" fill="#a9a486" opacity="0.43"/><circle cx="224.3" cy="373.6" r="0.59" fill="#a9a486" opacity="0.46"/><circle cx="166.1" cy="328.9" r="1.12" fill="#a9a486" opacity="0.25"/><circle cx="158.8" cy="376.7" r="0.79" fill="#a9a486" opacity="0.47"/><circle cx="157.8" cy="345.9" r="0.66" fill="#a9a486" opacity="0.19"/><circle cx="198.3" cy="345.4" r="0.69" fill="#a9a486" opacity="0.50"/><circle cx="210.5" cy="332.0" r="0.62" fill="#a9a486" opacity="0.46"/><circle cx="150.4" cy="328.9" r="0.64" fill="#a9a486" opacity="0.49"/><circle cx="149.6" cy="335.6" r="0.90" fill="#a9a486" opacity="0.48"/><circle cx="220.0" cy="355.4" r="1.11" fill="#a9a486" opacity="0.32"/><circle cx="241.7" cy="373.2" r="1.05" fill="#a9a486" opacity="0.35"/><circle cx="173.7" cy="327.5" r="0.99" fill="#a9a486" opacity="0.19"/><circle cx="178.3" cy="355.4" r="1.14" fill="#a9a486" opacity="0.39"/><circle cx="210.5" cy="321.6" r="0.56" fill="#a9a486" opacity="0.31"/><circle cx="204.0" cy="314.9" r="0.73" fill="#a9a486" opacity="0.19"/><circle cx="207.2" cy="346.5" r="0.77" fill="#a9a486" opacity="0.33"/><circle cx="215.3" cy="380.0" r="0.88" fill="#a9a486" opacity="0.36"/><circle cx="171.7" cy="376.7" r="0.57" fill="#a9a486" opacity="0.24"/><circle cx="174.7" cy="365.1" r="0.99" fill="#a9a486" opacity="0.48"/><circle cx="215.8" cy="347.3" r="0.60" fill="#a9a486" opacity="0.28"/><circle cx="210.0" cy="376.4" r="1.14" fill="#a9a486" opacity="0.31"/><circle cx="218.5" cy="331.6" r="0.77" fill="#a9a486" opacity="0.15"/><circle cx="198.8" cy="338.4" r="0.80" fill="#a9a486" opacity="0.31"/><circle cx="205.1" cy="381.5" r="1.07" fill="#a9a486" opacity="0.26"/><circle cx="224.9" cy="338.3" r="0.83" fill="#a9a486" opacity="0.43"/><circle cx="218.8" cy="326.1" r="0.61" fill="#a9a486" opacity="0.22"/><circle cx="235.6" cy="314.9" r="0.63" fill="#a9a486" opacity="0.28"/><circle cx="185.2" cy="386.8" r="0.72" fill="#a9a486" opacity="0.20"/><circle cx="157.0" cy="361.9" r="0.98" fill="#a9a486" opacity="0.28"/><circle cx="147.1" cy="364.5" r="0.70" fill="#a9a486" opacity="0.15"/><circle cx="159.0" cy="315.7" r="0.80" fill="#a9a486" opacity="0.20"/><circle cx="223.7" cy="351.5" r="0.62" fill="#a9a486" opacity="0.25"/><circle cx="194.8" cy="389.7" r="1.14" fill="#a9a486" opacity="0.53"/><circle cx="182.2" cy="326.1" r="1.02" fill="#a9a486" opacity="0.43"/><circle cx="152.8" cy="336.7" r="0.63" fill="#a9a486" opacity="0.15"/><circle cx="216.6" cy="327.8" r="0.90" fill="#a9a486" opacity="0.37"/><circle cx="165.2" cy="319.2" r="0.97" fill="#a9a486" opacity="0.48"/><circle cx="166.2" cy="348.5" r="1.01" fill="#a9a486" opacity="0.49"/><circle cx="153.5" cy="356.4" r="0.86" fill="#a9a486" opacity="0.48"/><circle cx="150.2" cy="347.7" r="0.69" fill="#a9a486" opacity="0.32"/><circle cx="245.9" cy="383.4" r="0.56" fill="#a9a486" opacity="0.23"/><circle cx="175.9" cy="342.9" r="0.94" fill="#a9a486" opacity="0.31"/><circle cx="176.0" cy="330.4" r="0.93" fill="#a9a486" opacity="0.35"/><circle cx="199.0" cy="335.4" r="0.83" fill="#a9a486" opacity="0.43"/><circle cx="190.2" cy="312.6" r="0.95" fill="#a9a486" opacity="0.32"/><circle cx="204.1" cy="325.3" r="0.91" fill="#a9a486" opacity="0.33"/><circle cx="242.0" cy="324.1" r="1.12" fill="#a9a486" opacity="0.53"/><circle cx="221.1" cy="370.3" r="1.11" fill="#a9a486" opacity="0.49"/><circle cx="173.6" cy="380.0" r="0.97" fill="#a9a486" opacity="0.17"/><circle cx="236.5" cy="325.9" r="0.55" fill="#a9a486" opacity="0.30"/><circle cx="188.9" cy="383.7" r="0.76" fill="#a9a486" opacity="0.29"/><circle cx="216.2" cy="319.4" r="0.87" fill="#a9a486" opacity="0.19"/><circle cx="171.4" cy="354.0" r="0.68" fill="#a9a486" opacity="0.30"/><circle cx="230.5" cy="358.8" r="0.89" fill="#a9a486" opacity="0.25"/><circle cx="221.3" cy="360.1" r="0.98" fill="#a9a486" opacity="0.48"/><circle cx="179.5" cy="388.9" r="0.94" fill="#a9a486" opacity="0.20"/><circle cx="212.1" cy="320.5" r="0.65" fill="#a9a486" opacity="0.15"/><circle cx="235.8" cy="329.0" r="0.55" fill="#a9a486" opacity="0.54"/><circle cx="161.6" cy="353.3" r="0.77" fill="#a9a486" opacity="0.24"/><circle cx="158.9" cy="366.9" r="0.65" fill="#a9a486" opacity="0.51"/><circle cx="227.0" cy="316.1" r="0.78" fill="#a9a486" opacity="0.49"/><circle cx="174.7" cy="343.1" r="0.58" fill="#a9a486" opacity="0.36"/><circle cx="225.5" cy="354.1" r="0.59" fill="#a9a486" opacity="0.21"/><circle cx="160.4" cy="375.3" r="0.85" fill="#a9a486" opacity="0.42"/><circle cx="222.3" cy="363.3" r="1.07" fill="#a9a486" opacity="0.26"/><circle cx="197.3" cy="367.8" r="0.99" fill="#a9a486" opacity="0.18"/><circle cx="169.7" cy="335.2" r="0.67" fill="#a9a486" opacity="0.53"/><circle cx="224.1" cy="385.4" r="1.05" fill="#a9a486" opacity="0.41"/><circle cx="219.4" cy="336.6" r="0.63" fill="#a9a486" opacity="0.48"/><circle cx="193.0" cy="354.7" r="0.65" fill="#a9a486" opacity="0.16"/><circle cx="239.8" cy="317.8" r="0.92" fill="#a9a486" opacity="0.38"/><circle cx="213.7" cy="351.8" r="0.64" fill="#a9a486" opacity="0.46"/><circle cx="148.1" cy="382.7" r="1.12" fill="#a9a486" opacity="0.15"/><circle cx="206.2" cy="329.6" r="0.60" fill="#a9a486" opacity="0.47"/><circle cx="188.8" cy="330.3" r="0.66" fill="#a9a486" opacity="0.27"/><circle cx="207.9" cy="358.9" r="0.63" fill="#a9a486" opacity="0.29"/><circle cx="237.0" cy="313.3" r="0.98" fill="#a9a486" opacity="0.16"/><circle cx="215.0" cy="364.3" r="0.73" fill="#a9a486" opacity="0.43"/><circle cx="150.0" cy="327.6" r="1.13" fill="#a9a486" opacity="0.38"/><circle cx="243.5" cy="355.0" r="0.55" fill="#a9a486" opacity="0.16"/><circle cx="171.0" cy="335.7" r="1.12" fill="#a9a486" opacity="0.40"/><circle cx="192.0" cy="358.7" r="1.08" fill="#a9a486" opacity="0.29"/><circle cx="198.2" cy="341.1" r="1.03" fill="#a9a486" opacity="0.47"/><circle cx="240.2" cy="328.8" r="0.71" fill="#a9a486" opacity="0.52"/><circle cx="194.8" cy="322.0" r="0.73" fill="#a9a486" opacity="0.16"/><circle cx="150.8" cy="346.1" r="1.02" fill="#a9a486" opacity="0.32"/><circle cx="177.5" cy="349.6" r="0.92" fill="#a9a486" opacity="0.45"/><circle cx="225.1" cy="367.1" r="0.79" fill="#a9a486" opacity="0.20"/><circle cx="193.3" cy="383.2" r="1.11" fill="#a9a486" opacity="0.20"/><circle cx="221.6" cy="344.9" r="0.66" fill="#a9a486" opacity="0.53"/><circle cx="162.9" cy="386.0" r="0.94" fill="#a9a486" opacity="0.24"/><circle cx="201.2" cy="382.3" r="0.71" fill="#a9a486" opacity="0.28"/><circle cx="153.5" cy="333.7" r="0.91" fill="#a9a486" opacity="0.48"/><circle cx="174.1" cy="375.0" r="1.07" fill="#a9a486" opacity="0.26"/><circle cx="224.7" cy="322.3" r="0.88" fill="#a9a486" opacity="0.37"/><circle cx="235.7" cy="366.6" r="0.65" fill="#a9a486" opacity="0.41"/><circle cx="150.8" cy="387.8" r="0.81" fill="#a9a486" opacity="0.33"/><circle cx="229.1" cy="367.6" r="0.81" fill="#a9a486" opacity="0.48"/><circle cx="157.2" cy="325.0" r="1.09" fill="#a9a486" opacity="0.27"/><circle cx="208.9" cy="345.6" r="0.72" fill="#a9a486" opacity="0.18"/><circle cx="217.2" cy="377.6" r="0.65" fill="#a9a486" opacity="0.37"/><circle cx="161.2" cy="362.3" r="0.84" fill="#a9a486" opacity="0.18"/><circle cx="244.5" cy="380.0" r="0.82" fill="#a9a486" opacity="0.50"/><circle cx="209.1" cy="319.5" r="0.81" fill="#a9a486" opacity="0.48"/><circle cx="245.1" cy="361.1" r="0.91" fill="#a9a486" opacity="0.52"/><circle cx="158.9" cy="338.8" r="0.61" fill="#a9a486" opacity="0.46"/><circle cx="244.6" cy="323.9" r="0.73" fill="#a9a486" opacity="0.24"/><circle cx="226.7" cy="374.5" r="0.59" fill="#a9a486" opacity="0.37"/><circle cx="235.8" cy="327.0" r="0.67" fill="#a9a486" opacity="0.24"/><circle cx="229.0" cy="332.2" r="0.66" fill="#a9a486" opacity="0.14"/><circle cx="237.9" cy="329.0" r="0.70" fill="#a9a486" opacity="0.49"/><circle cx="184.5" cy="370.8" r="1.07" fill="#a9a486" opacity="0.19"/><circle cx="220.1" cy="347.0" r="0.84" fill="#a9a486" opacity="0.15"/><circle cx="164.6" cy="339.1" r="0.74" fill="#a9a486" opacity="0.30"/><circle cx="209.7" cy="353.4" r="0.68" fill="#a9a486" opacity="0.31"/><circle cx="206.2" cy="375.0" r="1.00" fill="#a9a486" opacity="0.41"/><circle cx="202.6" cy="353.2" r="1.00" fill="#a9a486" opacity="0.25"/><circle cx="228.4" cy="382.7" r="1.04" fill="#a9a486" opacity="0.22"/><circle cx="145.9" cy="328.5" r="1.12" fill="#a9a486" opacity="0.50"/><circle cx="246.1" cy="351.5" r="0.62" fill="#a9a486" opacity="0.41"/><circle cx="235.9" cy="345.4" r="0.56" fill="#a9a486" opacity="0.24"/><circle cx="192.4" cy="323.9" r="0.67" fill="#a9a486" opacity="0.47"/><circle cx="233.3" cy="345.6" r="0.93" fill="#a9a486" opacity="0.51"/><circle cx="155.8" cy="342.4" r="0.55" fill="#a9a486" opacity="0.26"/><circle cx="181.1" cy="368.1" r="0.86" fill="#a9a486" opacity="0.23"/><circle cx="147.9" cy="315.3" r="0.60" fill="#a9a486" opacity="0.16"/><circle cx="172.0" cy="374.0" r="0.96" fill="#a9a486" opacity="0.20"/><circle cx="150.4" cy="362.0" r="1.15" fill="#a9a486" opacity="0.26"/><circle cx="223.2" cy="383.5" r="0.97" fill="#a9a486" opacity="0.39"/><circle cx="208.1" cy="369.7" r="1.09" fill="#a9a486" opacity="0.19"/><circle cx="189.8" cy="349.8" r="0.82" fill="#a9a486" opacity="0.18"/><circle cx="238.7" cy="341.4" r="0.67" fill="#a9a486" opacity="0.33"/><circle cx="216.1" cy="341.3" r="0.86" fill="#a9a486" opacity="0.36"/><circle cx="229.0" cy="357.6" r="0.94" fill="#a9a486" opacity="0.25"/><circle cx="238.6" cy="323.6" r="0.78" fill="#a9a486" opacity="0.38"/><circle cx="179.0" cy="358.9" r="0.65" fill="#a9a486" opacity="0.20"/><circle cx="169.6" cy="377.4" r="0.62" fill="#a9a486" opacity="0.15"/><circle cx="149.4" cy="359.8" r="0.95" fill="#a9a486" opacity="0.46"/><circle cx="237.2" cy="346.1" r="1.01" fill="#a9a486" opacity="0.18"/><circle cx="225.4" cy="343.3" r="0.85" fill="#a9a486" opacity="0.47"/><circle cx="226.5" cy="340.1" r="1.03" fill="#a9a486" opacity="0.18"/><circle cx="143.6" cy="351.1" r="0.93" fill="#a9a486" opacity="0.47"/><circle cx="199.2" cy="359.0" r="0.59" fill="#a9a486" opacity="0.26"/><circle cx="243.3" cy="346.2" r="0.90" fill="#a9a486" opacity="0.27"/><circle cx="242.8" cy="355.8" r="1.14" fill="#a9a486" opacity="0.36"/><circle cx="210.2" cy="335.5" r="0.59" fill="#a9a486" opacity="0.18"/><circle cx="186.0" cy="356.5" r="0.68" fill="#a9a486" opacity="0.48"/><circle cx="167.8" cy="339.7" r="1.70" fill="#d2cda4"/><circle cx="183.8" cy="341.1" r="1.40" fill="#d2cda4"/><circle cx="225.8" cy="374.4" r="1.40" fill="#d2cda4"/><path d="M195.6,337.3 Q194.4,342.6 199.7,344.5" fill="none" stroke="#cfcaa5" stroke-width="1.5" stroke-linecap="round"/><path d="M186,357.2 Q185.5,361.9 189.9,363.1" fill="none" stroke="#cfcaa5" stroke-width="1.5" stroke-linecap="round"/><path d="M195.4,366.7 Q194.9,370 198.3,370.2" fill="none" stroke="#cfcaa5" stroke-width="1.5" stroke-linecap="round"/></g>
<text x="193.9" y="303.6" font-size="7.85" fill="#161616" text-anchor="middle">Untreated</text>
<rect x="327.1" y="286.6" width="24.8" height="40.6" fill="#929296"/>
<line x1="339.5" y1="278.4" x2="339.5" y2="286.9" stroke="#111" stroke-width="0.9"/>
<line x1="333.2" y1="278.4" x2="345.8" y2="278.4" stroke="#111" stroke-width="0.9"/>
<line x1="333.2" y1="286.9" x2="345.8" y2="286.9" stroke="#111" stroke-width="0.9"/>
<rect x="363.0" y="276.7" width="25.0" height="50.5" fill="#929296"/>
<line x1="375.5" y1="274.3" x2="375.5" y2="276.4" stroke="#111" stroke-width="0.9"/>
<line x1="369.2" y1="274.3" x2="381.8" y2="274.3" stroke="#111" stroke-width="0.9"/>
<line x1="369.2" y1="276.4" x2="381.8" y2="276.4" stroke="#111" stroke-width="0.9"/>
<rect x="398.8" y="258.9" width="24.7" height="68.3" fill="#929296"/>
<line x1="411.1" y1="252.9" x2="411.1" y2="260.6" stroke="#111" stroke-width="0.9"/>
<line x1="404.8" y1="252.9" x2="417.4" y2="252.9" stroke="#111" stroke-width="0.9"/>
<line x1="404.8" y1="257.4" x2="417.4" y2="257.4" stroke="#111" stroke-width="0.9"/>
<line x1="404.8" y1="260.6" x2="417.4" y2="260.6" stroke="#111" stroke-width="0.9"/>
<rect x="434.8" y="290.2" width="25.2" height="37.0" fill="#929296"/>
<line x1="447.4" y1="284.8" x2="447.4" y2="289.8" stroke="#111" stroke-width="0.9"/>
<line x1="441.1" y1="284.8" x2="453.7" y2="284.8" stroke="#111" stroke-width="0.9"/>
<line x1="441.1" y1="289.8" x2="453.7" y2="289.8" stroke="#111" stroke-width="0.9"/>
<text x="411.2" y="250" font-size="7.5" fill="#161616" text-anchor="middle">*</text>
<line x1="320.7" y1="231.2" x2="320.7" y2="327.9" stroke="#111" stroke-width="1.3"/>
<line x1="320.1" y1="327.3" x2="466.5" y2="327.3" stroke="#111" stroke-width="1.3"/>
<line x1="318" y1="327.2" x2="320.7" y2="327.2" stroke="#111" stroke-width="1.1"/>
<text x="317.3" y="329.6" font-size="6.6" font-weight="bold" fill="#111" text-anchor="end">0</text>
<line x1="318" y1="308.1" x2="320.7" y2="308.1" stroke="#111" stroke-width="1.1"/>
<text x="317.3" y="310.5" font-size="6.6" font-weight="bold" fill="#111" text-anchor="end">50</text>
<line x1="318" y1="289.0" x2="320.7" y2="289.0" stroke="#111" stroke-width="1.1"/>
<text x="317.3" y="291.4" font-size="6.6" font-weight="bold" fill="#111" text-anchor="end">100</text>
<line x1="318" y1="270.0" x2="320.7" y2="270.0" stroke="#111" stroke-width="1.1"/>
<text x="317.3" y="272.4" font-size="6.6" font-weight="bold" fill="#111" text-anchor="end">150</text>
<line x1="318" y1="250.9" x2="320.7" y2="250.9" stroke="#111" stroke-width="1.1"/>
<text x="317.3" y="253.3" font-size="6.6" font-weight="bold" fill="#111" text-anchor="end">200</text>
<line x1="318" y1="231.8" x2="320.7" y2="231.8" stroke="#111" stroke-width="1.1"/>
<text x="317.3" y="234.2" font-size="6.6" font-weight="bold" fill="#111" text-anchor="end">250</text>
<line x1="339.5" y1="327.3" x2="339.5" y2="330.4" stroke="#111" stroke-width="1.1"/>
<text transform="translate(342.1,335.9) rotate(-45)" font-size="7.6" font-weight="bold" fill="#111" text-anchor="end">AZA only</text>
<line x1="375.5" y1="327.3" x2="375.5" y2="330.4" stroke="#111" stroke-width="1.1"/>
<text transform="translate(378.1,335.9) rotate(-45)" font-size="7.6" font-weight="bold" fill="#111" text-anchor="end">Anti-ITGα5 only</text>
<line x1="411.1" y1="327.3" x2="411.1" y2="330.4" stroke="#111" stroke-width="1.1"/>
<text transform="translate(413.8,335.9) rotate(-45)" font-size="7.6" font-weight="bold" fill="#111" text-anchor="end">AZA +anti-ITGα5 only</text>
<line x1="447.4" y1="327.3" x2="447.4" y2="330.4" stroke="#111" stroke-width="1.1"/>
<text transform="translate(450.0,335.9) rotate(-45)" font-size="7.6" font-weight="bold" fill="#111" text-anchor="end">Untreated</text>
<text transform="translate(301.3,279) rotate(-90)" font-size="7.4" font-weight="bold" fill="#111" text-anchor="middle">Number of colonies</text>
<rect x="440.8" y="209.6" width="10.6" height="4.6" fill="#0a0a0a" stroke="#888" stroke-width="0.5"/>
<rect x="440.6" y="219.6" width="11" height="6" fill="#787878"/>
<rect x="440.6" y="231.8" width="11" height="6" fill="#929296"/>
<text x="456.7" y="214.8" font-size="7.5" fill="#161616">GEMM</text>
<text x="456.7" y="225.7" font-size="7.5" fill="#161616">BFU-E</text>
<text x="456.7" y="237.3" font-size="7.5" fill="#161616">GM</text>
</g>
</svg>
</body></html>
